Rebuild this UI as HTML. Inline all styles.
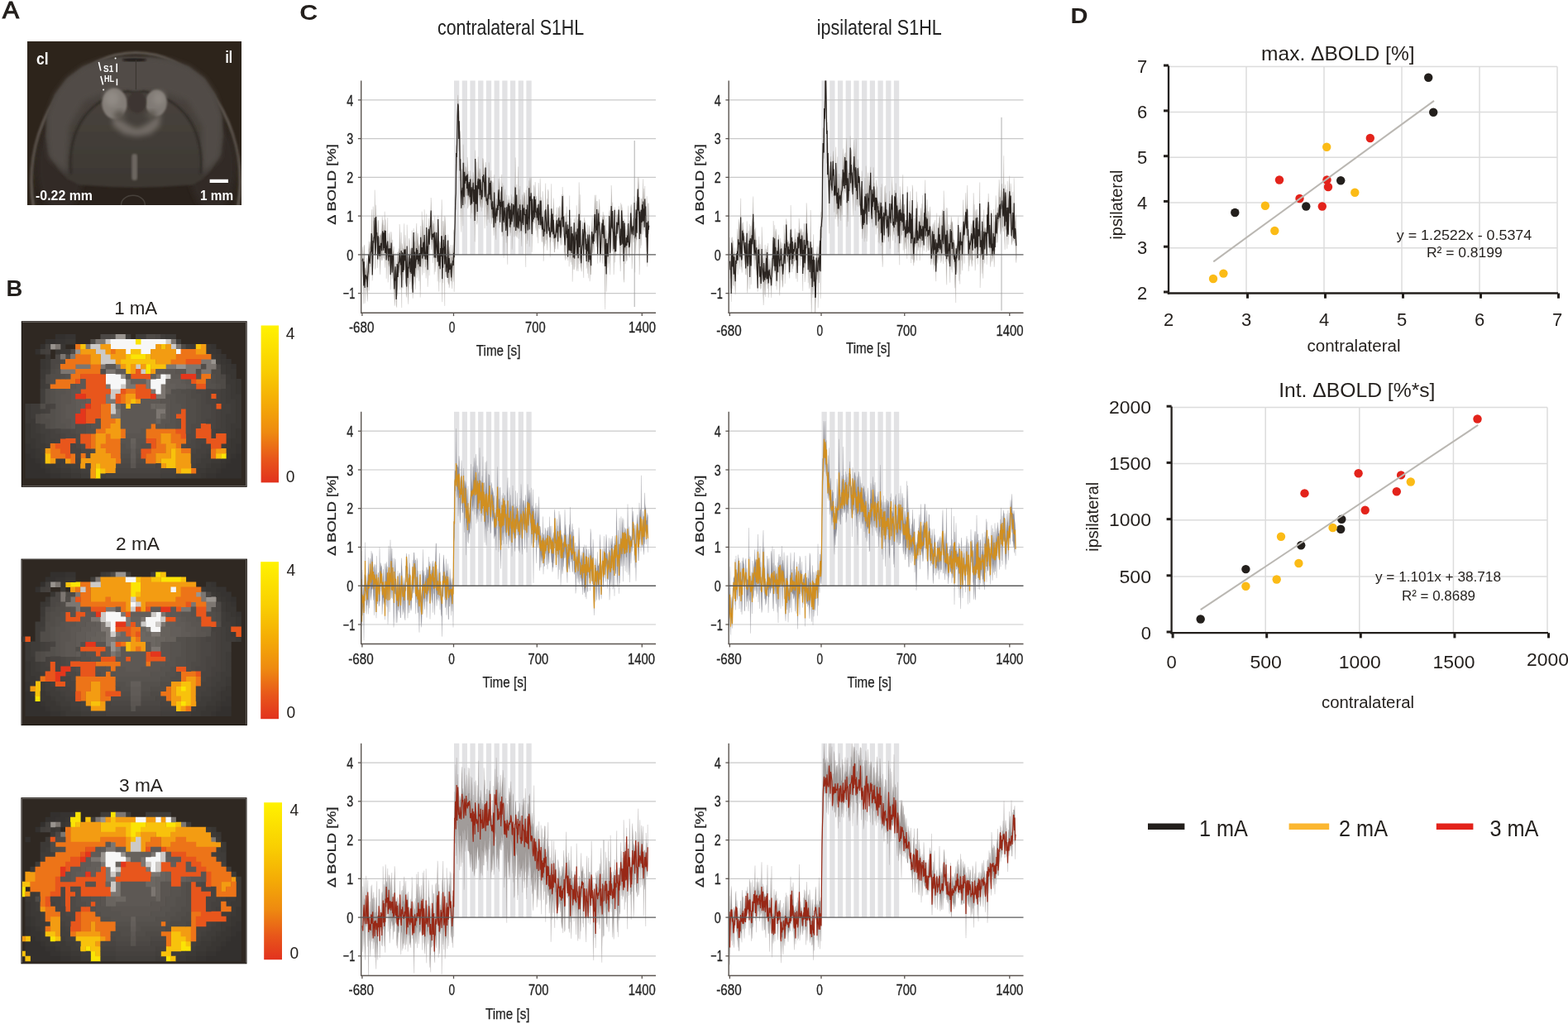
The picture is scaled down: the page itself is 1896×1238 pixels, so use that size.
<!DOCTYPE html><html><head><meta charset="utf-8"><style>html,body{margin:0;padding:0;background:#fff;}svg{display:block;}text{font-family:'Liberation Sans', Arial, sans-serif;}</style></head><body>
<svg width="1896" height="1238" viewBox="0 0 1896 1238">
<rect width="1896" height="1238" fill="#fff"/>
<text x="3.0" y="21.8" font-size="29" text-anchor="start" fill="#231f1c" font-weight="normal" textLength="20.0" lengthAdjust="spacingAndGlyphs" stroke="#231f1c" stroke-width="1.1">A</text>
<text x="7.6" y="358.0" font-size="27.5" text-anchor="start" fill="#231f1c" font-weight="bold" textLength="19.8" lengthAdjust="spacingAndGlyphs" >B</text>
<text x="362.2" y="24.2" font-size="25" text-anchor="start" fill="#231f1c" font-weight="bold" textLength="22.0" lengthAdjust="spacingAndGlyphs" >C</text>
<text x="1294.6" y="27.7" font-size="26" text-anchor="start" fill="#231f1c" font-weight="bold" textLength="21.0" lengthAdjust="spacingAndGlyphs" >D</text>
<clipPath id="clipA"><rect x="33" y="50" width="259" height="198"/></clipPath>
<filter id="blA" x="-10%" y="-10%" width="120%" height="120%"><feGaussianBlur stdDeviation="1.3"/></filter>
<filter id="blA2" x="-30%" y="-30%" width="160%" height="160%"><feGaussianBlur stdDeviation="3"/></filter>
<linearGradient id="brainG" x1="0" y1="0" x2="0" y2="1"><stop offset="0" stop-color="#4a4540"/><stop offset="0.5" stop-color="#45403a"/><stop offset="1" stop-color="#3c3732"/></linearGradient>
<rect x="33" y="50" width="259" height="198" fill="#2d241b"/>
<g clip-path="url(#clipA)">
<ellipse cx="164.1" cy="219.5" rx="126.3" ry="155.9" fill="#332b23" stroke="#5e5750" stroke-width="3" filter="url(#blA)"/>
<ellipse cx="164.1" cy="219.5" rx="121.5" ry="152.4" fill="#2a231c" filter="url(#blA)"/>
<ellipse cx="73.0" cy="201.9" rx="28.8" ry="52.8" fill="#332c25" filter="url(#blA2)"/>
<ellipse cx="256.9" cy="201.9" rx="28.8" ry="52.8" fill="#332c25" filter="url(#blA2)"/>
<polygon points="55.4,165.1 57.0,139.5 66.6,114.0 81.0,94.8 100.2,80.4 122.5,72.4 144.9,69.5 164.1,69.2 183.3,69.5 205.7,72.4 228.1,80.4 247.3,94.8 260.1,114.0 268.0,139.5 269.6,165.1 267.3,185.9 256.9,203.5 245.7,216.3 232.9,223.5 192.9,225.9 164.1,226.7 135.3,225.9 95.4,223.5 81.0,216.3 69.8,203.5 58.6,185.9" fill="url(#brainG)" filter="url(#blA)"/>
<polygon points="59.4,190.7 57.0,165.1 57.0,139.5 66.6,114.0 81.0,94.8 100.2,80.4 122.5,72.4 144.9,69.5 164.1,69.2 183.3,69.5 205.7,72.4 228.1,80.4 247.3,94.8 260.1,114.0 268.0,139.5 268.0,165.1 265.7,190.7 245.7,209.9 244.1,177.9 244.1,152.3 226.5,122.0 202.5,112.4 176.9,110.4 164.1,112.4 151.3,110.4 125.7,112.4 101.8,122.0 84.2,152.3 82.6,177.9 81.0,209.9" fill="#514c46" filter="url(#blA2)"/>
<path d="M85.8,209.9 C81.0,152.3 109.8,118.8 154.5,110.4 Q164.1,113.6 173.7,110.4 C218.5,118.8 247.3,152.3 242.5,209.9" fill="none" stroke="#2f2a25" stroke-width="2.4" filter="url(#blA)"/>
<ellipse cx="162.5" cy="72.4" rx="14.4" ry="1.9" fill="#1d1813" filter="url(#blA)"/>
<line x1="164.4" y1="72.4" x2="164.4" y2="108.4" stroke="#3a342e" stroke-width="1"/>
<polygon points="135.3,133.1 148.1,145.9 157.7,152.3 165.7,155.5 173.7,152.3 183.3,145.9 194.5,133.1 192.9,152.3 181.7,161.9 165.7,165.1 149.7,161.9 136.9,152.3" fill="#726c66" filter="url(#blA2)"/>
<ellipse cx="138.5" cy="125.2" rx="15.2" ry="18.4" fill="#837d77" filter="url(#blA)"/>
<ellipse cx="188.9" cy="124.4" rx="12.8" ry="16.0" fill="#807a74" filter="url(#blA)"/>
<ellipse cx="135.3" cy="118.8" rx="8.8" ry="9.6" fill="#918b85" filter="url(#blA2)"/>
<ellipse cx="192.1" cy="118.8" rx="7.2" ry="8.0" fill="#8e8882" filter="url(#blA2)"/>
<ellipse cx="165.7" cy="123.6" rx="11.2" ry="12.8" fill="#3c3630" filter="url(#blA)"/>
<ellipse cx="144.9" cy="139.5" rx="7.2" ry="5.6" fill="#5a544e" filter="url(#blA2)"/>
<ellipse cx="182.5" cy="138.7" rx="6.4" ry="4.8" fill="#5a544e" filter="url(#blA2)"/>
<rect x="159.3" y="185.9" width="6.7" height="32.0" rx="3" fill="#6c6660" filter="url(#blA)"/>
<ellipse cx="160.9" cy="247.5" rx="14.4" ry="11.2" fill="none" stroke="#47413b" stroke-width="1.5"/>
</g>
<text x="44" y="77.5" font-size="21" font-family="'Liberation Sans', Arial, sans-serif" font-weight="bold" fill="#ffffff" textLength="14.5" lengthAdjust="spacingAndGlyphs">cl</text>
<text x="272.6" y="76.4" font-size="21" font-family="'Liberation Sans', Arial, sans-serif" font-weight="bold" fill="#ffffff" textLength="8.5" lengthAdjust="spacingAndGlyphs">il</text>
<text x="43" y="242" font-size="16" font-family="'Liberation Sans', Arial, sans-serif" font-weight="bold" fill="#ffffff" textLength="69" lengthAdjust="spacingAndGlyphs">-0.22 mm</text>
<text x="242" y="242" font-size="16" font-family="'Liberation Sans', Arial, sans-serif" font-weight="bold" fill="#ffffff" textLength="40" lengthAdjust="spacingAndGlyphs">1 mm</text>
<rect x="253.6" y="216.8" width="22.4" height="4.2" fill="#ffffff"/>
<text x="125.1" y="87.2" font-size="11" font-family="'Liberation Sans', Arial, sans-serif" font-weight="bold" fill="#ffffff" textLength="12.1" lengthAdjust="spacingAndGlyphs">S1</text>
<text x="125.9" y="98.9" font-size="10" font-family="'Liberation Sans', Arial, sans-serif" font-weight="bold" fill="#ffffff" textLength="12.1" lengthAdjust="spacingAndGlyphs">HL</text>
<path d="M119.4,75 L121.9,85.5 M121.9,92 L124.6,102.5 M141.2,76.7 L141.2,87.2 M141.4,95.2 L141.4,103.3" stroke="#fff" stroke-width="1.6" fill="none"/>
<circle cx="139.6" cy="70.6" r="1" fill="#fff"/><circle cx="125.1" cy="108.6" r="1" fill="#fff"/>
<clipPath id="hc0"><rect x="26.9" y="389.3" width="270.7" height="198.5"/></clipPath>
<g clip-path="url(#hc0)">
<rect x="26.9" y="389.3" width="270.7" height="198.5" fill="#2f2822"/>
<g transform="translate(24.34,386.1) scale(6.07,6.0)">
<path fill="#33302e" d="M7 3h2.07v1.07h-2.07zM5 4h2.07v1.07h-2.07zM4 5h1.07v1.07h-1.07zM3 6h1.07v1.07h-1.07zM1 27h1.07v1.07h-1.07zM43 27h1.07v1.07h-1.07zM1 28h2.07v1.07h-2.07zM42 28h2.07v1.07h-2.07zM1 29h3.07v1.07h-3.07zM41 29h3.07v1.07h-3.07zM1 30h4.07v1.07h-4.07zM40 30h4.07v1.07h-4.07zM1 31h5.07v1.07h-5.07zM39 31h5.07v1.07h-5.07z"/>
<path fill="#363331" d="M9 3h2.07v1.07h-2.07zM7 4h2.07v1.07h-2.07zM38 5h1.07v1.07h-1.07zM39 6h1.07v1.07h-1.07zM40 7h1.07v1.07h-1.07zM41 8h1.07v1.07h-1.07zM42 9h1.07v1.07h-1.07zM1 25h1.07v1.07h-1.07zM43 25h1.07v1.07h-1.07zM1 26h2.07v1.07h-2.07zM43 26h1.07v1.07h-1.07zM2 27h1.07v1.07h-1.07zM42 27h1.07v1.07h-1.07zM3 28h1.07v1.07h-1.07zM41 28h1.07v1.07h-1.07zM4 29h1.07v1.07h-1.07zM40 29h1.07v1.07h-1.07zM5 30h1.07v1.07h-1.07zM39 30h1.07v1.07h-1.07zM6 31h2.07v1.07h-2.07zM37 31h2.07v1.07h-2.07z"/>
<path fill="#4b4744" d="M16 3h2.07v1.07h-2.07zM27 3h1.07v1.07h-1.07zM7 7h1.07v1.07h-1.07zM6 8h2.07v1.07h-2.07zM6 9h1.07v1.07h-1.07zM39 9h1.07v1.07h-1.07zM40 11h1.07v1.07h-1.07zM35 14h2.07v1.07h-2.07zM36 15h1.07v1.07h-1.07zM36 16h1.07v1.07h-1.07zM36 17h2.07v1.07h-2.07zM36 18h2.07v1.07h-2.07zM36 19h2.07v1.07h-2.07zM36 20h1.07v1.07h-1.07zM8 22h2.07v1.07h-2.07zM9 23h2.07v1.07h-2.07zM34 24h1.07v1.07h-1.07zM11 25h1.07v1.07h-1.07zM33 25h2.07v1.07h-2.07zM12 26h2.07v1.07h-2.07zM13 27h1.07v1.07h-1.07zM19 29h3.07v1.07h-3.07zM23 29h4.07v1.07h-4.07z"/>
<path fill="#4e4a46" d="M18 3h1.07v1.07h-1.07zM25 3h2.07v1.07h-2.07zM14 4h1.07v1.07h-1.07zM32 5h1.07v1.07h-1.07zM10 6h1.07v1.07h-1.07zM9 7h1.07v1.07h-1.07zM8 8h1.07v1.07h-1.07zM7 9h1.07v1.07h-1.07zM6 10h1.07v1.07h-1.07zM38 10h2.07v1.07h-2.07zM5 11h1.07v1.07h-1.07zM39 11h1.07v1.07h-1.07zM5 12h1.07v1.07h-1.07zM39 12h2.07v1.07h-2.07zM40 13h1.07v1.07h-1.07zM34 14h1.07v1.07h-1.07zM34 15h2.07v1.07h-2.07zM35 16h1.07v1.07h-1.07zM35 17h1.07v1.07h-1.07zM35 18h1.07v1.07h-1.07zM3 19h1.07v1.07h-1.07zM35 19h1.07v1.07h-1.07zM3 20h1.07v1.07h-1.07zM35 20h1.07v1.07h-1.07zM34 21h2.07v1.07h-2.07zM10 22h1.07v1.07h-1.07zM34 22h1.07v1.07h-1.07zM11 23h1.07v1.07h-1.07zM33 23h2.07v1.07h-2.07zM11 24h1.07v1.07h-1.07zM33 24h1.07v1.07h-1.07zM12 25h1.07v1.07h-1.07zM32 25h1.07v1.07h-1.07zM14 26h1.07v1.07h-1.07zM20 28h2.07v1.07h-2.07zM23 28h2.07v1.07h-2.07z"/>
<path fill="#99948f" d="M19 3h2.07v1.07h-2.07zM6 5h1.07v1.07h-1.07zM11 6h1.07v1.07h-1.07zM38 8h1.07v1.07h-1.07zM31 9h2.07v1.07h-2.07zM20 11h1.07v1.07h-1.07z"/>
<path fill="#3f3c39" d="M21 3h1.07v1.07h-1.07zM23 3h2.07v1.07h-2.07zM28 3h1.07v1.07h-1.07zM31 4h1.07v1.07h-1.07zM33 5h1.07v1.07h-1.07zM5 10h1.07v1.07h-1.07zM4 12h1.07v1.07h-1.07zM4 13h1.07v1.07h-1.07zM41 13h1.07v1.07h-1.07zM41 14h1.07v1.07h-1.07zM41 15h1.07v1.07h-1.07zM41 16h2.07v1.07h-2.07zM2 17h2.07v1.07h-2.07zM42 17h1.07v1.07h-1.07zM2 18h2.07v1.07h-2.07zM42 18h1.07v1.07h-1.07zM2 19h1.07v1.07h-1.07zM41 19h2.07v1.07h-2.07zM41 20h2.07v1.07h-2.07zM3 21h1.07v1.07h-1.07zM41 21h1.07v1.07h-1.07zM3 22h1.07v1.07h-1.07zM41 22h1.07v1.07h-1.07zM4 23h1.07v1.07h-1.07zM41 23h1.07v1.07h-1.07zM4 24h1.07v1.07h-1.07zM5 25h1.07v1.07h-1.07zM40 25h1.07v1.07h-1.07zM37 27h1.07v1.07h-1.07zM7 28h2.07v1.07h-2.07zM36 28h2.07v1.07h-2.07zM8 29h2.07v1.07h-2.07zM35 29h2.07v1.07h-2.07zM10 30h2.07v1.07h-2.07zM12 31h2.07v1.07h-2.07zM31 31h3.07v1.07h-3.07z"/>
<path fill="#3c3936" d="M29 3h2.07v1.07h-2.07zM34 5h1.07v1.07h-1.07zM8 6h2.07v1.07h-2.07zM38 7h1.07v1.07h-1.07zM5 8h1.07v1.07h-1.07zM39 8h1.07v1.07h-1.07zM5 9h1.07v1.07h-1.07zM40 9h1.07v1.07h-1.07zM4 10h1.07v1.07h-1.07zM40 10h1.07v1.07h-1.07zM4 11h1.07v1.07h-1.07zM41 11h1.07v1.07h-1.07zM41 12h2.07v1.07h-2.07zM42 13h1.07v1.07h-1.07zM42 14h1.07v1.07h-1.07zM42 15h2.07v1.07h-2.07zM43 16h1.07v1.07h-1.07zM1 17h1.07v1.07h-1.07zM43 17h1.07v1.07h-1.07zM1 18h1.07v1.07h-1.07zM43 18h1.07v1.07h-1.07zM1 19h1.07v1.07h-1.07zM43 19h1.07v1.07h-1.07zM1 20h2.07v1.07h-2.07zM43 20h1.07v1.07h-1.07zM2 21h1.07v1.07h-1.07zM42 21h2.07v1.07h-2.07zM2 22h1.07v1.07h-1.07zM42 22h1.07v1.07h-1.07zM2 23h2.07v1.07h-2.07zM42 23h1.07v1.07h-1.07zM3 24h1.07v1.07h-1.07zM41 24h1.07v1.07h-1.07zM3 25h2.07v1.07h-2.07zM41 25h1.07v1.07h-1.07zM4 26h1.07v1.07h-1.07zM38 28h2.07v1.07h-2.07zM7 29h1.07v1.07h-1.07zM37 29h1.07v1.07h-1.07zM8 30h2.07v1.07h-2.07zM35 30h2.07v1.07h-2.07zM10 31h2.07v1.07h-2.07zM34 31h2.07v1.07h-2.07z"/>
<path fill="#393633" d="M9 4h2.07v1.07h-2.07zM8 5h1.07v1.07h-1.07zM37 5h1.07v1.07h-1.07zM7 6h1.07v1.07h-1.07zM37 6h2.07v1.07h-2.07zM5 7h1.07v1.07h-1.07zM39 7h1.07v1.07h-1.07zM4 8h1.07v1.07h-1.07zM40 8h1.07v1.07h-1.07zM4 9h1.07v1.07h-1.07zM41 9h1.07v1.07h-1.07zM41 10h2.07v1.07h-2.07zM42 11h1.07v1.07h-1.07zM43 12h1.07v1.07h-1.07zM43 13h1.07v1.07h-1.07zM43 14h1.07v1.07h-1.07zM1 21h1.07v1.07h-1.07zM1 22h1.07v1.07h-1.07zM43 22h1.07v1.07h-1.07zM1 23h1.07v1.07h-1.07zM43 23h1.07v1.07h-1.07zM1 24h2.07v1.07h-2.07zM42 24h2.07v1.07h-2.07zM2 25h1.07v1.07h-1.07zM42 25h1.07v1.07h-1.07zM3 26h1.07v1.07h-1.07zM41 26h2.07v1.07h-2.07zM3 27h2.07v1.07h-2.07zM41 27h1.07v1.07h-1.07zM4 28h1.07v1.07h-1.07zM40 28h1.07v1.07h-1.07zM5 29h2.07v1.07h-2.07zM38 29h2.07v1.07h-2.07zM6 30h2.07v1.07h-2.07zM37 30h2.07v1.07h-2.07zM8 31h2.07v1.07h-2.07zM36 31h1.07v1.07h-1.07z"/>
<path fill="#7c7671" d="M15 4h2.07v1.07h-2.07zM30 4h1.07v1.07h-1.07zM7 5h1.07v1.07h-1.07zM13 5h1.07v1.07h-1.07zM31 5h1.07v1.07h-1.07zM8 7h1.07v1.07h-1.07zM10 7h1.07v1.07h-1.07zM36 8h2.07v1.07h-2.07zM11 9h3.07v1.07h-3.07zM16 9h1.07v1.07h-1.07zM19 9h1.07v1.07h-1.07zM29 9h2.07v1.07h-2.07zM33 9h3.07v1.07h-3.07zM37 9h2.07v1.07h-2.07zM8 10h3.07v1.07h-3.07zM17 10h2.07v1.07h-2.07zM33 10h2.07v1.07h-2.07zM36 10h2.07v1.07h-2.07zM27 11h1.07v1.07h-1.07zM21 12h1.07v1.07h-1.07zM25 12h1.07v1.07h-1.07zM17 13h1.07v1.07h-1.07zM21 13h2.07v1.07h-2.07zM25 13h1.07v1.07h-1.07zM28 13h1.07v1.07h-1.07zM26 14h1.07v1.07h-1.07zM28 14h1.07v1.07h-1.07zM17 15h1.07v1.07h-1.07zM27 15h2.07v1.07h-2.07zM17 16h2.07v1.07h-2.07zM19 18h1.07v1.07h-1.07zM27 18h2.07v1.07h-2.07zM18 19h2.07v1.07h-2.07zM27 19h1.07v1.07h-1.07z"/>
<path fill="#cdcac7" d="M17 4h1.07v1.07h-1.07zM29 4h1.07v1.07h-1.07zM14 5h2.07v1.07h-2.07zM30 5h1.07v1.07h-1.07zM15 6h2.07v1.07h-2.07zM16 7h2.07v1.07h-2.07zM16 8h3.07v1.07h-3.07zM23 9h1.07v1.07h-1.07zM24 10h1.07v1.07h-1.07zM29 11h1.07v1.07h-1.07zM20 13h1.07v1.07h-1.07zM18 14h2.07v1.07h-2.07zM18 15h1.07v1.07h-1.07zM18 17h1.07v1.07h-1.07zM18 18h1.07v1.07h-1.07z"/>
<path fill="#f7f7f7" d="M18 4h5.07v1.07h-5.07zM24 4h5.07v1.07h-5.07zM18 5h9.07v1.07h-9.07zM21 6h1.07v1.07h-1.07zM24 6h2.07v1.07h-2.07zM31 6h1.07v1.07h-1.07zM17 11h3.07v1.07h-3.07zM28 11h1.07v1.07h-1.07zM17 12h4.07v1.07h-4.07zM26 12h3.07v1.07h-3.07zM18 13h2.07v1.07h-2.07zM26 13h2.07v1.07h-2.07zM27 14h1.07v1.07h-1.07z"/>
<path fill="#fbe405" d="M23 4h1.07v1.07h-1.07zM22 7h3.07v1.07h-3.07zM25 9h1.07v1.07h-1.07zM25 10h1.07v1.07h-1.07zM40 27h1.07v1.07h-1.07zM15 30h1.07v1.07h-1.07zM15 31h1.07v1.07h-1.07z"/>
<path fill="#423f3c" d="M5 5h1.07v1.07h-1.07zM4 6h1.07v1.07h-1.07zM5 13h1.07v1.07h-1.07zM4 14h1.07v1.07h-1.07zM40 14h1.07v1.07h-1.07zM4 15h1.07v1.07h-1.07zM40 15h1.07v1.07h-1.07zM4 16h1.07v1.07h-1.07zM40 16h1.07v1.07h-1.07zM40 17h2.07v1.07h-2.07zM4 18h1.07v1.07h-1.07zM40 18h2.07v1.07h-2.07zM40 19h1.07v1.07h-1.07zM40 20h1.07v1.07h-1.07zM4 21h1.07v1.07h-1.07zM40 21h1.07v1.07h-1.07zM4 22h2.07v1.07h-2.07zM39 22h2.07v1.07h-2.07zM5 23h1.07v1.07h-1.07zM5 24h2.07v1.07h-2.07zM37 26h1.07v1.07h-1.07zM36 27h1.07v1.07h-1.07zM35 28h1.07v1.07h-1.07zM10 29h2.07v1.07h-2.07zM34 29h1.07v1.07h-1.07zM12 30h2.07v1.07h-2.07zM16 31h1.07v1.07h-1.07zM28 31h3.07v1.07h-3.07z"/>
<path fill="#ed7418" d="M11 5h1.07v1.07h-1.07zM18 6h1.07v1.07h-1.07zM32 6h3.07v1.07h-3.07zM11 7h3.07v1.07h-3.07zM31 7h7.07v1.07h-7.07zM9 8h5.07v1.07h-5.07zM30 8h3.07v1.07h-3.07zM8 9h3.07v1.07h-3.07zM14 9h2.07v1.07h-2.07zM11 10h5.07v1.07h-5.07zM10 11h2.07v1.07h-2.07zM36 11h2.07v1.07h-2.07zM7 12h4.07v1.07h-4.07zM35 12h2.07v1.07h-2.07zM6 13h4.07v1.07h-4.07zM21 14h2.07v1.07h-2.07zM20 15h1.07v1.07h-1.07zM20 16h1.07v1.07h-1.07zM16 17h2.07v1.07h-2.07zM16 18h2.07v1.07h-2.07zM16 19h2.07v1.07h-2.07zM16 20h3.07v1.07h-3.07zM16 21h2.07v1.07h-2.07zM26 21h1.07v1.07h-1.07zM15 22h2.07v1.07h-2.07zM20 22h1.07v1.07h-1.07zM25 22h6.07v1.07h-6.07zM14 23h1.07v1.07h-1.07zM17 23h1.07v1.07h-1.07zM20 23h1.07v1.07h-1.07zM25 23h3.07v1.07h-3.07zM30 23h2.07v1.07h-2.07zM14 24h1.07v1.07h-1.07zM17 24h3.07v1.07h-3.07zM27 24h1.07v1.07h-1.07zM30 24h3.07v1.07h-3.07zM6 25h1.07v1.07h-1.07zM14 25h1.07v1.07h-1.07zM16 25h4.07v1.07h-4.07zM27 25h2.07v1.07h-2.07zM31 25h1.07v1.07h-1.07zM6 26h2.07v1.07h-2.07zM17 26h3.07v1.07h-3.07zM26 26h3.07v1.07h-3.07zM32 26h2.07v1.07h-2.07zM38 26h1.07v1.07h-1.07zM6 27h3.07v1.07h-3.07zM10 27h1.07v1.07h-1.07zM12 27h1.07v1.07h-1.07zM18 27h2.07v1.07h-2.07zM25 27h2.07v1.07h-2.07zM38 27h1.07v1.07h-1.07zM10 28h1.07v1.07h-1.07zM19 28h1.07v1.07h-1.07zM25 28h2.07v1.07h-2.07zM34 30h1.07v1.07h-1.07z"/>
<path fill="#f8c20c" d="M12 5h1.07v1.07h-1.07zM28 5h1.07v1.07h-1.07zM35 5h1.07v1.07h-1.07zM22 6h2.07v1.07h-2.07zM21 7h1.07v1.07h-1.07zM25 7h1.07v1.07h-1.07zM20 8h7.07v1.07h-7.07zM21 9h1.07v1.07h-1.07zM26 9h3.07v1.07h-3.07zM21 10h1.07v1.07h-1.07zM22 16h1.07v1.07h-1.07zM21 17h1.07v1.07h-1.07zM30 26h1.07v1.07h-1.07zM5 27h1.07v1.07h-1.07zM30 27h1.07v1.07h-1.07zM39 27h1.07v1.07h-1.07zM5 28h1.07v1.07h-1.07zM28 28h3.07v1.07h-3.07zM15 29h1.07v1.07h-1.07zM29 29h2.07v1.07h-2.07zM16 30h1.07v1.07h-1.07zM32 30h2.07v1.07h-2.07z"/>
<path fill="#f39c12" d="M16 5h2.07v1.07h-2.07zM27 5h1.07v1.07h-1.07zM29 5h1.07v1.07h-1.07zM36 5h1.07v1.07h-1.07zM12 6h3.07v1.07h-3.07zM17 6h1.07v1.07h-1.07zM19 6h2.07v1.07h-2.07zM26 6h5.07v1.07h-5.07zM35 6h2.07v1.07h-2.07zM14 7h2.07v1.07h-2.07zM18 7h3.07v1.07h-3.07zM26 7h5.07v1.07h-5.07zM14 8h2.07v1.07h-2.07zM19 8h1.07v1.07h-1.07zM27 8h3.07v1.07h-3.07zM20 9h1.07v1.07h-1.07zM22 9h1.07v1.07h-1.07zM24 9h1.07v1.07h-1.07zM22 10h1.07v1.07h-1.07zM26 10h1.07v1.07h-1.07zM21 15h2.07v1.07h-2.07zM21 16h1.07v1.07h-1.07zM23 16h1.07v1.07h-1.07zM19 20h1.07v1.07h-1.07zM18 21h2.07v1.07h-2.07zM17 22h3.07v1.07h-3.07zM15 23h2.07v1.07h-2.07zM18 23h2.07v1.07h-2.07zM28 23h2.07v1.07h-2.07zM15 24h2.07v1.07h-2.07zM28 24h2.07v1.07h-2.07zM15 25h1.07v1.07h-1.07zM29 25h2.07v1.07h-2.07zM5 26h1.07v1.07h-1.07zM15 26h2.07v1.07h-2.07zM29 26h1.07v1.07h-1.07zM31 26h1.07v1.07h-1.07zM39 26h2.07v1.07h-2.07zM14 27h4.07v1.07h-4.07zM27 27h3.07v1.07h-3.07zM31 27h3.07v1.07h-3.07zM6 28h1.07v1.07h-1.07zM9 28h1.07v1.07h-1.07zM12 28h7.07v1.07h-7.07zM27 28h1.07v1.07h-1.07zM31 28h3.07v1.07h-3.07zM12 29h1.07v1.07h-1.07zM14 29h1.07v1.07h-1.07zM16 29h3.07v1.07h-3.07zM28 29h1.07v1.07h-1.07zM31 29h3.07v1.07h-3.07zM14 30h1.07v1.07h-1.07zM17 30h2.07v1.07h-2.07zM31 30h1.07v1.07h-1.07zM14 31h1.07v1.07h-1.07z"/>
<path fill="#45413e" d="M5 6h1.07v1.07h-1.07zM38 14h2.07v1.07h-2.07zM39 15h1.07v1.07h-1.07zM39 16h1.07v1.07h-1.07zM5 17h1.07v1.07h-1.07zM5 18h1.07v1.07h-1.07zM39 18h1.07v1.07h-1.07zM39 19h1.07v1.07h-1.07zM39 20h1.07v1.07h-1.07zM39 21h1.07v1.07h-1.07zM6 22h1.07v1.07h-1.07zM38 22h1.07v1.07h-1.07zM6 23h2.07v1.07h-2.07zM38 23h1.07v1.07h-1.07zM7 24h1.07v1.07h-1.07zM36 25h2.07v1.07h-2.07zM35 26h2.07v1.07h-2.07zM34 27h2.07v1.07h-2.07zM11 28h1.07v1.07h-1.07zM34 28h1.07v1.07h-1.07zM13 29h1.07v1.07h-1.07zM28 30h3.07v1.07h-3.07zM17 31h11.07v1.07h-11.07z"/>
<path fill="#e8561c" d="M33 8h3.07v1.07h-3.07zM23 10h1.07v1.07h-1.07zM12 11h5.07v1.07h-5.07zM22 11h4.07v1.07h-4.07zM11 12h1.07v1.07h-1.07zM13 12h4.07v1.07h-4.07zM34 12h1.07v1.07h-1.07zM13 13h4.07v1.07h-4.07zM23 13h2.07v1.07h-2.07zM35 13h2.07v1.07h-2.07zM12 14h6.07v1.07h-6.07zM20 14h1.07v1.07h-1.07zM23 14h3.07v1.07h-3.07zM13 15h4.07v1.07h-4.07zM19 15h1.07v1.07h-1.07zM23 15h3.07v1.07h-3.07zM38 15h1.07v1.07h-1.07zM14 16h3.07v1.07h-3.07zM19 16h1.07v1.07h-1.07zM14 17h2.07v1.07h-2.07zM39 17h1.07v1.07h-1.07zM13 18h3.07v1.07h-3.07zM32 18h1.07v1.07h-1.07zM13 19h3.07v1.07h-3.07zM31 19h2.07v1.07h-2.07zM13 20h2.07v1.07h-2.07zM32 20h1.07v1.07h-1.07zM32 21h1.07v1.07h-1.07zM36 21h2.07v1.07h-2.07zM31 22h2.07v1.07h-2.07zM35 22h3.07v1.07h-3.07zM12 23h2.07v1.07h-2.07zM32 23h1.07v1.07h-1.07zM35 23h3.07v1.07h-3.07zM39 23h2.07v1.07h-2.07zM8 24h3.07v1.07h-3.07zM12 24h2.07v1.07h-2.07zM25 24h2.07v1.07h-2.07zM37 24h4.07v1.07h-4.07zM7 25h3.07v1.07h-3.07zM13 25h1.07v1.07h-1.07zM26 25h1.07v1.07h-1.07zM38 25h2.07v1.07h-2.07zM8 26h2.07v1.07h-2.07zM24 26h2.07v1.07h-2.07zM9 27h1.07v1.07h-1.07zM24 27h1.07v1.07h-1.07z"/>
<path fill="#5d5854" d="M17 9h2.07v1.07h-2.07zM29 10h2.07v1.07h-2.07zM30 11h2.07v1.07h-2.07zM12 12h1.07v1.07h-1.07zM32 12h1.07v1.07h-1.07zM11 13h2.07v1.07h-2.07zM33 13h1.07v1.07h-1.07zM10 14h2.07v1.07h-2.07zM10 15h1.07v1.07h-1.07zM10 16h1.07v1.07h-1.07zM24 16h4.07v1.07h-4.07zM9 17h2.07v1.07h-2.07zM20 17h1.07v1.07h-1.07zM22 17h4.07v1.07h-4.07zM9 18h2.07v1.07h-2.07zM20 18h7.07v1.07h-7.07zM9 19h2.07v1.07h-2.07zM20 19h7.07v1.07h-7.07zM10 20h1.07v1.07h-1.07zM20 20h7.07v1.07h-7.07zM10 21h1.07v1.07h-1.07zM20 21h6.07v1.07h-6.07zM21 22h3.07v1.07h-3.07zM22 28h1.07v1.07h-1.07z"/>
<path fill="#514d49" d="M36 9h1.07v1.07h-1.07zM7 10h1.07v1.07h-1.07zM16 10h1.07v1.07h-1.07zM6 11h2.07v1.07h-2.07zM38 11h1.07v1.07h-1.07zM6 12h1.07v1.07h-1.07zM38 12h1.07v1.07h-1.07zM39 13h1.07v1.07h-1.07zM5 14h1.07v1.07h-1.07zM32 14h2.07v1.07h-2.07zM5 15h1.07v1.07h-1.07zM33 15h1.07v1.07h-1.07zM5 16h1.07v1.07h-1.07zM33 16h2.07v1.07h-2.07zM4 17h1.07v1.07h-1.07zM33 17h2.07v1.07h-2.07zM33 18h2.07v1.07h-2.07zM4 19h1.07v1.07h-1.07zM33 19h2.07v1.07h-2.07zM4 20h2.07v1.07h-2.07zM33 20h2.07v1.07h-2.07zM5 21h1.07v1.07h-1.07zM11 21h2.07v1.07h-2.07zM33 21h1.07v1.07h-1.07zM11 22h2.07v1.07h-2.07zM33 22h1.07v1.07h-1.07zM20 27h2.07v1.07h-2.07zM23 27h1.07v1.07h-1.07z"/>
<path fill="#605b57" d="M19 10h2.07v1.07h-2.07zM27 10h2.07v1.07h-2.07zM30 12h2.07v1.07h-2.07zM31 13h2.07v1.07h-2.07zM11 16h2.07v1.07h-2.07zM11 17h1.07v1.07h-1.07zM11 18h1.07v1.07h-1.07zM22 26h1.07v1.07h-1.07zM22 27h1.07v1.07h-1.07z"/>
<path fill="#5a5551" d="M31 10h2.07v1.07h-2.07zM33 12h1.07v1.07h-1.07zM10 13h1.07v1.07h-1.07zM34 13h1.07v1.07h-1.07zM9 14h1.07v1.07h-1.07zM8 15h2.07v1.07h-2.07zM8 16h2.07v1.07h-2.07zM28 16h2.07v1.07h-2.07zM8 17h1.07v1.07h-1.07zM29 17h1.07v1.07h-1.07zM8 18h1.07v1.07h-1.07zM29 18h1.07v1.07h-1.07zM8 19h1.07v1.07h-1.07zM29 19h1.07v1.07h-1.07zM8 20h2.07v1.07h-2.07zM28 20h2.07v1.07h-2.07zM9 21h1.07v1.07h-1.07zM27 21h2.07v1.07h-2.07zM24 22h1.07v1.07h-1.07zM21 23h4.07v1.07h-4.07zM22 29h1.07v1.07h-1.07z"/>
<path fill="#54504c" d="M35 10h1.07v1.07h-1.07zM8 11h1.07v1.07h-1.07zM37 12h1.07v1.07h-1.07zM37 13h2.07v1.07h-2.07zM6 14h1.07v1.07h-1.07zM30 14h2.07v1.07h-2.07zM6 15h1.07v1.07h-1.07zM31 15h2.07v1.07h-2.07zM6 16h1.07v1.07h-1.07zM31 16h2.07v1.07h-2.07zM32 17h1.07v1.07h-1.07zM6 18h1.07v1.07h-1.07zM5 19h2.07v1.07h-2.07zM6 20h1.07v1.07h-1.07zM31 20h1.07v1.07h-1.07zM6 21h1.07v1.07h-1.07zM13 21h1.07v1.07h-1.07zM31 21h1.07v1.07h-1.07zM13 22h2.07v1.07h-2.07zM20 25h1.07v1.07h-1.07zM24 25h2.07v1.07h-2.07zM20 26h2.07v1.07h-2.07zM23 26h1.07v1.07h-1.07z"/>
<path fill="#57534f" d="M9 11h1.07v1.07h-1.07zM21 11h1.07v1.07h-1.07zM35 11h1.07v1.07h-1.07zM7 14h2.07v1.07h-2.07zM7 15h1.07v1.07h-1.07zM29 15h2.07v1.07h-2.07zM7 16h1.07v1.07h-1.07zM30 16h1.07v1.07h-1.07zM7 17h1.07v1.07h-1.07zM30 17h2.07v1.07h-2.07zM7 18h1.07v1.07h-1.07zM30 18h2.07v1.07h-2.07zM7 19h1.07v1.07h-1.07zM30 19h1.07v1.07h-1.07zM7 20h1.07v1.07h-1.07zM15 20h1.07v1.07h-1.07zM30 20h1.07v1.07h-1.07zM7 21h2.07v1.07h-2.07zM14 21h2.07v1.07h-2.07zM29 21h2.07v1.07h-2.07zM20 24h2.07v1.07h-2.07zM23 24h2.07v1.07h-2.07zM21 25h1.07v1.07h-1.07zM23 25h1.07v1.07h-1.07z"/>
<path fill="#635e5a" d="M26 11h1.07v1.07h-1.07zM29 12h1.07v1.07h-1.07zM29 13h2.07v1.07h-2.07zM13 16h1.07v1.07h-1.07zM12 17h1.07v1.07h-1.07zM22 25h1.07v1.07h-1.07z"/>
<path fill="#e4361c" d="M32 11h3.07v1.07h-3.07zM11 15h2.07v1.07h-2.07zM26 15h1.07v1.07h-1.07zM13 17h1.07v1.07h-1.07zM12 18h1.07v1.07h-1.07zM11 19h2.07v1.07h-2.07zM11 20h2.07v1.07h-2.07z"/>
<path fill="#66615c" d="M22 12h3.07v1.07h-3.07zM29 14h1.07v1.07h-1.07zM22 24h1.07v1.07h-1.07z"/>
<path fill="#484441" d="M37 14h1.07v1.07h-1.07zM37 15h1.07v1.07h-1.07zM37 16h2.07v1.07h-2.07zM6 17h1.07v1.07h-1.07zM38 17h1.07v1.07h-1.07zM38 18h1.07v1.07h-1.07zM38 19h1.07v1.07h-1.07zM37 20h2.07v1.07h-2.07zM38 21h1.07v1.07h-1.07zM7 22h1.07v1.07h-1.07zM8 23h1.07v1.07h-1.07zM35 24h2.07v1.07h-2.07zM10 25h1.07v1.07h-1.07zM35 25h1.07v1.07h-1.07zM10 26h2.07v1.07h-2.07zM34 26h1.07v1.07h-1.07zM11 27h1.07v1.07h-1.07zM27 29h1.07v1.07h-1.07zM19 30h9.07v1.07h-9.07z"/>
<path fill="#6c6762" d="M19 17h1.07v1.07h-1.07zM26 17h1.07v1.07h-1.07z"/>
<path fill="#69645f" d="M27 17h2.07v1.07h-2.07zM28 19h1.07v1.07h-1.07zM27 20h1.07v1.07h-1.07z"/>
</g>
</g>
<rect x="26.4" y="388.8" width="271.7" height="199.5" fill="none" stroke="#1b1510" stroke-width="1.2"/>
<clipPath id="hc1"><rect x="26.6" y="676.7" width="271.2" height="199.3"/></clipPath>
<g clip-path="url(#hc1)">
<rect x="26.6" y="676.7" width="271.2" height="199.3" fill="#2f2822"/>
<g transform="translate(24.34,673.6) scale(6.07,6.0)">
<path fill="#33302e" d="M6 3h3.07v1.07h-3.07zM5 4h2.07v1.07h-2.07zM4 5h1.07v1.07h-1.07zM3 6h1.07v1.07h-1.07zM42 8h1.07v1.07h-1.07zM1 27h1.07v1.07h-1.07zM1 28h2.07v1.07h-2.07zM1 29h3.07v1.07h-3.07zM1 30h4.07v1.07h-4.07zM40 30h2.07v1.07h-2.07zM1 31h5.07v1.07h-5.07zM39 31h3.07v1.07h-3.07z"/>
<path fill="#363331" d="M9 3h2.07v1.07h-2.07zM7 4h2.07v1.07h-2.07zM38 5h1.07v1.07h-1.07zM39 6h2.07v1.07h-2.07zM40 7h2.07v1.07h-2.07zM41 8h1.07v1.07h-1.07zM42 9h1.07v1.07h-1.07zM43 11h1.07v1.07h-1.07zM1 25h1.07v1.07h-1.07zM1 26h1.07v1.07h-1.07zM2 27h1.07v1.07h-1.07zM41 28h1.07v1.07h-1.07zM4 29h1.07v1.07h-1.07zM40 29h2.07v1.07h-2.07zM5 30h1.07v1.07h-1.07zM39 30h1.07v1.07h-1.07zM6 31h2.07v1.07h-2.07zM38 31h1.07v1.07h-1.07z"/>
<path fill="#3c3936" d="M16 3h1.07v1.07h-1.07zM8 6h1.07v1.07h-1.07zM36 6h1.07v1.07h-1.07zM38 7h1.07v1.07h-1.07zM39 8h1.07v1.07h-1.07zM5 9h1.07v1.07h-1.07zM40 9h1.07v1.07h-1.07zM4 10h1.07v1.07h-1.07zM40 10h1.07v1.07h-1.07zM4 11h1.07v1.07h-1.07zM41 11h1.07v1.07h-1.07zM41 12h2.07v1.07h-2.07zM42 13h1.07v1.07h-1.07zM42 15h1.07v1.07h-1.07zM43 16h1.07v1.07h-1.07zM1 17h1.07v1.07h-1.07zM1 18h1.07v1.07h-1.07zM1 19h1.07v1.07h-1.07zM1 20h2.07v1.07h-2.07zM2 21h1.07v1.07h-1.07zM2 22h1.07v1.07h-1.07zM2 23h2.07v1.07h-2.07zM3 24h1.07v1.07h-1.07zM41 24h1.07v1.07h-1.07zM4 25h1.07v1.07h-1.07zM41 25h1.07v1.07h-1.07zM4 26h1.07v1.07h-1.07zM40 26h1.07v1.07h-1.07zM5 27h1.07v1.07h-1.07zM39 27h1.07v1.07h-1.07zM6 28h1.07v1.07h-1.07zM38 28h2.07v1.07h-2.07zM7 29h1.07v1.07h-1.07zM37 29h2.07v1.07h-2.07zM8 30h2.07v1.07h-2.07zM35 30h2.07v1.07h-2.07zM9 31h3.07v1.07h-3.07zM34 31h2.07v1.07h-2.07z"/>
<path fill="#3f3c39" d="M17 3h1.07v1.07h-1.07zM21 3h1.07v1.07h-1.07zM26 3h1.07v1.07h-1.07zM14 4h1.07v1.07h-1.07zM40 11h1.07v1.07h-1.07zM4 12h1.07v1.07h-1.07zM40 12h1.07v1.07h-1.07zM3 13h2.07v1.07h-2.07zM40 13h2.07v1.07h-2.07zM3 14h1.07v1.07h-1.07zM41 14h1.07v1.07h-1.07zM3 15h1.07v1.07h-1.07zM41 15h1.07v1.07h-1.07zM3 16h1.07v1.07h-1.07zM41 16h2.07v1.07h-2.07zM2 17h2.07v1.07h-2.07zM2 18h2.07v1.07h-2.07zM2 19h1.07v1.07h-1.07zM41 19h1.07v1.07h-1.07zM41 20h1.07v1.07h-1.07zM3 21h1.07v1.07h-1.07zM41 21h1.07v1.07h-1.07zM3 22h1.07v1.07h-1.07zM41 22h1.07v1.07h-1.07zM4 23h1.07v1.07h-1.07zM40 23h2.07v1.07h-2.07zM40 24h1.07v1.07h-1.07zM5 25h1.07v1.07h-1.07zM39 25h2.07v1.07h-2.07zM5 26h2.07v1.07h-2.07zM38 26h2.07v1.07h-2.07zM6 27h2.07v1.07h-2.07zM38 27h1.07v1.07h-1.07zM7 28h2.07v1.07h-2.07zM36 28h2.07v1.07h-2.07zM8 29h2.07v1.07h-2.07zM35 29h2.07v1.07h-2.07zM10 30h2.07v1.07h-2.07zM34 30h1.07v1.07h-1.07zM12 31h2.07v1.07h-2.07zM31 31h3.07v1.07h-3.07z"/>
<path fill="#4e4a46" d="M18 3h1.07v1.07h-1.07zM9 7h2.07v1.07h-2.07zM7 9h1.07v1.07h-1.07zM6 10h1.07v1.07h-1.07zM38 10h1.07v1.07h-1.07zM5 11h1.07v1.07h-1.07zM39 11h1.07v1.07h-1.07zM5 12h1.07v1.07h-1.07zM39 12h1.07v1.07h-1.07zM35 16h1.07v1.07h-1.07zM35 17h1.07v1.07h-1.07zM35 18h1.07v1.07h-1.07zM3 19h1.07v1.07h-1.07zM35 19h1.07v1.07h-1.07zM3 20h1.07v1.07h-1.07zM9 20h2.07v1.07h-2.07zM35 20h1.07v1.07h-1.07zM9 21h1.07v1.07h-1.07zM34 21h2.07v1.07h-2.07zM10 22h1.07v1.07h-1.07zM34 22h1.07v1.07h-1.07zM11 23h1.07v1.07h-1.07zM26 27h2.07v1.07h-2.07zM18 28h4.07v1.07h-4.07zM24 28h3.07v1.07h-3.07z"/>
<path fill="#99948f" d="M19 3h2.07v1.07h-2.07zM6 5h1.07v1.07h-1.07zM35 7h1.07v1.07h-1.07zM37 8h2.07v1.07h-2.07zM18 17h1.07v1.07h-1.07zM18 18h1.07v1.07h-1.07z"/>
<path fill="#fbe405" d="M27 3h1.07v1.07h-1.07zM28 4h4.07v1.07h-4.07zM10 5h2.07v1.07h-2.07zM22 5h2.07v1.07h-2.07zM22 6h2.07v1.07h-2.07zM22 7h1.07v1.07h-1.07zM32 26h1.07v1.07h-1.07zM3 28h1.07v1.07h-1.07zM32 29h1.07v1.07h-1.07z"/>
<path fill="#f8c20c" d="M28 3h1.07v1.07h-1.07zM23 4h1.07v1.07h-1.07zM26 4h2.07v1.07h-2.07zM32 4h1.07v1.07h-1.07zM9 5h1.07v1.07h-1.07zM23 7h1.07v1.07h-1.07zM21 17h1.07v1.07h-1.07zM21 18h1.07v1.07h-1.07zM3 25h1.07v1.07h-1.07zM32 25h2.07v1.07h-2.07zM3 26h1.07v1.07h-1.07zM31 26h1.07v1.07h-1.07zM33 26h1.07v1.07h-1.07zM3 27h1.07v1.07h-1.07zM31 27h3.07v1.07h-3.07zM32 28h2.07v1.07h-2.07zM14 29h2.07v1.07h-2.07zM31 29h1.07v1.07h-1.07zM33 29h1.07v1.07h-1.07zM31 30h1.07v1.07h-1.07z"/>
<path fill="#393633" d="M9 4h2.07v1.07h-2.07zM8 5h1.07v1.07h-1.07zM37 5h1.07v1.07h-1.07zM37 6h2.07v1.07h-2.07zM6 7h1.07v1.07h-1.07zM39 7h1.07v1.07h-1.07zM5 8h1.07v1.07h-1.07zM40 8h1.07v1.07h-1.07zM4 9h1.07v1.07h-1.07zM41 9h1.07v1.07h-1.07zM41 10h2.07v1.07h-2.07zM42 11h1.07v1.07h-1.07zM43 12h1.07v1.07h-1.07zM43 13h1.07v1.07h-1.07zM0 16h1.07v1.07h-1.07zM1 21h1.07v1.07h-1.07zM1 22h1.07v1.07h-1.07zM1 23h1.07v1.07h-1.07zM1 24h2.07v1.07h-2.07zM2 25h1.07v1.07h-1.07zM41 26h1.07v1.07h-1.07zM4 27h1.07v1.07h-1.07zM40 27h2.07v1.07h-2.07zM4 28h2.07v1.07h-2.07zM40 28h1.07v1.07h-1.07zM5 29h2.07v1.07h-2.07zM39 29h1.07v1.07h-1.07zM6 30h2.07v1.07h-2.07zM37 30h2.07v1.07h-2.07zM8 31h1.07v1.07h-1.07zM36 31h2.07v1.07h-2.07z"/>
<path fill="#7c7671" d="M15 4h1.07v1.07h-1.07zM7 5h1.07v1.07h-1.07zM8 7h1.07v1.07h-1.07zM11 7h1.07v1.07h-1.07zM36 7h1.07v1.07h-1.07zM8 8h1.07v1.07h-1.07zM10 8h1.07v1.07h-1.07zM36 8h1.07v1.07h-1.07zM9 9h3.07v1.07h-3.07zM34 9h1.07v1.07h-1.07zM37 9h2.07v1.07h-2.07zM11 10h1.07v1.07h-1.07zM17 10h2.07v1.07h-2.07zM32 10h2.07v1.07h-2.07zM37 10h1.07v1.07h-1.07zM20 11h1.07v1.07h-1.07zM28 11h1.07v1.07h-1.07zM14 12h2.07v1.07h-2.07zM21 12h1.07v1.07h-1.07zM24 12h1.07v1.07h-1.07zM16 13h1.07v1.07h-1.07zM21 13h1.07v1.07h-1.07zM28 13h1.07v1.07h-1.07zM16 14h2.07v1.07h-2.07zM25 14h1.07v1.07h-1.07zM17 15h1.07v1.07h-1.07zM19 15h1.07v1.07h-1.07zM26 15h2.07v1.07h-2.07zM17 16h2.07v1.07h-2.07zM17 17h1.07v1.07h-1.07zM19 18h1.07v1.07h-1.07zM26 18h2.07v1.07h-2.07zM18 19h1.07v1.07h-1.07z"/>
<path fill="#f39c12" d="M16 4h5.07v1.07h-5.07zM24 4h2.07v1.07h-2.07zM16 5h6.07v1.07h-6.07zM24 5h11.07v1.07h-11.07zM10 6h1.07v1.07h-1.07zM14 6h8.07v1.07h-8.07zM24 6h6.07v1.07h-6.07zM31 6h1.07v1.07h-1.07zM14 7h8.07v1.07h-8.07zM24 7h8.07v1.07h-8.07zM14 8h3.07v1.07h-3.07zM18 8h4.07v1.07h-4.07zM23 8h8.07v1.07h-8.07zM21 9h1.07v1.07h-1.07zM24 9h1.07v1.07h-1.07zM21 10h1.07v1.07h-1.07zM24 10h1.07v1.07h-1.07zM22 16h1.07v1.07h-1.07zM22 17h3.07v1.07h-3.07zM22 18h1.07v1.07h-1.07zM24 18h1.07v1.07h-1.07zM33 24h2.07v1.07h-2.07zM14 25h2.07v1.07h-2.07zM30 25h2.07v1.07h-2.07zM34 25h1.07v1.07h-1.07zM2 26h1.07v1.07h-1.07zM14 26h2.07v1.07h-2.07zM30 26h1.07v1.07h-1.07zM34 26h1.07v1.07h-1.07zM13 27h3.07v1.07h-3.07zM30 27h1.07v1.07h-1.07zM34 27h1.07v1.07h-1.07zM13 28h3.07v1.07h-3.07zM30 28h2.07v1.07h-2.07zM34 28h1.07v1.07h-1.07zM13 29h1.07v1.07h-1.07zM16 29h1.07v1.07h-1.07zM30 29h1.07v1.07h-1.07zM34 29h1.07v1.07h-1.07zM14 30h3.07v1.07h-3.07zM32 30h1.07v1.07h-1.07z"/>
<path fill="#f7f7f7" d="M21 4h2.07v1.07h-2.07zM30 6h1.07v1.07h-1.07zM22 9h1.07v1.07h-1.07zM17 11h3.07v1.07h-3.07zM27 11h1.07v1.07h-1.07zM17 12h4.07v1.07h-4.07zM25 12h3.07v1.07h-3.07zM18 13h1.07v1.07h-1.07zM25 13h2.07v1.07h-2.07zM18 14h1.07v1.07h-1.07zM26 14h2.07v1.07h-2.07z"/>
<path fill="#423f3c" d="M5 5h1.07v1.07h-1.07zM4 6h1.07v1.07h-1.07zM4 14h1.07v1.07h-1.07zM40 14h1.07v1.07h-1.07zM40 15h1.07v1.07h-1.07zM40 16h1.07v1.07h-1.07zM4 17h1.07v1.07h-1.07zM40 17h2.07v1.07h-2.07zM4 18h1.07v1.07h-1.07zM40 18h2.07v1.07h-2.07zM40 19h1.07v1.07h-1.07zM40 20h1.07v1.07h-1.07zM4 21h1.07v1.07h-1.07zM40 21h1.07v1.07h-1.07zM4 22h2.07v1.07h-2.07zM40 22h1.07v1.07h-1.07zM39 23h1.07v1.07h-1.07zM38 24h2.07v1.07h-2.07zM6 25h1.07v1.07h-1.07zM38 25h1.07v1.07h-1.07zM7 26h1.07v1.07h-1.07zM37 26h1.07v1.07h-1.07zM8 27h1.07v1.07h-1.07zM36 27h2.07v1.07h-2.07zM9 28h2.07v1.07h-2.07zM35 28h1.07v1.07h-1.07zM10 29h2.07v1.07h-2.07zM12 30h2.07v1.07h-2.07zM14 31h3.07v1.07h-3.07zM28 31h3.07v1.07h-3.07z"/>
<path fill="#ed7418" d="M12 5h2.07v1.07h-2.07zM11 6h1.07v1.07h-1.07zM13 6h1.07v1.07h-1.07zM32 6h4.07v1.07h-4.07zM12 7h2.07v1.07h-2.07zM32 7h3.07v1.07h-3.07zM12 8h2.07v1.07h-2.07zM17 8h1.07v1.07h-1.07zM31 8h5.07v1.07h-5.07zM12 9h9.07v1.07h-9.07zM25 9h8.07v1.07h-8.07zM35 9h2.07v1.07h-2.07zM20 10h1.07v1.07h-1.07zM22 14h2.07v1.07h-2.07zM22 15h1.07v1.07h-1.07zM23 16h1.07v1.07h-1.07zM20 17h1.07v1.07h-1.07zM23 18h1.07v1.07h-1.07zM15 21h5.07v1.07h-5.07zM25 21h1.07v1.07h-1.07zM18 22h1.07v1.07h-1.07zM17 23h1.07v1.07h-1.07zM32 23h3.07v1.07h-3.07zM4 24h1.07v1.07h-1.07zM11 24h8.07v1.07h-8.07zM32 24h1.07v1.07h-1.07zM35 24h1.07v1.07h-1.07zM11 25h3.07v1.07h-3.07zM16 25h3.07v1.07h-3.07zM35 25h1.07v1.07h-1.07zM11 26h3.07v1.07h-3.07zM16 26h3.07v1.07h-3.07zM29 26h1.07v1.07h-1.07zM12 27h1.07v1.07h-1.07zM16 27h1.07v1.07h-1.07zM28 27h2.07v1.07h-2.07zM12 28h1.07v1.07h-1.07zM16 28h2.07v1.07h-2.07zM29 28h1.07v1.07h-1.07zM33 30h1.07v1.07h-1.07z"/>
<path fill="#cdcac7" d="M14 5h2.07v1.07h-2.07zM12 6h1.07v1.07h-1.07zM22 8h1.07v1.07h-1.07zM23 9h1.07v1.07h-1.07zM22 10h1.07v1.07h-1.07zM16 11h1.07v1.07h-1.07zM26 11h1.07v1.07h-1.07zM16 12h1.07v1.07h-1.07zM28 12h1.07v1.07h-1.07zM17 13h1.07v1.07h-1.07zM24 13h1.07v1.07h-1.07zM27 13h1.07v1.07h-1.07zM18 15h1.07v1.07h-1.07z"/>
<path fill="#45413e" d="M5 6h1.07v1.07h-1.07zM38 14h2.07v1.07h-2.07zM39 15h1.07v1.07h-1.07zM39 16h1.07v1.07h-1.07zM5 17h1.07v1.07h-1.07zM39 17h1.07v1.07h-1.07zM5 18h1.07v1.07h-1.07zM39 18h1.07v1.07h-1.07zM39 19h1.07v1.07h-1.07zM5 20h1.07v1.07h-1.07zM39 20h1.07v1.07h-1.07zM5 21h1.07v1.07h-1.07zM39 21h1.07v1.07h-1.07zM38 22h2.07v1.07h-2.07zM38 23h1.07v1.07h-1.07zM37 24h1.07v1.07h-1.07zM36 25h2.07v1.07h-2.07zM8 26h2.07v1.07h-2.07zM35 26h2.07v1.07h-2.07zM9 27h2.07v1.07h-2.07zM35 27h1.07v1.07h-1.07zM12 29h1.07v1.07h-1.07zM28 30h3.07v1.07h-3.07zM17 31h11.07v1.07h-11.07z"/>
<path fill="#4b4744" d="M7 7h1.07v1.07h-1.07zM37 7h1.07v1.07h-1.07zM6 8h2.07v1.07h-2.07zM6 9h1.07v1.07h-1.07zM39 9h1.07v1.07h-1.07zM5 10h1.07v1.07h-1.07zM39 10h1.07v1.07h-1.07zM36 16h1.07v1.07h-1.07zM36 17h2.07v1.07h-2.07zM36 18h2.07v1.07h-2.07zM36 19h2.07v1.07h-2.07zM8 20h1.07v1.07h-1.07zM36 20h1.07v1.07h-1.07zM8 21h1.07v1.07h-1.07zM36 21h1.07v1.07h-1.07zM35 22h2.07v1.07h-2.07zM9 23h2.07v1.07h-2.07zM10 24h1.07v1.07h-1.07zM27 28h2.07v1.07h-2.07zM18 29h4.07v1.07h-4.07zM24 29h4.07v1.07h-4.07z"/>
<path fill="#514d49" d="M9 8h1.07v1.07h-1.07zM8 9h1.07v1.07h-1.07zM7 10h2.07v1.07h-2.07zM6 11h2.07v1.07h-2.07zM37 11h2.07v1.07h-2.07zM6 12h1.07v1.07h-1.07zM38 12h1.07v1.07h-1.07zM5 13h2.07v1.07h-2.07zM39 13h1.07v1.07h-1.07zM5 14h1.07v1.07h-1.07zM4 15h2.07v1.07h-2.07zM4 16h2.07v1.07h-2.07zM33 16h2.07v1.07h-2.07zM33 17h2.07v1.07h-2.07zM11 18h1.07v1.07h-1.07zM33 18h2.07v1.07h-2.07zM4 19h1.07v1.07h-1.07zM33 19h2.07v1.07h-2.07zM4 20h1.07v1.07h-1.07zM11 20h1.07v1.07h-1.07zM33 20h2.07v1.07h-2.07zM33 21h1.07v1.07h-1.07zM11 22h1.07v1.07h-1.07zM33 22h1.07v1.07h-1.07zM31 23h1.07v1.07h-1.07zM30 24h2.07v1.07h-2.07zM28 25h2.07v1.07h-2.07zM19 26h1.07v1.07h-1.07zM26 26h3.07v1.07h-3.07zM20 27h2.07v1.07h-2.07zM24 27h2.07v1.07h-2.07z"/>
<path fill="#e8561c" d="M11 8h1.07v1.07h-1.07zM33 9h1.07v1.07h-1.07zM14 10h3.07v1.07h-3.07zM23 10h1.07v1.07h-1.07zM25 10h1.07v1.07h-1.07zM31 10h1.07v1.07h-1.07zM35 10h2.07v1.07h-2.07zM9 11h1.07v1.07h-1.07zM11 11h2.07v1.07h-2.07zM21 11h1.07v1.07h-1.07zM35 11h2.07v1.07h-2.07zM9 12h3.07v1.07h-3.07zM29 12h2.07v1.07h-2.07zM36 12h2.07v1.07h-2.07zM22 13h1.07v1.07h-1.07zM36 13h3.07v1.07h-3.07zM19 14h3.07v1.07h-3.07zM42 14h2.07v1.07h-2.07zM21 15h1.07v1.07h-1.07zM23 15h1.07v1.07h-1.07zM43 15h1.07v1.07h-1.07zM1 16h1.07v1.07h-1.07zM19 17h1.07v1.07h-1.07zM12 18h5.07v1.07h-5.07zM15 19h1.07v1.07h-1.07zM25 19h1.07v1.07h-1.07zM16 20h3.07v1.07h-3.07zM21 20h1.07v1.07h-1.07zM25 20h4.07v1.07h-4.07zM6 21h1.07v1.07h-1.07zM10 21h5.07v1.07h-5.07zM6 22h1.07v1.07h-1.07zM12 22h3.07v1.07h-3.07zM31 22h2.07v1.07h-2.07zM5 23h2.07v1.07h-2.07zM12 23h3.07v1.07h-3.07zM35 23h1.07v1.07h-1.07zM5 24h2.07v1.07h-2.07zM7 25h2.07v1.07h-2.07zM11 27h1.07v1.07h-1.07zM17 27h3.07v1.07h-3.07zM11 28h1.07v1.07h-1.07z"/>
<path fill="#54504c" d="M9 10h1.07v1.07h-1.07zM8 11h1.07v1.07h-1.07zM7 12h2.07v1.07h-2.07zM7 13h1.07v1.07h-1.07zM6 14h1.07v1.07h-1.07zM6 15h1.07v1.07h-1.07zM6 16h1.07v1.07h-1.07zM31 16h2.07v1.07h-2.07zM12 17h1.07v1.07h-1.07zM32 17h1.07v1.07h-1.07zM6 18h1.07v1.07h-1.07zM32 18h1.07v1.07h-1.07zM5 19h2.07v1.07h-2.07zM12 19h1.07v1.07h-1.07zM32 19h1.07v1.07h-1.07zM12 20h2.07v1.07h-2.07zM31 20h2.07v1.07h-2.07zM31 21h2.07v1.07h-2.07zM30 22h1.07v1.07h-1.07zM15 23h1.07v1.07h-1.07zM29 23h2.07v1.07h-2.07zM28 24h2.07v1.07h-2.07zM19 25h2.07v1.07h-2.07zM24 25h4.07v1.07h-4.07zM20 26h2.07v1.07h-2.07zM24 26h2.07v1.07h-2.07z"/>
<path fill="#57534f" d="M10 10h1.07v1.07h-1.07zM34 10h1.07v1.07h-1.07zM10 11h1.07v1.07h-1.07zM34 11h1.07v1.07h-1.07zM35 12h1.07v1.07h-1.07zM8 13h1.07v1.07h-1.07zM7 14h2.07v1.07h-2.07zM36 14h2.07v1.07h-2.07zM7 15h1.07v1.07h-1.07zM37 15h1.07v1.07h-1.07zM7 16h1.07v1.07h-1.07zM7 17h1.07v1.07h-1.07zM30 17h2.07v1.07h-2.07zM7 18h1.07v1.07h-1.07zM30 18h2.07v1.07h-2.07zM7 19h1.07v1.07h-1.07zM13 19h2.07v1.07h-2.07zM30 19h2.07v1.07h-2.07zM14 20h2.07v1.07h-2.07zM30 20h1.07v1.07h-1.07zM29 21h2.07v1.07h-2.07zM15 22h2.07v1.07h-2.07zM28 22h2.07v1.07h-2.07zM16 23h1.07v1.07h-1.07zM18 23h1.07v1.07h-1.07zM26 23h3.07v1.07h-3.07zM19 24h9.07v1.07h-9.07zM21 25h1.07v1.07h-1.07zM22 30h1.07v1.07h-1.07z"/>
<path fill="#5a5551" d="M12 10h2.07v1.07h-2.07zM32 11h2.07v1.07h-2.07zM33 12h2.07v1.07h-2.07zM9 13h2.07v1.07h-2.07zM34 13h2.07v1.07h-2.07zM9 14h1.07v1.07h-1.07zM35 14h1.07v1.07h-1.07zM8 15h2.07v1.07h-2.07zM35 15h2.07v1.07h-2.07zM8 16h2.07v1.07h-2.07zM8 17h1.07v1.07h-1.07zM15 17h2.07v1.07h-2.07zM28 17h2.07v1.07h-2.07zM8 18h1.07v1.07h-1.07zM28 18h2.07v1.07h-2.07zM8 19h1.07v1.07h-1.07zM16 19h1.07v1.07h-1.07zM28 19h2.07v1.07h-2.07zM29 20h1.07v1.07h-1.07zM26 21h3.07v1.07h-3.07zM17 22h1.07v1.07h-1.07zM19 22h2.07v1.07h-2.07zM24 22h4.07v1.07h-4.07zM19 23h7.07v1.07h-7.07zM22 29h2.07v1.07h-2.07z"/>
<path fill="#605b57" d="M19 10h1.07v1.07h-1.07zM26 10h2.07v1.07h-2.07zM29 11h1.07v1.07h-1.07zM31 12h1.07v1.07h-1.07zM13 13h2.07v1.07h-2.07zM31 13h2.07v1.07h-2.07zM12 14h2.07v1.07h-2.07zM32 14h1.07v1.07h-1.07zM11 15h2.07v1.07h-2.07zM32 15h2.07v1.07h-2.07zM11 16h2.07v1.07h-2.07zM11 17h1.07v1.07h-1.07zM11 19h1.07v1.07h-1.07zM22 26h2.07v1.07h-2.07zM22 27h2.07v1.07h-2.07z"/>
<path fill="#e4361c" d="M28 10h2.07v1.07h-2.07zM15 11h1.07v1.07h-1.07zM19 13h2.07v1.07h-2.07zM13 17h2.07v1.07h-2.07zM26 19h2.07v1.07h-2.07zM8 22h2.07v1.07h-2.07zM7 23h2.07v1.07h-2.07zM7 24h1.07v1.07h-1.07z"/>
<path fill="#5d5854" d="M30 10h1.07v1.07h-1.07zM13 11h2.07v1.07h-2.07zM30 11h2.07v1.07h-2.07zM12 12h2.07v1.07h-2.07zM32 12h1.07v1.07h-1.07zM11 13h2.07v1.07h-2.07zM33 13h1.07v1.07h-1.07zM10 14h2.07v1.07h-2.07zM33 14h2.07v1.07h-2.07zM10 15h1.07v1.07h-1.07zM34 15h1.07v1.07h-1.07zM10 16h1.07v1.07h-1.07zM9 17h2.07v1.07h-2.07zM25 17h1.07v1.07h-1.07zM9 18h2.07v1.07h-2.07zM17 18h1.07v1.07h-1.07zM20 18h1.07v1.07h-1.07zM25 18h1.07v1.07h-1.07zM9 19h2.07v1.07h-2.07zM17 19h1.07v1.07h-1.07zM20 19h5.07v1.07h-5.07zM19 20h2.07v1.07h-2.07zM22 20h3.07v1.07h-3.07zM20 21h5.07v1.07h-5.07zM21 22h3.07v1.07h-3.07zM22 28h2.07v1.07h-2.07z"/>
<path fill="#635e5a" d="M22 11h4.07v1.07h-4.07zM15 13h1.07v1.07h-1.07zM29 13h2.07v1.07h-2.07zM14 14h2.07v1.07h-2.07zM30 14h2.07v1.07h-2.07zM13 15h2.07v1.07h-2.07zM30 15h2.07v1.07h-2.07zM13 16h1.07v1.07h-1.07zM22 25h2.07v1.07h-2.07z"/>
<path fill="#66615c" d="M22 12h2.07v1.07h-2.07zM28 14h2.07v1.07h-2.07zM15 15h2.07v1.07h-2.07zM28 15h2.07v1.07h-2.07zM14 16h2.07v1.07h-2.07zM29 16h2.07v1.07h-2.07z"/>
<path fill="#69645f" d="M23 13h1.07v1.07h-1.07zM24 14h1.07v1.07h-1.07zM25 15h1.07v1.07h-1.07zM16 16h1.07v1.07h-1.07zM27 16h2.07v1.07h-2.07zM27 17h1.07v1.07h-1.07z"/>
<path fill="#6c6762" d="M20 15h1.07v1.07h-1.07zM24 15h1.07v1.07h-1.07zM19 16h3.07v1.07h-3.07zM24 16h3.07v1.07h-3.07zM26 17h1.07v1.07h-1.07zM19 19h1.07v1.07h-1.07z"/>
<path fill="#484441" d="M38 15h1.07v1.07h-1.07zM37 16h2.07v1.07h-2.07zM6 17h1.07v1.07h-1.07zM38 17h1.07v1.07h-1.07zM38 18h1.07v1.07h-1.07zM38 19h1.07v1.07h-1.07zM6 20h2.07v1.07h-2.07zM37 20h2.07v1.07h-2.07zM7 21h1.07v1.07h-1.07zM37 21h2.07v1.07h-2.07zM7 22h1.07v1.07h-1.07zM37 22h1.07v1.07h-1.07zM36 23h2.07v1.07h-2.07zM8 24h2.07v1.07h-2.07zM36 24h1.07v1.07h-1.07zM9 25h2.07v1.07h-2.07zM10 26h1.07v1.07h-1.07zM17 29h1.07v1.07h-1.07zM28 29h2.07v1.07h-2.07zM17 30h5.07v1.07h-5.07zM23 30h5.07v1.07h-5.07z"/>
</g>
</g>
<rect x="26.1" y="676.2" width="272.2" height="200.3" fill="none" stroke="#1b1510" stroke-width="1.2"/>
<clipPath id="hc2"><rect x="26.5" y="965.3" width="270.9" height="198.9"/></clipPath>
<g clip-path="url(#hc2)">
<rect x="26.5" y="965.3" width="270.9" height="198.9" fill="#2f2822"/>
<g transform="translate(24.34,963.8) scale(6.07,6.0)">
<path fill="#33302e" d="M6 3h2.07v1.07h-2.07zM5 4h2.07v1.07h-2.07zM4 5h1.07v1.07h-1.07zM3 6h1.07v1.07h-1.07zM1 8h1.07v1.07h-1.07zM1 26h1.07v1.07h-1.07zM1 27h1.07v1.07h-1.07zM43 27h1.07v1.07h-1.07zM2 28h1.07v1.07h-1.07zM42 28h2.07v1.07h-2.07zM1 29h3.07v1.07h-3.07zM41 29h3.07v1.07h-3.07zM1 30h4.07v1.07h-4.07zM40 30h4.07v1.07h-4.07zM1 31h5.07v1.07h-5.07zM39 31h5.07v1.07h-5.07zM2 32h6.07v1.07h-6.07zM37 32h7.07v1.07h-7.07z"/>
<path fill="#363331" d="M8 3h2.07v1.07h-2.07zM7 4h2.07v1.07h-2.07zM1 24h1.07v1.07h-1.07zM1 25h1.07v1.07h-1.07zM43 25h1.07v1.07h-1.07zM2 26h1.07v1.07h-1.07zM42 26h2.07v1.07h-2.07zM2 27h2.07v1.07h-2.07zM42 27h1.07v1.07h-1.07zM3 28h1.07v1.07h-1.07zM41 28h1.07v1.07h-1.07zM4 29h1.07v1.07h-1.07zM40 29h1.07v1.07h-1.07zM5 30h2.07v1.07h-2.07zM39 30h1.07v1.07h-1.07zM6 31h2.07v1.07h-2.07zM37 31h2.07v1.07h-2.07zM8 32h2.07v1.07h-2.07zM35 32h2.07v1.07h-2.07z"/>
<path fill="#393633" d="M10 3h1.07v1.07h-1.07zM9 4h1.07v1.07h-1.07zM8 5h1.07v1.07h-1.07zM6 6h1.07v1.07h-1.07zM38 6h1.07v1.07h-1.07zM39 7h1.07v1.07h-1.07zM1 21h1.07v1.07h-1.07zM1 22h1.07v1.07h-1.07zM43 22h1.07v1.07h-1.07zM1 23h1.07v1.07h-1.07zM43 23h1.07v1.07h-1.07zM2 24h1.07v1.07h-1.07zM42 24h2.07v1.07h-2.07zM2 25h1.07v1.07h-1.07zM42 25h1.07v1.07h-1.07zM3 26h1.07v1.07h-1.07zM41 26h1.07v1.07h-1.07zM4 27h1.07v1.07h-1.07zM40 27h2.07v1.07h-2.07zM4 28h2.07v1.07h-2.07zM39 28h2.07v1.07h-2.07zM5 29h2.07v1.07h-2.07zM38 29h2.07v1.07h-2.07zM7 30h1.07v1.07h-1.07zM37 30h2.07v1.07h-2.07zM8 31h2.07v1.07h-2.07zM35 31h2.07v1.07h-2.07zM10 32h2.07v1.07h-2.07zM33 32h2.07v1.07h-2.07z"/>
<path fill="#fbe405" d="M11 3h1.07v1.07h-1.07zM18 3h1.07v1.07h-1.07zM10 4h2.07v1.07h-2.07zM10 5h1.07v1.07h-1.07zM22 5h3.07v1.07h-3.07zM29 5h2.07v1.07h-2.07zM22 6h2.07v1.07h-2.07zM22 7h1.07v1.07h-1.07zM0 18h1.07v1.07h-1.07zM0 19h1.07v1.07h-1.07zM6 28h1.07v1.07h-1.07zM32 29h1.07v1.07h-1.07zM13 30h1.07v1.07h-1.07zM32 30h2.07v1.07h-2.07zM14 31h1.07v1.07h-1.07zM14 32h2.07v1.07h-2.07zM29 32h1.07v1.07h-1.07z"/>
<path fill="#3f3c39" d="M16 3h2.07v1.07h-2.07zM21 3h1.07v1.07h-1.07zM25 3h5.07v1.07h-5.07zM14 4h1.07v1.07h-1.07zM33 5h1.07v1.07h-1.07zM5 10h1.07v1.07h-1.07zM39 10h1.07v1.07h-1.07zM4 11h2.07v1.07h-2.07zM39 11h2.07v1.07h-2.07zM4 12h1.07v1.07h-1.07zM40 12h1.07v1.07h-1.07zM3 13h1.07v1.07h-1.07zM41 14h1.07v1.07h-1.07zM3 19h1.07v1.07h-1.07zM41 20h2.07v1.07h-2.07zM3 21h1.07v1.07h-1.07zM41 21h1.07v1.07h-1.07zM3 22h1.07v1.07h-1.07zM4 23h1.07v1.07h-1.07zM40 23h2.07v1.07h-2.07zM4 24h1.07v1.07h-1.07zM5 25h1.07v1.07h-1.07zM39 25h1.07v1.07h-1.07zM38 26h2.07v1.07h-2.07zM37 27h2.07v1.07h-2.07zM8 28h1.07v1.07h-1.07zM36 28h2.07v1.07h-2.07zM9 29h2.07v1.07h-2.07zM35 29h1.07v1.07h-1.07zM10 30h2.07v1.07h-2.07zM34 30h1.07v1.07h-1.07zM12 31h2.07v1.07h-2.07zM30 31h3.07v1.07h-3.07zM16 32h3.07v1.07h-3.07zM27 32h2.07v1.07h-2.07z"/>
<path fill="#7c7671" d="M19 3h2.07v1.07h-2.07zM15 4h1.07v1.07h-1.07zM30 4h1.07v1.07h-1.07zM7 5h1.07v1.07h-1.07zM32 5h1.07v1.07h-1.07zM8 7h1.07v1.07h-1.07zM38 8h1.07v1.07h-1.07zM18 9h1.07v1.07h-1.07zM17 10h2.07v1.07h-2.07zM26 11h1.07v1.07h-1.07zM14 12h2.07v1.07h-2.07zM24 12h1.07v1.07h-1.07zM16 13h1.07v1.07h-1.07zM24 13h1.07v1.07h-1.07zM17 14h1.07v1.07h-1.07zM25 14h1.07v1.07h-1.07zM17 15h1.07v1.07h-1.07zM19 15h1.07v1.07h-1.07zM26 15h2.07v1.07h-2.07zM17 16h2.07v1.07h-2.07zM19 17h1.07v1.07h-1.07zM19 18h1.07v1.07h-1.07zM26 18h1.07v1.07h-1.07zM18 19h2.07v1.07h-2.07zM26 19h1.07v1.07h-1.07z"/>
<path fill="#f8c20c" d="M13 4h1.07v1.07h-1.07zM18 4h1.07v1.07h-1.07zM11 5h1.07v1.07h-1.07zM16 5h6.07v1.07h-6.07zM25 5h4.07v1.07h-4.07zM31 5h1.07v1.07h-1.07zM16 6h3.07v1.07h-3.07zM21 6h1.07v1.07h-1.07zM24 6h7.07v1.07h-7.07zM21 7h1.07v1.07h-1.07zM23 7h1.07v1.07h-1.07zM27 7h3.07v1.07h-3.07zM22 8h1.07v1.07h-1.07zM0 17h2.07v1.07h-2.07zM5 27h2.07v1.07h-2.07zM30 27h2.07v1.07h-2.07zM1 28h1.07v1.07h-1.07zM7 28h1.07v1.07h-1.07zM11 28h5.07v1.07h-5.07zM30 28h3.07v1.07h-3.07zM12 29h3.07v1.07h-3.07zM30 29h2.07v1.07h-2.07zM33 29h1.07v1.07h-1.07zM12 30h1.07v1.07h-1.07zM14 30h2.07v1.07h-2.07zM29 30h3.07v1.07h-3.07zM0 31h1.07v1.07h-1.07zM15 31h1.07v1.07h-1.07zM28 31h2.07v1.07h-2.07zM1 32h1.07v1.07h-1.07zM30 32h1.07v1.07h-1.07z"/>
<path fill="#99948f" d="M16 4h1.07v1.07h-1.07zM6 5h1.07v1.07h-1.07zM16 11h1.07v1.07h-1.07zM20 11h1.07v1.07h-1.07zM16 12h1.07v1.07h-1.07zM21 12h1.07v1.07h-1.07z"/>
<path fill="#f39c12" d="M17 4h1.07v1.07h-1.07zM19 4h4.07v1.07h-4.07zM25 4h2.07v1.07h-2.07zM28 4h1.07v1.07h-1.07zM12 5h4.07v1.07h-4.07zM10 6h6.07v1.07h-6.07zM19 6h2.07v1.07h-2.07zM31 6h6.07v1.07h-6.07zM10 7h11.07v1.07h-11.07zM24 7h3.07v1.07h-3.07zM30 7h8.07v1.07h-8.07zM10 8h6.07v1.07h-6.07zM21 8h1.07v1.07h-1.07zM24 8h2.07v1.07h-2.07zM28 8h3.07v1.07h-3.07zM33 8h5.07v1.07h-5.07zM21 9h1.07v1.07h-1.07zM24 9h1.07v1.07h-1.07zM28 9h2.07v1.07h-2.07zM35 9h5.07v1.07h-5.07zM21 10h1.07v1.07h-1.07zM24 10h1.07v1.07h-1.07zM1 15h2.07v1.07h-2.07zM1 16h2.07v1.07h-2.07zM42 16h1.07v1.07h-1.07zM40 17h2.07v1.07h-2.07zM40 18h1.07v1.07h-1.07zM1 19h1.07v1.07h-1.07zM4 22h1.07v1.07h-1.07zM6 24h2.07v1.07h-2.07zM6 25h2.07v1.07h-2.07zM14 25h1.07v1.07h-1.07zM6 26h2.07v1.07h-2.07zM14 26h1.07v1.07h-1.07zM30 26h4.07v1.07h-4.07zM7 27h1.07v1.07h-1.07zM11 27h5.07v1.07h-5.07zM32 27h2.07v1.07h-2.07zM0 28h1.07v1.07h-1.07zM16 28h1.07v1.07h-1.07zM33 28h1.07v1.07h-1.07zM15 29h1.07v1.07h-1.07z"/>
<path fill="#f7f7f7" d="M23 4h2.07v1.07h-2.07zM27 4h1.07v1.07h-1.07zM29 4h1.07v1.07h-1.07zM17 11h3.07v1.07h-3.07zM27 11h1.07v1.07h-1.07zM17 12h4.07v1.07h-4.07zM25 12h3.07v1.07h-3.07zM17 13h2.07v1.07h-2.07zM26 13h1.07v1.07h-1.07zM18 14h1.07v1.07h-1.07zM26 14h1.07v1.07h-1.07z"/>
<path fill="#423f3c" d="M5 5h1.07v1.07h-1.07zM4 6h1.07v1.07h-1.07zM6 11h1.07v1.07h-1.07zM38 11h1.07v1.07h-1.07zM39 12h1.07v1.07h-1.07zM40 13h1.07v1.07h-1.07zM40 20h1.07v1.07h-1.07zM39 22h1.07v1.07h-1.07zM38 25h1.07v1.07h-1.07zM8 26h1.07v1.07h-1.07zM37 26h1.07v1.07h-1.07zM8 27h2.07v1.07h-2.07zM36 27h1.07v1.07h-1.07zM9 28h2.07v1.07h-2.07zM35 28h1.07v1.07h-1.07zM11 29h1.07v1.07h-1.07zM34 29h1.07v1.07h-1.07zM16 31h3.07v1.07h-3.07zM27 31h1.07v1.07h-1.07zM19 32h8.07v1.07h-8.07z"/>
<path fill="#3c3936" d="M9 5h1.07v1.07h-1.07zM7 6h1.07v1.07h-1.07zM37 6h1.07v1.07h-1.07zM6 7h1.07v1.07h-1.07zM38 7h1.07v1.07h-1.07zM5 8h1.07v1.07h-1.07zM39 8h1.07v1.07h-1.07zM4 9h2.07v1.07h-2.07zM40 9h1.07v1.07h-1.07zM4 10h1.07v1.07h-1.07zM40 10h1.07v1.07h-1.07zM2 14h1.07v1.07h-1.07zM42 15h1.07v1.07h-1.07zM43 16h1.07v1.07h-1.07zM43 17h1.07v1.07h-1.07zM43 18h1.07v1.07h-1.07zM2 19h1.07v1.07h-1.07zM43 19h1.07v1.07h-1.07zM1 20h2.07v1.07h-2.07zM43 20h1.07v1.07h-1.07zM2 21h1.07v1.07h-1.07zM42 21h2.07v1.07h-2.07zM2 22h1.07v1.07h-1.07zM42 22h1.07v1.07h-1.07zM2 23h2.07v1.07h-2.07zM42 23h1.07v1.07h-1.07zM3 24h1.07v1.07h-1.07zM41 24h1.07v1.07h-1.07zM3 25h2.07v1.07h-2.07zM40 25h2.07v1.07h-2.07zM4 26h1.07v1.07h-1.07zM40 26h1.07v1.07h-1.07zM39 27h1.07v1.07h-1.07zM38 28h1.07v1.07h-1.07zM7 29h2.07v1.07h-2.07zM36 29h2.07v1.07h-2.07zM8 30h2.07v1.07h-2.07zM35 30h2.07v1.07h-2.07zM10 31h2.07v1.07h-2.07zM33 31h2.07v1.07h-2.07zM12 32h2.07v1.07h-2.07zM31 32h2.07v1.07h-2.07z"/>
<path fill="#45413e" d="M5 6h1.07v1.07h-1.07zM39 20h1.07v1.07h-1.07zM6 21h1.07v1.07h-1.07zM38 21h2.07v1.07h-2.07zM38 22h1.07v1.07h-1.07zM8 25h1.07v1.07h-1.07zM37 25h1.07v1.07h-1.07zM9 26h1.07v1.07h-1.07zM35 26h2.07v1.07h-2.07zM35 27h1.07v1.07h-1.07zM16 30h3.07v1.07h-3.07zM27 30h2.07v1.07h-2.07zM19 31h8.07v1.07h-8.07z"/>
<path fill="#ed7418" d="M9 6h1.07v1.07h-1.07zM9 7h1.07v1.07h-1.07zM9 8h1.07v1.07h-1.07zM16 8h5.07v1.07h-5.07zM26 8h2.07v1.07h-2.07zM31 8h2.07v1.07h-2.07zM7 9h10.07v1.07h-10.07zM19 9h2.07v1.07h-2.07zM25 9h3.07v1.07h-3.07zM30 9h5.07v1.07h-5.07zM9 10h4.07v1.07h-4.07zM29 10h10.07v1.07h-10.07zM7 11h5.07v1.07h-5.07zM33 11h5.07v1.07h-5.07zM5 12h5.07v1.07h-5.07zM35 12h4.07v1.07h-4.07zM4 13h5.07v1.07h-5.07zM36 13h4.07v1.07h-4.07zM3 14h5.07v1.07h-5.07zM37 14h4.07v1.07h-4.07zM3 15h5.07v1.07h-5.07zM38 15h4.07v1.07h-4.07zM3 16h4.07v1.07h-4.07zM38 16h4.07v1.07h-4.07zM2 17h5.07v1.07h-5.07zM38 17h2.07v1.07h-2.07zM42 17h1.07v1.07h-1.07zM2 18h5.07v1.07h-5.07zM39 18h1.07v1.07h-1.07zM41 18h2.07v1.07h-2.07zM4 19h2.07v1.07h-2.07zM39 19h4.07v1.07h-4.07zM4 20h1.07v1.07h-1.07zM4 21h1.07v1.07h-1.07zM40 21h1.07v1.07h-1.07zM5 22h2.07v1.07h-2.07zM40 22h2.07v1.07h-2.07zM5 23h3.07v1.07h-3.07zM12 23h3.07v1.07h-3.07zM34 23h2.07v1.07h-2.07zM5 24h1.07v1.07h-1.07zM12 24h4.07v1.07h-4.07zM34 24h1.07v1.07h-1.07zM12 25h2.07v1.07h-2.07zM15 25h4.07v1.07h-4.07zM28 25h1.07v1.07h-1.07zM34 25h1.07v1.07h-1.07zM5 26h1.07v1.07h-1.07zM12 26h2.07v1.07h-2.07zM15 26h4.07v1.07h-4.07zM34 26h1.07v1.07h-1.07zM10 27h1.07v1.07h-1.07zM16 27h2.07v1.07h-2.07zM28 27h2.07v1.07h-2.07zM34 27h1.07v1.07h-1.07zM17 28h1.07v1.07h-1.07zM29 28h1.07v1.07h-1.07zM34 28h1.07v1.07h-1.07zM29 29h1.07v1.07h-1.07z"/>
<path fill="#4b4744" d="M7 7h1.07v1.07h-1.07zM36 17h1.07v1.07h-1.07zM8 18h1.07v1.07h-1.07zM36 18h2.07v1.07h-2.07zM8 19h1.07v1.07h-1.07zM8 20h1.07v1.07h-1.07zM8 21h1.07v1.07h-1.07zM9 23h2.07v1.07h-2.07zM10 24h1.07v1.07h-1.07zM33 25h1.07v1.07h-1.07zM18 28h1.07v1.07h-1.07zM26 28h3.07v1.07h-3.07zM19 29h3.07v1.07h-3.07zM23 29h3.07v1.07h-3.07z"/>
<path fill="#e8561c" d="M6 8h1.07v1.07h-1.07zM13 10h2.07v1.07h-2.07zM25 10h1.07v1.07h-1.07zM28 10h1.07v1.07h-1.07zM12 11h1.07v1.07h-1.07zM30 11h3.07v1.07h-3.07zM10 12h2.07v1.07h-2.07zM32 12h3.07v1.07h-3.07zM9 13h3.07v1.07h-3.07zM21 13h3.07v1.07h-3.07zM28 13h2.07v1.07h-2.07zM31 13h2.07v1.07h-2.07zM34 13h2.07v1.07h-2.07zM9 14h1.07v1.07h-1.07zM16 14h1.07v1.07h-1.07zM20 14h5.07v1.07h-5.07zM28 14h5.07v1.07h-5.07zM35 14h2.07v1.07h-2.07zM15 15h2.07v1.07h-2.07zM20 15h6.07v1.07h-6.07zM30 15h6.07v1.07h-6.07zM37 15h1.07v1.07h-1.07zM7 16h1.07v1.07h-1.07zM11 16h6.07v1.07h-6.07zM19 16h7.07v1.07h-7.07zM30 16h2.07v1.07h-2.07zM37 16h1.07v1.07h-1.07zM7 17h6.07v1.07h-6.07zM15 17h2.07v1.07h-2.07zM30 17h2.07v1.07h-2.07zM34 17h1.07v1.07h-1.07zM37 17h1.07v1.07h-1.07zM7 18h1.07v1.07h-1.07zM9 18h1.07v1.07h-1.07zM12 18h6.07v1.07h-6.07zM34 18h2.07v1.07h-2.07zM6 19h2.07v1.07h-2.07zM9 19h2.07v1.07h-2.07zM12 19h6.07v1.07h-6.07zM34 19h4.07v1.07h-4.07zM5 20h1.07v1.07h-1.07zM9 20h1.07v1.07h-1.07zM34 20h3.07v1.07h-3.07zM5 21h1.07v1.07h-1.07zM9 21h1.07v1.07h-1.07zM14 21h1.07v1.07h-1.07zM34 21h3.07v1.07h-3.07zM9 22h1.07v1.07h-1.07zM12 22h2.07v1.07h-2.07zM34 22h3.07v1.07h-3.07zM11 23h1.07v1.07h-1.07zM36 23h4.07v1.07h-4.07zM11 24h1.07v1.07h-1.07zM35 24h6.07v1.07h-6.07zM10 25h2.07v1.07h-2.07zM35 25h2.07v1.07h-2.07zM10 26h2.07v1.07h-2.07z"/>
<path fill="#4e4a46" d="M7 8h2.07v1.07h-2.07zM6 9h1.07v1.07h-1.07zM6 10h1.07v1.07h-1.07zM35 17h1.07v1.07h-1.07zM3 20h1.07v1.07h-1.07zM10 20h1.07v1.07h-1.07zM10 21h1.07v1.07h-1.07zM10 22h2.07v1.07h-2.07zM33 23h1.07v1.07h-1.07zM32 24h2.07v1.07h-2.07zM30 25h3.07v1.07h-3.07zM29 26h1.07v1.07h-1.07zM18 27h2.07v1.07h-2.07zM25 27h3.07v1.07h-3.07zM19 28h3.07v1.07h-3.07zM23 28h3.07v1.07h-3.07z"/>
<path fill="#cdcac7" d="M23 8h1.07v1.07h-1.07zM22 9h2.07v1.07h-2.07zM22 10h2.07v1.07h-2.07zM28 11h1.07v1.07h-1.07zM28 12h1.07v1.07h-1.07zM25 13h1.07v1.07h-1.07zM27 13h1.07v1.07h-1.07zM19 14h1.07v1.07h-1.07zM27 14h1.07v1.07h-1.07zM18 15h1.07v1.07h-1.07zM18 17h1.07v1.07h-1.07zM18 18h1.07v1.07h-1.07z"/>
<path fill="#5d5854" d="M17 9h1.07v1.07h-1.07zM15 10h1.07v1.07h-1.07zM33 13h1.07v1.07h-1.07zM10 14h2.07v1.07h-2.07zM33 14h2.07v1.07h-2.07zM10 15h1.07v1.07h-1.07zM10 16h1.07v1.07h-1.07zM34 16h2.07v1.07h-2.07zM20 17h5.07v1.07h-5.07zM20 18h6.07v1.07h-6.07zM20 19h6.07v1.07h-6.07zM21 20h6.07v1.07h-6.07zM19 21h7.07v1.07h-7.07zM22 27h1.07v1.07h-1.07z"/>
<path fill="#514d49" d="M7 10h1.07v1.07h-1.07zM33 17h1.07v1.07h-1.07zM10 18h2.07v1.07h-2.07zM33 18h1.07v1.07h-1.07zM11 19h1.07v1.07h-1.07zM33 19h1.07v1.07h-1.07zM11 20h1.07v1.07h-1.07zM33 20h1.07v1.07h-1.07zM11 21h2.07v1.07h-2.07zM33 21h1.07v1.07h-1.07zM32 22h2.07v1.07h-2.07zM31 23h2.07v1.07h-2.07zM30 24h2.07v1.07h-2.07zM29 25h1.07v1.07h-1.07zM19 26h3.07v1.07h-3.07zM24 26h5.07v1.07h-5.07zM20 27h2.07v1.07h-2.07zM23 27h2.07v1.07h-2.07z"/>
<path fill="#54504c" d="M8 10h1.07v1.07h-1.07zM32 17h1.07v1.07h-1.07zM32 18h1.07v1.07h-1.07zM32 19h1.07v1.07h-1.07zM12 20h2.07v1.07h-2.07zM31 20h2.07v1.07h-2.07zM13 21h1.07v1.07h-1.07zM31 21h2.07v1.07h-2.07zM14 22h1.07v1.07h-1.07zM30 22h2.07v1.07h-2.07zM15 23h1.07v1.07h-1.07zM29 23h2.07v1.07h-2.07zM16 24h2.07v1.07h-2.07zM27 24h3.07v1.07h-3.07zM19 25h3.07v1.07h-3.07zM23 25h5.07v1.07h-5.07zM23 26h1.07v1.07h-1.07z"/>
<path fill="#605b57" d="M16 10h1.07v1.07h-1.07zM19 10h1.07v1.07h-1.07zM26 10h2.07v1.07h-2.07zM14 11h2.07v1.07h-2.07zM29 11h1.07v1.07h-1.07zM13 12h1.07v1.07h-1.07zM30 12h2.07v1.07h-2.07zM12 13h2.07v1.07h-2.07zM12 14h1.07v1.07h-1.07zM11 15h2.07v1.07h-2.07zM33 16h1.07v1.07h-1.07zM22 26h1.07v1.07h-1.07z"/>
<path fill="#635e5a" d="M20 10h1.07v1.07h-1.07zM24 11h2.07v1.07h-2.07zM29 12h1.07v1.07h-1.07zM14 13h2.07v1.07h-2.07zM30 13h1.07v1.07h-1.07zM13 14h2.07v1.07h-2.07zM14 15h1.07v1.07h-1.07zM32 16h1.07v1.07h-1.07zM22 25h1.07v1.07h-1.07z"/>
<path fill="#e4361c" d="M13 11h1.07v1.07h-1.07zM12 12h1.07v1.07h-1.07zM20 13h1.07v1.07h-1.07zM8 14h1.07v1.07h-1.07zM8 15h1.07v1.07h-1.07zM13 15h1.07v1.07h-1.07z"/>
<path fill="#66615c" d="M21 11h3.07v1.07h-3.07zM22 12h2.07v1.07h-2.07zM15 14h1.07v1.07h-1.07zM29 15h1.07v1.07h-1.07zM29 16h1.07v1.07h-1.07zM22 24h1.07v1.07h-1.07z"/>
<path fill="#69645f" d="M19 13h1.07v1.07h-1.07zM28 15h1.07v1.07h-1.07zM27 16h2.07v1.07h-2.07zM17 17h1.07v1.07h-1.07zM27 17h1.07v1.07h-1.07zM27 18h1.07v1.07h-1.07zM27 19h1.07v1.07h-1.07zM17 20h2.07v1.07h-2.07zM27 20h1.07v1.07h-1.07zM17 21h2.07v1.07h-2.07z"/>
<path fill="#5a5551" d="M9 15h1.07v1.07h-1.07zM36 15h1.07v1.07h-1.07zM8 16h2.07v1.07h-2.07zM36 16h1.07v1.07h-1.07zM28 17h2.07v1.07h-2.07zM28 18h2.07v1.07h-2.07zM28 19h2.07v1.07h-2.07zM16 20h1.07v1.07h-1.07zM28 20h1.07v1.07h-1.07zM16 21h1.07v1.07h-1.07zM26 21h3.07v1.07h-3.07zM18 22h10.07v1.07h-10.07zM20 23h6.07v1.07h-6.07zM22 28h1.07v1.07h-1.07z"/>
<path fill="#6c6762" d="M26 16h1.07v1.07h-1.07zM25 17h2.07v1.07h-2.07zM19 20h2.07v1.07h-2.07z"/>
<path fill="#57534f" d="M13 17h2.07v1.07h-2.07zM30 18h2.07v1.07h-2.07zM30 19h2.07v1.07h-2.07zM14 20h2.07v1.07h-2.07zM29 20h2.07v1.07h-2.07zM15 21h1.07v1.07h-1.07zM29 21h2.07v1.07h-2.07zM15 22h3.07v1.07h-3.07zM28 22h2.07v1.07h-2.07zM16 23h4.07v1.07h-4.07zM26 23h3.07v1.07h-3.07zM18 24h4.07v1.07h-4.07zM23 24h4.07v1.07h-4.07zM22 29h1.07v1.07h-1.07z"/>
<path fill="#484441" d="M38 18h1.07v1.07h-1.07zM38 19h1.07v1.07h-1.07zM6 20h2.07v1.07h-2.07zM37 20h2.07v1.07h-2.07zM7 21h1.07v1.07h-1.07zM37 21h1.07v1.07h-1.07zM7 22h2.07v1.07h-2.07zM37 22h1.07v1.07h-1.07zM8 23h1.07v1.07h-1.07zM8 24h2.07v1.07h-2.07zM9 25h1.07v1.07h-1.07zM16 29h3.07v1.07h-3.07zM26 29h3.07v1.07h-3.07zM19 30h8.07v1.07h-8.07z"/>
</g>
</g>
<rect x="26.0" y="964.8" width="271.9" height="199.9" fill="none" stroke="#1b1510" stroke-width="1.2"/>
<linearGradient id="cb0" x1="0" y1="1" x2="0" y2="0"><stop offset="0" stop-color="#e2321e"/><stop offset="0.15" stop-color="#e8561a"/><stop offset="0.32" stop-color="#ee8a10"/><stop offset="0.5" stop-color="#f4aa06"/><stop offset="0.72" stop-color="#f9cf02"/><stop offset="1" stop-color="#fff200"/></linearGradient><rect x="315.6" y="393.5" width="21.4" height="189.9" fill="url(#cb0)"/>
<linearGradient id="cb1" x1="0" y1="1" x2="0" y2="0"><stop offset="0" stop-color="#e2321e"/><stop offset="0.15" stop-color="#e8561a"/><stop offset="0.32" stop-color="#ee8a10"/><stop offset="0.5" stop-color="#f4aa06"/><stop offset="0.72" stop-color="#f9cf02"/><stop offset="1" stop-color="#fff200"/></linearGradient><rect x="315.2" y="679.2" width="21.8" height="190.0" fill="url(#cb1)"/>
<linearGradient id="cb2" x1="0" y1="1" x2="0" y2="0"><stop offset="0" stop-color="#e2321e"/><stop offset="0.15" stop-color="#e8561a"/><stop offset="0.32" stop-color="#ee8a10"/><stop offset="0.5" stop-color="#f4aa06"/><stop offset="0.72" stop-color="#f9cf02"/><stop offset="1" stop-color="#fff200"/></linearGradient><rect x="319.2" y="970.2" width="21.8" height="190.0" fill="url(#cb2)"/>
<text x="345.8" y="409.8" font-size="20" fill="#231f1c" text-anchor="start" textLength="10.7" lengthAdjust="spacingAndGlyphs">4</text>
<text x="345.8" y="582.5" font-size="20" fill="#231f1c" text-anchor="start" textLength="10.7" lengthAdjust="spacingAndGlyphs">0</text>
<text x="346.5" y="695.5" font-size="20" fill="#231f1c" text-anchor="start" textLength="10.7" lengthAdjust="spacingAndGlyphs">4</text>
<text x="346.5" y="868.2" font-size="20" fill="#231f1c" text-anchor="start" textLength="10.7" lengthAdjust="spacingAndGlyphs">0</text>
<text x="350.5" y="986.0" font-size="20" fill="#231f1c" text-anchor="start" textLength="10.7" lengthAdjust="spacingAndGlyphs">4</text>
<text x="350.5" y="1158.8" font-size="20" fill="#231f1c" text-anchor="start" textLength="10.7" lengthAdjust="spacingAndGlyphs">0</text>
<text x="164.2" y="380.2" font-size="22" fill="#231f1c" text-anchor="middle" textLength="52" lengthAdjust="spacingAndGlyphs">1 mA</text>
<text x="166.5" y="665.0" font-size="22" fill="#231f1c" text-anchor="middle" textLength="53" lengthAdjust="spacingAndGlyphs">2 mA</text>
<text x="170.5" y="956.6" font-size="22" fill="#231f1c" text-anchor="middle" textLength="53" lengthAdjust="spacingAndGlyphs">3 mA</text>
<text x="617.6" y="41.9" font-size="25.3" text-anchor="middle" fill="#222" font-weight="normal" textLength="177.2" lengthAdjust="spacingAndGlyphs" >contralateral S1HL</text>
<text x="1063.3" y="41.7" font-size="25.3" text-anchor="middle" fill="#222" font-weight="normal" textLength="151.0" lengthAdjust="spacingAndGlyphs" >ipsilateral S1HL</text>
<rect x="549.00" y="97.5" width="6.3" height="210.4" fill="#e2e2e4"/>
<rect x="558.71" y="97.5" width="6.3" height="210.4" fill="#e2e2e4"/>
<rect x="568.42" y="97.5" width="6.3" height="210.4" fill="#e2e2e4"/>
<rect x="578.13" y="97.5" width="6.3" height="210.4" fill="#e2e2e4"/>
<rect x="587.84" y="97.5" width="6.3" height="210.4" fill="#e2e2e4"/>
<rect x="597.55" y="97.5" width="6.3" height="210.4" fill="#e2e2e4"/>
<rect x="607.26" y="97.5" width="6.3" height="210.4" fill="#e2e2e4"/>
<rect x="616.97" y="97.5" width="6.3" height="210.4" fill="#e2e2e4"/>
<rect x="626.68" y="97.5" width="6.3" height="210.4" fill="#e2e2e4"/>
<rect x="636.39" y="97.5" width="6.3" height="210.4" fill="#e2e2e4"/>
<line x1="436.7" x2="793.0" y1="120.9" y2="120.9" stroke="#c9c9c9" stroke-width="1.2"/>
<line x1="436.7" x2="793.0" y1="167.6" y2="167.6" stroke="#c9c9c9" stroke-width="1.2"/>
<line x1="436.7" x2="793.0" y1="214.4" y2="214.4" stroke="#c9c9c9" stroke-width="1.2"/>
<line x1="436.7" x2="793.0" y1="261.1" y2="261.1" stroke="#c9c9c9" stroke-width="1.2"/>
<line x1="436.7" x2="793.0" y1="354.6" y2="354.6" stroke="#c9c9c9" stroke-width="1.2"/>
<clipPath id="pc00"><rect x="436.7" y="97.5" width="356.3" height="280.8"/></clipPath><g clip-path="url(#pc00)">
<path transform="scale(0.1)" d="M4382 3126l5 -142 5 85 5 311 5 -399 5 -21 5 407 5 -127 5 36 5 -72 5 88 5 -172 5 79 5 89 5 -48 5 -223 5 -101 5 98 5 -31 5 -63 5 72 5 -17 5 -294 5 -149 5 728 5 -265 5 -500 5 180 5 -13 5 102 5 -468 5 504 5 -16 5 -307 5 186 5 100 5 148 5 -90 5 -146 5 -14 5 341 5 -25 5 -138 5 5 5 -24 5 33 5 -24 5 -76 5 -138 5 117 5 -73 5 291 5 -228 5 139 5 -303 5 460 5 -364 5 185 5 183 5 -86 5 -22 5 -283 5 418 5 18 5 -248 5 140 5 17 5 -173 5 376 5 -268 5 -109 5 194 5 81 5 -179 5 153 5 -21 5 -51 5 364 5 -82 5 44 5 -248 5 210 5 295 5 -69 5 -376 5 -64 5 -9 5 132 5 -172 5 40 5 -335 5 222 5 188 5 -157 5 -154 5 584 5 -450 5 38 5 261 5 -242 5 80 5 -375 5 398 5 -132 5 -129 5 282 5 94 5 134 5 -633 5 486 5 101 5 -183 5 -50 5 -192 5 30 5 230 5 -138 5 26 5 37 5 -121 5 -159 5 528 5 -92 5 -257 5 -203 5 481 5 -328 5 34 5 -145 5 222 5 -49 5 -276 5 130 5 95 5 -105 5 104 5 45 5 10 5 -33 5 200 5 -5 5 -411 5 172 5 -15 5 -330 5 404 5 -304 5 84 5 106 5 212 5 -526 5 430 5 89 5 27 5 -85 5 -409 5 308 5 -46 5 221 5 -267 5 -160 5 210 5 15 5 -164 5 -132 5 -2 5 -178 5 217 5 251 5 -85 5 -113 5 22 5 72 5 -54 5 365 5 -458 5 392 5 28 5 -180 5 -165 5 258 5 19 5 130 5 -482 5 176 5 133 5 -3 5 29 5 222 5 -239 5 108 5 -375 5 -244 5 892 5 -634 5 536 5 -536 5 183 5 -244 5 363 5 -356 5 121 5 332 5 -116 5 75 5 -116 5 323 5 -402 5 243 5 -55 5 -44 5 53 5 31 5 144 5 -247 5 229 5 -85 5 4 5 -72 5 -79 5 206 5 -387 5 54 5 -70 5 -110 5 -265 5 -160 5 -456 5 -29 5 -91 5 -291 5 -210 5 85 5 363 5 -259 5 220 5 446 5 -418 5 593 5 234 5 -351 5 -19 5 148 5 241 5 -683 5 373 5 11 5 -166 5 192 5 -145 5 123 5 -119 5 32 5 183 5 -332 5 123 5 249 5 -202 5 82 5 75 5 106 5 -270 5 316 5 -255 5 104 5 163 5 -215 5 -14 5 -80 5 80 5 212 5 -171 5 395 5 -781 5 452 5 -60 5 -252 5 319 5 251 5 -390 5 -243 5 171 5 45 5 -76 5 166 5 -159 5 57 5 85 5 21 5 -6 5 58 5 -343 5 8 5 78 5 164 5 -132 5 270 5 -253 5 -88 5 189 5 76 5 -99 5 231 5 57 5 -162 5 -29 5 -260 5 219 5 97 5 -144 5 229 5 -303 5 272 5 88 5 -31 5 -197 5 21 5 245 5 238 5 -584 5 407 5 -1 5 -52 5 54 5 -121 5 23 5 100 5 -231 5 205 5 -336 5 54 5 83 5 -146 5 433 5 -256 5 -23 5 41 5 -237 5 635 5 -531 5 397 5 -369 5 321 5 -97 5 -115 5 -64 5 270 5 39 5 45 5 -285 5 121 5 97 5 -158 5 55 5 -108 5 238 5 -188 5 113 5 -84 5 211 5 -303 5 58 5 147 5 -92 5 60 5 -147 5 44 5 178 5 -350 5 34 5 -377 5 819 5 -198 5 -296 5 450 5 -73 5 -193 5 -399 5 576 5 -304 5 327 5 -364 5 228 5 -66 5 316 5 -173 5 -72 5 -130 5 39 5 110 5 -92 5 -87 5 55 5 -49 5 119 5 292 5 -444 5 221 5 53 5 -321 5 453 5 -87 5 -74 5 -359 5 320 5 -354 5 173 5 -137 5 -40 5 455 5 94 5 -343 5 189 5 -134 5 166 5 -336 5 37 5 233 5 -305 5 243 5 -59 5 -16 5 191 5 -81 5 8 5 -25 5 -250 5 280 5 63 5 -72 5 -326 5 388 5 -162 5 107 5 190 5 9 5 -376 5 182 5 303 5 -99 5 -144 5 209 5 -293 5 -253 5 350 5 -71 5 272 5 -367 5 139 5 -251 5 25 5 382 5 -173 5 236 5 -133 5 78 5 -21 5 -460 5 498 5 -158 5 -42 5 232 5 -357 5 139 5 264 5 15 5 -118 5 112 5 -219 5 115 5 -198 5 168 5 -15 5 160 5 -313 5 19 5 176 5 -212 5 16 5 188 5 29 5 -217 5 -155 5 225 5 -316 5 351 5 -254 5 227 5 142 5 9 5 173 5 -263 5 -67 5 216 5 -297 5 168 5 19 5 389 5 -336 5 -20 5 170 5 -521 5 450 5 60 5 -33 5 -202 5 375 5 -287 5 28 5 78 5 173 5 -108 5 -255 5 251 5 96 5 -367 5 148 5 44 5 -333 5 373 5 -133 5 -72 5 393 5 -533 5 -307 5 586 5 -35 5 -402 5 634 5 24 5 -48 5 -138 5 -150 5 41 5 115 5 107 5 -179 5 -133 5 44 5 25 5 68 5 49 5 197 5 -91 5 58 5 -259 5 130 5 87 5 -161 5 -45 5 308 5 -15 5 -39 5 42 5 -225 5 -102 5 -81 5 267 5 -2 5 -100 5 -66 5 -164 5 -194 5 100 5 288 5 -388 5 344 5 -271 5 6 5 556 5 -464 5 21 5 21 5 -162 5 99 5 526 5 -137 5 -98 5 -108 5 19 5 -92 5 40 5 -96 5 157 5 -119 5 20 5 219 5 238 5 -115 5 -320 5 576 5 -433 5 99 5 115 5 42 5 -218 5 3 5 -250 5 -41 5 212 5 -40 5 -133 5 -333 5 179 5 211 5 -184 5 237 5 98 5 113 5 -248 5 -141 5 473 5 -171 5 165 5 -288 5 -137 5 118 5 -75 5 17 5 32 5 -148 5 102 5 166 5 70 5 61 5 -437 5 320 5 -302 5 45 5 98 5 101 5 -74 5 352 5 -189 5 -157 5 210 5 -124 5 199 5 -164 5 115 5 -16 5 -152 5 11 5 -239 5 309 5 74 5 -205 5 112 5 -136 5 -140 5 -30 5 55 5 218 5 -23 5 -93 5 21 5 107 5 -267 5 -115 5 390 5 -196 5 45 5 -186 5 45 5 302 5 -323 5 -311 5 244 5 -242 5 185 5 448 5 -390 5 113 5 173 5 -272 5 7 5 227 5 -201 5 -58 5 -210 5 404 5 -287 5 333 5 -366 5 301 5 -150 5 352 5 24 5 -402 5 557 5 -115 5 -356 5 -3 5 189 0 158 -5 28 -5 -20 -5 184 -5 230 -5 -263 -5 -65 -5 146 -5 -304 -5 -70 -5 -205 -5 338 -5 -230 -5 210 -5 -244 -5 297 -5 -132 -5 73 -5 190 -5 -309 -5 345 -5 -202 -5 -150 -5 671 -5 -339 -5 -512 -5 120 -5 -121 -5 41 -5 385 -5 -6 -5 35 -5 142 -5 -384 -5 611 -5 -557 -5 31 -5 163 -5 -91 -5 17 -5 62 -5 334 -5 -222 -5 -283 -5 -2 -5 135 -5 78 -5 156 -5 -30 -5 -5 -5 -235 -5 149 -5 -118 -5 271 -5 12 -5 -87 -5 -65 -5 185 -5 -141 -5 -230 -5 594 -5 -44 -5 -412 -5 94 -5 18 -5 -370 -5 -41 -5 397 -5 -209 -5 434 -5 -140 -5 -214 -5 -212 -5 -29 -5 138 -5 -98 -5 65 -5 118 -5 -50 -5 103 -5 134 -5 -108 -5 186 -5 -532 -5 307 -5 372 -5 -309 -5 28 -5 -360 -5 354 -5 -179 -5 -235 -5 227 -5 244 -5 232 -5 -341 -5 -285 -5 489 -5 -206 -5 258 -5 -77 -5 -150 -5 300 -5 218 -5 -527 -5 108 -5 632 -5 -617 -5 -199 -5 293 -5 -373 -5 161 -5 179 -5 -174 -5 -116 -5 182 -5 -97 -5 160 -5 35 -5 -211 -5 -161 -5 42 -5 -237 -5 180 -5 398 -5 -264 -5 -267 -5 331 -5 -143 -5 102 -5 -87 -5 -111 -5 73 -5 262 -5 -144 -5 62 -5 65 -5 -14 -5 -85 -5 -19 -5 374 -5 -4 -5 -149 -5 233 -5 -305 -5 8 -5 258 -5 -335 -5 280 -5 -208 -5 69 -5 78 -5 -256 -5 123 -5 -174 -5 9 -5 -209 -5 266 -5 353 -5 -252 -5 -272 -5 152 -5 96 -5 201 -5 -37 -5 -29 -5 -159 -5 -24 -5 157 -5 -327 -5 -75 -5 489 -5 -415 -5 370 -5 43 -5 -179 -5 -64 -5 -171 -5 145 -5 209 -5 45 -5 -477 -5 259 -5 216 -5 -265 -5 411 -5 -527 -5 322 -5 -413 -5 385 -5 -49 -5 -23 -5 -353 -5 475 -5 -349 -5 -55 -5 332 -5 -348 -5 233 -5 94 -5 -223 -5 -85 -5 325 -5 -34 -5 -50 -5 -23 -5 -390 -5 45 -5 103 -5 -390 -5 550 -5 -113 -5 -65 -5 188 -5 -31 -5 -105 -5 43 -5 -58 -5 -44 -5 -15 -5 259 -5 -50 -5 -72 -5 -168 -5 131 -5 31 -5 123 -5 -113 -5 151 -5 1 -5 -124 -5 -189 -5 188 -5 -259 -5 5 -5 208 -5 -284 -5 311 -5 30 -5 172 -5 -232 -5 -12 -5 -22 -5 -162 -5 -106 -5 302 -5 152 -5 -145 -5 21 -5 -134 -5 179 -5 -340 -5 247 -5 120 -5 -65 -5 245 -5 -310 -5 -180 -5 261 -5 -14 -5 -163 -5 -184 -5 192 -5 -216 -5 81 -5 146 -5 -21 -5 -247 -5 440 -5 -250 -5 -39 -5 215 -5 -222 -5 142 -5 -43 -5 -234 -5 191 -5 -213 -5 56 -5 142 -5 30 -5 132 -5 -243 -5 443 -5 -320 -5 -357 -5 234 -5 -21 -5 -136 -5 534 -5 -376 -5 45 -5 50 -5 206 -5 -185 -5 227 -5 -169 -5 -200 -5 648 -5 -489 -5 35 -5 61 -5 -212 -5 89 -5 95 -5 -231 -5 97 -5 57 -5 247 -5 -137 -5 -132 -5 91 -5 -101 -5 112 -5 -154 -5 230 -5 -224 -5 60 -5 76 -5 76 -5 -349 -5 336 -5 -19 -5 -448 -5 315 -5 90 -5 64 -5 -289 -5 -67 -5 141 -5 22 -5 344 -5 -473 -5 19 -5 256 -5 -64 -5 98 -5 -124 -5 19 -5 -229 -5 83 -5 58 -5 540 -5 -421 -5 -204 -5 364 -5 -91 -5 -135 -5 -113 -5 126 -5 -79 -5 471 -5 -525 -5 258 -5 -283 -5 295 -5 -462 -5 201 -5 -13 -5 6 -5 127 -5 -150 -5 186 -5 -409 -5 121 -5 191 -5 11 -5 -72 -5 77 -5 -22 -5 245 -5 -113 -5 -53 -5 1 -5 -304 -5 419 -5 -115 -5 22 -5 -171 -5 6 -5 61 -5 57 -5 -444 -5 377 -5 -393 -5 152 -5 293 -5 -404 -5 365 -5 -166 -5 170 -5 -136 -5 208 -5 -181 -5 -67 -5 -341 -5 84 -5 537 -5 -339 -5 -163 -5 -71 -5 216 -5 107 -5 -69 -5 -96 -5 208 -5 -116 -5 70 -5 -21 -5 -34 -5 -38 -5 -30 -5 -47 -5 -95 -5 97 -5 348 -5 27 -5 -373 -5 224 -5 40 -5 -565 -5 881 -5 -371 -5 124 -5 -104 -5 -239 -5 26 -5 67 -5 154 -5 -210 -5 119 -5 153 -5 -426 -5 271 -5 -108 -5 35 -5 -50 -5 128 -5 31 -5 -313 -5 162 -5 -16 -5 8 -5 -90 -5 178 -5 20 -5 -64 -5 104 -5 -132 -5 -224 -5 576 -5 -376 -5 -7 -5 45 -5 411 -5 -334 -5 -303 -5 19 -5 -491 -5 -184 -5 317 -5 -470 -5 -61 -5 248 -5 317 -5 202 -5 -163 -5 633 -5 -18 -5 279 -5 192 -5 542 -5 -363 -5 239 -5 -203 -5 121 -5 168 -5 -124 -5 29 -5 2 -5 -108 -5 37 -5 44 -5 110 -5 -68 -5 25 -5 -346 -5 323 -5 -178 -5 111 -5 -50 -5 51 -5 -430 -5 215 -5 564 -5 -682 -5 115 -5 -189 -5 479 -5 -327 -5 557 -5 -378 -5 -306 -5 208 -5 -140 -5 380 -5 -275 -5 64 -5 321 -5 -433 -5 -304 -5 615 -5 -255 -5 -81 -5 -180 -5 148 -5 162 -5 89 -5 -335 -5 366 -5 -397 -5 21 -5 -44 -5 282 -5 -270 -5 51 -5 59 -5 -369 -5 234 -5 -46 -5 -18 -5 512 -5 -410 -5 98 -5 -12 -5 459 -5 -325 -5 67 -5 -189 -5 344 -5 -134 -5 -2 -5 -131 -5 -148 -5 351 -5 -334 -5 140 -5 93 -5 127 -5 -230 -5 133 -5 -99 -5 -23 -5 488 -5 -279 -5 -210 -5 291 -5 -189 -5 59 -5 -74 -5 -66 -5 234 -5 -90 -5 -53 -5 103 -5 175 -5 -292 -5 197 -5 44 -5 -585 -5 266 -5 481 -5 -115 -5 -366 -5 147 -5 221 -5 -300 -5 212 -5 -168 -5 197 -5 -223 -5 259 -5 206 -5 -182 -5 -89 -5 -139 -5 328 -5 -34 -5 -217 -5 -286 -5 138 -5 69 -5 -137 -5 256 -5 -281 -5 380 -5 -295 -5 35 -5 497 -5 -561 -5 161 -5 6 -5 176 -5 -294 -5 90 -5 -104 -5 111 -5 156 -5 51 -5 -255 -5 459 -5 -28 -5 -270 -5 -128 -5 305 -5 101 -5 -135 -5 -99 -5 -217 -5 30 -5 -36 -5 132 -5 -129 -5 -100 -5 83 -5 277 -5 -356 -5 15 -5 63 -5 -45 -5 32 -5 202 -5 -393 -5 68 -5 -60 -5 340 -5 -344 -5 32 -5 180 -5 -347 -5 240 -5 -189 -5 178 -5 -173 -5 200 -5 -162 -5 168 -5 -29 -5 -133 -5 157 -5 173 -5 -176 -5 -48 -5 49 -5 -222 -5 162 -5 155 -5 -243 -5 -147 -5 88 -5 -253 -5 551 -5 22 -5 -536 -5 204 -5 75 -5 80 -5 1 -5 173 -5 139 -5 -515 -5 -22 -5 213 -5 158 -5 -114 -5 207 -5 -126 -5 319 -5 -235 -5 67 -5 153 -5 146 -5 -96 -5 -49 -5 -92 -5 -11 -5 48 -5 222 -5 -253 -5 -136 -5 397 -5 -292 -5 -68 -5 -56z" fill="#aaa5a0" stroke="#aaa5a0" stroke-width="4" stroke-opacity="0.5"/>
<path transform="scale(0.1)" d="M4382 3157l5 -31 5 84 5 245 5 -292 5 127 5 189 5 -154 5 7 5 -4 5 49 5 -35 5 131 5 -146 5 -41 5 -211 5 57 5 25 5 29 5 -115 5 -28 5 -1 5 -222 5 30 5 474 5 -140 5 -274 5 26 5 -70 5 8 5 -242 5 451 5 -91 5 -371 5 213 5 -23 5 157 5 167 5 -282 5 19 5 221 5 -66 5 -57 5 128 5 -120 5 -40 5 33 5 62 5 -186 5 -54 5 51 5 184 5 -216 5 189 5 -216 5 275 5 -269 5 167 5 187 5 -153 5 -27 5 -49 5 185 5 54 5 -152 5 101 5 -69 5 -33 5 320 5 -247 5 -140 5 243 5 118 5 -211 5 60 5 -70 5 236 5 185 5 -130 5 28 5 -172 5 95 5 303 5 -77 5 -352 5 25 5 134 5 -92 5 -93 5 12 5 -120 5 76 5 40 5 32 5 -174 5 443 5 -344 5 -79 5 238 5 -224 5 202 5 -253 5 140 5 -95 5 -47 5 198 5 200 5 56 5 -492 5 287 5 100 5 -134 5 18 5 -166 5 88 5 28 5 97 5 -170 5 189 5 -218 5 -95 5 410 5 129 5 -445 5 -282 5 502 5 32 5 -299 5 198 5 -60 5 -46 5 -136 5 136 5 -117 5 75 5 99 5 -106 5 69 5 -97 5 154 5 8 5 -355 5 182 5 24 5 -84 5 137 5 -74 5 -103 5 -24 5 172 5 -257 5 173 5 122 5 -20 5 -74 5 -291 5 390 5 -164 5 287 5 -304 5 -191 5 120 5 70 5 -175 5 -47 5 1 5 -192 5 232 5 121 5 -29 5 -44 5 37 5 2 5 -49 5 301 5 -310 5 234 5 78 5 -219 5 -89 5 167 5 73 5 116 5 -517 5 275 5 293 5 -43 5 -110 5 188 5 -253 5 102 5 -243 5 -3 5 517 5 -374 5 239 5 -339 5 121 5 -38 5 215 5 -324 5 -30 5 445 5 -184 5 130 5 -37 5 165 5 -456 5 393 5 -78 5 -101 5 144 5 -61 5 56 5 -75 5 172 5 -112 5 -31 5 -24 5 -37 5 59 5 -153 5 56 5 -259 5 -164 5 -264 5 -84 5 -492 5 50 5 -212 5 -292 5 -142 5 26 5 399 5 -217 5 173 5 431 5 -144 5 406 5 190 5 -211 5 1 5 -40 5 212 5 -513 5 330 5 86 5 -306 5 143 5 -86 5 53 5 -32 5 -34 5 160 5 -176 5 177 5 83 5 -124 5 -40 5 118 5 64 5 -219 5 313 5 -79 5 -136 5 203 5 -172 5 -5 5 -81 5 234 5 -11 5 -141 5 382 5 -751 5 508 5 40 5 -228 5 109 5 210 5 -356 5 -46 5 120 5 8 5 -119 5 194 5 -191 5 44 5 112 5 88 5 -116 5 88 5 -255 5 68 5 -87 5 90 5 11 5 171 5 -197 5 -161 5 322 5 84 5 -33 5 55 5 25 5 -133 5 59 5 -259 5 209 5 -23 5 -122 5 207 5 -231 5 299 5 48 5 -53 5 -47 5 202 5 -129 5 244 5 -425 5 232 5 66 5 76 5 -136 5 -46 5 100 5 -47 5 -90 5 60 5 -193 5 -54 5 198 5 -74 5 271 5 -247 5 61 5 -79 5 -164 5 548 5 -370 5 231 5 -239 5 262 5 -74 5 -60 5 -47 5 139 5 142 5 -67 5 -221 5 138 5 214 5 -382 5 80 5 -98 5 190 5 -157 5 261 5 -213 5 179 5 -189 5 -66 5 224 5 -78 5 -21 5 -113 5 33 5 242 5 -246 5 -40 5 -194 5 523 5 -129 5 -304 5 386 5 10 5 -176 5 -58 5 247 5 -161 5 66 5 -198 5 213 5 -145 5 253 5 -95 5 -4 5 -220 5 72 5 175 5 -189 5 -19 5 80 5 6 5 -7 5 230 5 -291 5 47 5 135 5 -238 5 310 5 -140 5 -23 5 -350 5 503 5 -355 5 -48 5 58 5 -97 5 304 5 192 5 -423 5 277 5 -138 5 107 5 -271 5 -6 5 257 5 -222 5 107 5 49 5 -1 5 69 5 -121 5 62 5 90 5 -198 5 253 5 -135 5 2 5 -161 5 297 5 -299 5 249 5 56 5 47 5 -156 5 68 5 171 5 -21 5 -71 5 33 5 -248 5 -18 5 96 5 81 5 117 5 -45 5 -109 5 -201 5 180 5 139 5 -44 5 82 5 39 5 -48 5 -33 5 -266 5 283 5 -163 5 -57 5 248 5 -175 5 109 5 114 5 -34 5 -10 5 38 5 -57 5 -55 5 -100 5 151 5 -106 5 215 5 -268 5 -23 5 109 5 -38 5 -37 5 210 5 -62 5 -127 5 -60 5 20 5 -276 5 374 5 -80 5 -50 5 219 5 59 5 72 5 -128 5 -154 5 147 5 -37 5 84 5 -161 5 390 5 -339 5 41 5 220 5 -491 5 489 5 -37 5 45 5 -295 5 321 5 -215 5 -23 5 42 5 251 5 -105 5 -318 5 434 5 -77 5 -121 5 -124 5 98 5 -68 5 252 5 -322 5 65 5 293 5 -420 5 -115 5 404 5 -143 5 -182 5 451 5 64 5 -94 5 -110 5 -22 5 -184 5 98 5 220 5 -237 5 -159 5 93 5 30 5 201 5 -131 5 274 5 -210 5 87 5 -201 5 110 5 221 5 -201 5 -130 5 307 5 -75 5 57 5 87 5 -343 5 -68 5 46 5 74 5 25 5 -119 5 93 5 -258 5 -69 5 4 5 221 5 -85 5 51 5 -254 5 222 5 317 5 -308 5 -183 5 147 5 -41 5 100 5 291 5 -11 5 -126 5 -112 5 -74 5 -55 5 134 5 -177 5 144 5 78 5 -150 5 210 5 284 5 -169 5 -164 5 428 5 -364 5 -12 5 128 5 36 5 -199 5 -43 5 -250 5 173 5 274 5 -136 5 -236 5 -197 5 244 5 31 5 -213 5 223 5 52 5 187 5 -133 5 -342 5 506 5 -195 5 192 5 -233 5 -123 5 141 5 -82 5 -55 5 30 5 -185 5 150 5 185 5 68 5 32 5 -203 5 195 5 -417 5 115 5 280 5 14 5 -282 5 489 5 -198 5 -267 5 296 5 -29 5 9 5 -101 5 100 5 -51 5 -74 5 88 5 -233 5 215 5 76 5 -16 5 -53 5 -158 5 -189 5 88 5 131 5 39 5 -74 5 -22 5 2 5 103 5 -155 5 -238 5 434 5 -241 5 220 5 -328 5 117 5 167 5 -337 5 -197 5 261 5 -162 5 194 5 314 5 -334 5 162 5 108 5 -290 5 37 5 115 5 -216 5 201 5 -238 5 240 5 -153 5 224 5 -342 5 203 5 -112 5 367 5 6 5 -178 5 484 5 -258 5 -243 5 106 5 -52" fill="none" stroke="#2a2420" stroke-width="12" stroke-linejoin="bevel"/>
<line x1="767.2" x2="767.2" y1="170.0" y2="371.0" stroke="#999" stroke-width="0.8"/>
</g>
<line x1="436.7" x2="793.0" y1="307.9" y2="307.9" stroke="#5a5a5a" stroke-width="1.4"/>
<line x1="436.7" x2="436.7" y1="97.5" y2="378.3" stroke="#5b5550" stroke-width="1.4"/>
<line x1="436.0" x2="793.0" y1="378.3" y2="378.3" stroke="#5b5550" stroke-width="1.5"/>
<line x1="432.9" x2="436.7" y1="120.9" y2="120.9" stroke="#5b5550" stroke-width="1.3"/>
<text x="427.3" y="127.5" font-size="18.3" text-anchor="end" fill="#222" font-weight="normal" textLength="8.0" lengthAdjust="spacingAndGlyphs" stroke="#222" stroke-width="0.3">4</text>
<line x1="432.9" x2="436.7" y1="167.6" y2="167.6" stroke="#5b5550" stroke-width="1.3"/>
<text x="427.3" y="174.2" font-size="18.3" text-anchor="end" fill="#222" font-weight="normal" textLength="8.0" lengthAdjust="spacingAndGlyphs" stroke="#222" stroke-width="0.3">3</text>
<line x1="432.9" x2="436.7" y1="214.4" y2="214.4" stroke="#5b5550" stroke-width="1.3"/>
<text x="427.3" y="221.0" font-size="18.3" text-anchor="end" fill="#222" font-weight="normal" textLength="8.0" lengthAdjust="spacingAndGlyphs" stroke="#222" stroke-width="0.3">2</text>
<line x1="432.9" x2="436.7" y1="261.1" y2="261.1" stroke="#5b5550" stroke-width="1.3"/>
<text x="427.3" y="267.8" font-size="18.3" text-anchor="end" fill="#222" font-weight="normal" textLength="8.0" lengthAdjust="spacingAndGlyphs" stroke="#222" stroke-width="0.3">1</text>
<line x1="432.9" x2="436.7" y1="307.9" y2="307.9" stroke="#5b5550" stroke-width="1.3"/>
<text x="427.3" y="314.5" font-size="18.3" text-anchor="end" fill="#222" font-weight="normal" textLength="8.0" lengthAdjust="spacingAndGlyphs" stroke="#222" stroke-width="0.3">0</text>
<line x1="432.9" x2="436.7" y1="354.6" y2="354.6" stroke="#5b5550" stroke-width="1.3"/>
<text x="429.3" y="361.2" font-size="18.3" text-anchor="end" fill="#222" font-weight="normal" textLength="14.5" lengthAdjust="spacingAndGlyphs" stroke="#222" stroke-width="0.3">&#8722;1</text>
<line x1="437.9" x2="437.9" y1="378.3" y2="382.1" stroke="#5b5550" stroke-width="1.3"/>
<text x="437.2" y="401.8" font-size="18.3" text-anchor="middle" fill="#222" font-weight="normal" textLength="30.4" lengthAdjust="spacingAndGlyphs" stroke="#222" stroke-width="0.3">-680</text>
<line x1="548.5" x2="548.5" y1="378.3" y2="382.1" stroke="#5b5550" stroke-width="1.3"/>
<text x="546.5" y="401.8" font-size="18.3" text-anchor="middle" fill="#222" font-weight="normal" textLength="7.6" lengthAdjust="spacingAndGlyphs" stroke="#222" stroke-width="0.3">0</text>
<line x1="649.3" x2="649.3" y1="378.3" y2="382.1" stroke="#5b5550" stroke-width="1.3"/>
<text x="647.3" y="401.8" font-size="18.3" text-anchor="middle" fill="#222" font-weight="normal" textLength="24.6" lengthAdjust="spacingAndGlyphs" stroke="#222" stroke-width="0.3">700</text>
<line x1="776.3" x2="776.3" y1="378.3" y2="382.1" stroke="#5b5550" stroke-width="1.3"/>
<text x="776.5" y="401.8" font-size="18.3" text-anchor="middle" fill="#222" font-weight="normal" textLength="33.0" lengthAdjust="spacingAndGlyphs" stroke="#222" stroke-width="0.3">1400</text>
<text x="602.6" y="430.4" font-size="18.3" text-anchor="middle" fill="#222" font-weight="normal" textLength="53.6" lengthAdjust="spacingAndGlyphs" stroke="#222" stroke-width="0.25">Time [s]</text>
<text x="0" y="0" font-size="15.5" text-anchor="middle" fill="#222" stroke="#222" stroke-width="0.25" textLength="97.5" lengthAdjust="spacingAndGlyphs" transform="translate(405.9,223.0) rotate(-90)">&#916; BOLD [%]</text>
<rect x="993.50" y="97.5" width="6.3" height="210.4" fill="#e2e2e4"/>
<rect x="1003.21" y="97.5" width="6.3" height="210.4" fill="#e2e2e4"/>
<rect x="1012.92" y="97.5" width="6.3" height="210.4" fill="#e2e2e4"/>
<rect x="1022.63" y="97.5" width="6.3" height="210.4" fill="#e2e2e4"/>
<rect x="1032.34" y="97.5" width="6.3" height="210.4" fill="#e2e2e4"/>
<rect x="1042.05" y="97.5" width="6.3" height="210.4" fill="#e2e2e4"/>
<rect x="1051.76" y="97.5" width="6.3" height="210.4" fill="#e2e2e4"/>
<rect x="1061.47" y="97.5" width="6.3" height="210.4" fill="#e2e2e4"/>
<rect x="1071.18" y="97.5" width="6.3" height="210.4" fill="#e2e2e4"/>
<rect x="1080.89" y="97.5" width="6.3" height="210.4" fill="#e2e2e4"/>
<line x1="881.2" x2="1237.5" y1="120.9" y2="120.9" stroke="#c9c9c9" stroke-width="1.2"/>
<line x1="881.2" x2="1237.5" y1="167.6" y2="167.6" stroke="#c9c9c9" stroke-width="1.2"/>
<line x1="881.2" x2="1237.5" y1="214.4" y2="214.4" stroke="#c9c9c9" stroke-width="1.2"/>
<line x1="881.2" x2="1237.5" y1="261.1" y2="261.1" stroke="#c9c9c9" stroke-width="1.2"/>
<line x1="881.2" x2="1237.5" y1="354.6" y2="354.6" stroke="#c9c9c9" stroke-width="1.2"/>
<clipPath id="pc01"><rect x="881.2" y="97.5" width="356.3" height="280.8"/></clipPath><g clip-path="url(#pc01)">
<path transform="scale(0.1)" d="M8827 2870l5 323 5 -160 5 450 5 -600 5 -18 5 64 5 91 5 -112 5 217 5 -78 5 66 5 -119 5 220 5 -126 5 49 5 -114 5 -42 5 -214 5 172 5 -84 5 -127 5 -77 5 67 5 77 5 -53 5 -344 5 458 5 90 5 -68 5 -170 5 -23 5 85 5 11 5 88 5 -19 5 161 5 -147 5 191 5 -41 5 -160 5 -180 5 293 5 149 5 -65 5 -260 5 109 5 -192 5 568 5 -460 5 -86 5 435 5 -361 5 -167 5 125 5 -92 5 -295 5 315 5 -9 5 141 5 -51 5 110 5 -130 5 155 5 -6 5 110 5 259 5 104 5 -415 5 173 5 -272 5 110 5 295 5 -315 5 240 5 85 5 -128 5 -402 5 245 5 117 5 67 5 163 5 -318 5 268 5 19 5 -346 5 294 5 -244 5 42 5 41 5 -120 5 245 5 -277 5 368 5 -75 5 -103 5 165 5 -72 5 -78 5 165 5 93 5 -307 5 -2 5 -189 5 133 5 -367 5 375 5 59 5 -383 5 506 5 -426 5 -35 5 62 5 226 5 -51 5 -13 5 249 5 -381 5 -23 5 231 5 64 5 -97 5 -154 5 101 5 -55 5 231 5 -98 5 -120 5 336 5 -109 5 -90 5 -352 5 141 5 246 5 -194 5 -35 5 -239 5 36 5 180 5 98 5 -58 5 17 5 9 5 55 5 170 5 -335 5 250 5 -584 5 474 5 -192 5 280 5 -189 5 50 5 35 5 41 5 -78 5 30 5 -168 5 123 5 2 5 43 5 47 5 -176 5 455 5 -443 5 45 5 -12 5 -209 5 143 5 -8 5 43 5 -60 5 73 5 134 5 -193 5 52 5 329 5 -348 5 243 5 -344 5 4 5 407 5 -157 5 -140 5 -42 5 -321 5 188 5 258 5 -82 5 346 5 -226 5 -25 5 182 5 57 5 -207 5 -405 5 574 5 45 5 -205 5 283 5 -139 5 -108 5 -157 5 509 5 -284 5 95 5 306 5 81 5 -230 5 -235 5 -27 5 -72 5 202 5 -112 5 58 5 -134 5 94 5 -303 5 -18 5 268 5 -471 5 61 5 -89 5 -160 5 -498 5 -327 5 1 5 198 5 -529 5 174 5 -248 5 -700 5 423 5 317 5 310 5 -13 5 240 5 6 5 296 5 241 5 -9 5 -254 5 84 5 -130 5 -63 5 291 5 -97 5 -42 5 9 5 -154 5 -73 5 128 5 279 5 -121 5 121 5 6 5 -461 5 285 5 129 5 70 5 -366 5 482 5 -277 5 363 5 -196 5 -167 5 174 5 27 5 7 5 -158 5 20 5 39 5 -37 5 -171 5 -204 5 234 5 -139 5 164 5 -191 5 -21 5 361 5 -399 5 -136 5 494 5 -30 5 -91 5 113 5 53 5 61 5 -278 5 -33 5 -315 5 497 5 -303 5 -36 5 189 5 123 5 122 5 -151 5 -178 5 -217 5 147 5 61 5 200 5 -263 5 -160 5 562 5 -105 5 168 5 -374 5 171 5 21 5 -100 5 105 5 52 5 245 5 -160 5 210 5 -251 5 -154 5 585 5 -223 5 -142 5 303 5 -94 5 109 5 -455 5 325 5 -71 5 -397 5 264 5 293 5 -151 5 -235 5 -90 5 144 5 248 5 -242 5 -49 5 -91 5 -77 5 347 5 155 5 -64 5 -199 5 134 5 -88 5 -280 5 186 5 4 5 207 5 34 5 -167 5 272 5 -385 5 75 5 19 5 219 5 -28 5 -1 5 2 5 -16 5 -8 5 106 5 -61 5 -219 5 502 5 -541 5 527 5 34 5 -298 5 75 5 -66 5 240 5 -482 5 225 5 -237 5 283 5 -192 5 227 5 62 5 45 5 -127 5 119 5 71 5 -208 5 -213 5 175 5 64 5 28 5 -199 5 77 5 -311 5 159 5 298 5 49 5 -9 5 33 5 -373 5 4 5 370 5 -458 5 224 5 43 5 -66 5 -33 5 230 5 204 5 -317 5 -52 5 243 5 -438 5 149 5 14 5 67 5 79 5 19 5 -215 5 -254 5 416 5 7 5 -64 5 -2 5 159 5 77 5 31 5 -72 5 -267 5 169 5 -314 5 283 5 111 5 31 5 22 5 -269 5 238 5 -356 5 244 5 318 5 -331 5 236 5 -543 5 56 5 590 5 -85 5 125 5 -283 5 -8 5 222 5 -153 5 -17 5 -368 5 245 5 -121 5 67 5 302 5 -135 5 124 5 -184 5 19 5 147 5 -267 5 53 5 186 5 -289 5 274 5 -377 5 340 5 -43 5 205 5 -338 5 66 5 -414 5 367 5 -62 5 100 5 29 5 -198 5 280 5 -142 5 19 5 229 5 -158 5 -75 5 -66 5 347 5 8 5 -88 5 74 5 -27 5 -63 5 -45 5 178 5 -197 5 205 5 -72 5 -159 5 193 5 265 5 -50 5 -492 5 253 5 59 5 -9 5 -184 5 64 5 -124 5 -28 5 30 5 143 5 142 5 -44 5 -244 5 -53 5 -47 5 21 5 348 5 -597 5 292 5 165 5 74 5 181 5 -473 5 -35 5 437 5 -263 5 -169 5 300 5 122 5 -225 5 91 5 46 5 308 5 -433 5 -8 5 -101 5 71 5 9 5 -20 5 75 5 121 5 37 5 -10 5 35 5 28 5 60 5 266 5 -321 5 46 5 -31 5 -10 5 -153 5 -199 5 275 5 165 5 -308 5 202 5 -175 5 72 5 81 5 -195 5 67 5 138 5 -115 5 -410 5 164 5 143 5 -68 5 -48 5 -8 5 -267 5 240 5 -34 5 -76 5 -222 5 525 5 -95 5 255 5 -68 5 86 5 -53 5 -53 5 13 5 -146 5 66 5 -67 5 101 5 114 5 -311 5 -274 5 378 5 -240 5 491 5 -173 5 -226 5 -33 5 110 5 109 5 -220 5 388 5 -225 5 -21 5 43 5 1 5 -510 5 661 5 -62 5 -14 5 77 5 153 5 -384 5 145 5 331 5 -374 5 -204 5 213 5 9 5 39 5 -45 5 33 5 -36 5 216 5 -450 5 -8 5 -30 5 -136 5 395 5 109 5 -367 5 278 5 29 5 179 5 -422 5 235 5 245 5 -213 5 73 5 -161 5 -190 5 474 5 -325 5 282 5 -363 5 -233 5 314 5 -58 5 23 5 -123 5 -18 5 46 5 -214 5 -163 5 212 5 -3 5 26 5 -108 5 166 5 -231 5 -14 5 250 5 -153 5 204 5 -637 5 477 5 336 5 -132 5 -332 5 119 5 34 5 -94 5 535 5 -637 5 287 5 269 5 -331 5 -172 5 -116 5 341 5 -130 5 -119 5 282 5 210 5 -105 5 -41 5 -245 5 384 5 136 5 -686 5 625 5 -161 5 77 5 -107 5 187 5 94 0 240 -5 69 -5 -159 -5 -163 -5 84 -5 8 -5 -462 -5 431 -5 -22 -5 -167 -5 188 -5 27 -5 21 -5 -223 -5 -288 -5 238 -5 153 -5 -491 -5 127 -5 269 -5 210 -5 -395 -5 152 -5 293 -5 -216 -5 -29 -5 22 -5 -222 -5 456 -5 -134 -5 -418 -5 -126 -5 461 -5 -50 -5 -8 -5 -272 -5 198 -5 112 -5 21 -5 32 -5 -81 -5 -142 -5 55 -5 27 -5 60 -5 39 -5 139 -5 -183 -5 189 -5 -4 -5 -174 -5 103 -5 181 -5 -89 -5 274 -5 -128 -5 -88 -5 83 -5 28 -5 39 -5 -202 -5 -120 -5 319 -5 67 -5 -236 -5 -21 -5 85 -5 -126 -5 -402 -5 196 -5 139 -5 -154 -5 491 -5 -199 -5 -107 -5 109 -5 -92 -5 274 -5 -142 -5 -201 -5 323 -5 202 -5 -253 -5 -291 -5 486 -5 -242 -5 51 -5 -21 -5 384 -5 -562 -5 -80 -5 191 -5 -198 -5 -3 -5 367 -5 -527 -5 464 -5 -5 -5 -447 -5 251 -5 341 -5 -166 -5 -183 -5 24 -5 -191 -5 52 -5 341 -5 -17 -5 92 -5 -50 -5 -117 -5 24 -5 63 -5 -179 -5 252 -5 -205 -5 268 -5 -206 -5 -18 -5 -268 -5 -76 -5 213 -5 -87 -5 -124 -5 31 -5 20 -5 421 -5 -253 -5 -60 -5 123 -5 166 -5 110 -5 -275 -5 155 -5 -113 -5 278 -5 -348 -5 466 -5 -492 -5 454 -5 -319 -5 -144 -5 228 -5 -62 -5 204 -5 -47 -5 -140 -5 544 -5 -318 -5 141 -5 -366 -5 117 -5 -76 -5 -131 -5 38 -5 74 -5 155 -5 -380 -5 348 -5 -116 -5 -335 -5 605 -5 -275 -5 46 -5 3 -5 -39 -5 -3 -5 -232 -5 -6 -5 532 -5 -161 -5 -369 -5 254 -5 -106 -5 -138 -5 122 -5 -310 -5 455 -5 -95 -5 -165 -5 -102 -5 333 -5 -100 -5 118 -5 -161 -5 80 -5 -196 -5 169 -5 73 -5 -256 -5 215 -5 83 -5 -76 -5 -4 -5 54 -5 242 -5 -317 -5 126 -5 -11 -5 58 -5 -247 -5 156 -5 35 -5 -210 -5 133 -5 1 -5 42 -5 36 -5 -171 -5 -233 -5 99 -5 127 -5 0 -5 -147 -5 151 -5 -41 -5 -300 -5 113 -5 247 -5 -154 -5 -11 -5 -462 -5 444 -5 -167 -5 336 -5 -52 -5 -109 -5 -82 -5 298 -5 -285 -5 140 -5 49 -5 -100 -5 28 -5 229 -5 -416 -5 257 -5 -25 -5 63 -5 -165 -5 131 -5 154 -5 -322 -5 18 -5 112 -5 35 -5 -42 -5 225 -5 -48 -5 85 -5 -129 -5 56 -5 -659 -5 648 -5 -428 -5 479 -5 -497 -5 19 -5 381 -5 -395 -5 142 -5 247 -5 -238 -5 53 -5 -457 -5 693 -5 -244 -5 -58 -5 185 -5 -95 -5 31 -5 120 -5 -365 -5 -27 -5 351 -5 -457 -5 107 -5 170 -5 -20 -5 118 -5 -232 -5 24 -5 1 -5 466 -5 -541 -5 125 -5 265 -5 -178 -5 -91 -5 85 -5 -67 -5 -19 -5 -347 -5 500 -5 -456 -5 15 -5 347 -5 -48 -5 9 -5 109 -5 -342 -5 -157 -5 293 -5 -134 -5 275 -5 23 -5 140 -5 -510 -5 305 -5 121 -5 -14 -5 -244 -5 156 -5 -25 -5 78 -5 -292 -5 232 -5 -164 -5 -3 -5 239 -5 49 -5 -261 -5 8 -5 170 -5 374 -5 -128 -5 -511 -5 381 -5 -455 -5 319 -5 -81 -5 52 -5 139 -5 -221 -5 208 -5 -357 -5 181 -5 4 -5 -220 -5 -16 -5 312 -5 -257 -5 165 -5 -173 -5 62 -5 -244 -5 203 -5 -216 -5 371 -5 -410 -5 360 -5 -52 -5 -170 -5 -215 -5 97 -5 -51 -5 303 -5 91 -5 -216 -5 77 -5 -191 -5 303 -5 248 -5 -365 -5 -137 -5 71 -5 392 -5 -435 -5 477 -5 -307 -5 139 -5 8 -5 53 -5 71 -5 -604 -5 233 -5 226 -5 -62 -5 -119 -5 -80 -5 -180 -5 -63 -5 263 -5 -52 -5 -261 -5 310 -5 -159 -5 141 -5 -249 -5 -11 -5 327 -5 -329 -5 28 -5 -142 -5 40 -5 463 -5 -159 -5 -110 -5 -164 -5 157 -5 -176 -5 117 -5 -319 -5 219 -5 -8 -5 180 -5 50 -5 285 -5 -412 -5 250 -5 225 -5 -753 -5 189 -5 104 -5 55 -5 -270 -5 250 -5 -204 -5 307 -5 -161 -5 -83 -5 122 -5 302 -5 -222 -5 169 -5 122 -5 -100 -5 -35 -5 -68 -5 28 -5 151 -5 -332 -5 428 -5 -130 -5 -39 -5 26 -5 -149 -5 -435 -5 634 -5 -190 -5 -149 -5 257 -5 -492 -5 112 -5 -197 -5 194 -5 200 -5 -62 -5 17 -5 -324 -5 274 -5 -61 -5 32 -5 564 -5 -471 -5 -197 -5 -271 -5 261 -5 -451 -5 284 -5 -509 -5 -294 -5 -356 -5 635 -5 19 -5 48 -5 398 -5 -60 -5 154 -5 75 -5 658 -5 -21 -5 155 -5 -31 -5 760 -5 -612 -5 122 -5 303 -5 -4 -5 -183 -5 488 -5 -388 -5 -44 -5 91 -5 -9 -5 172 -5 119 -5 286 -5 -475 -5 -20 -5 2 -5 -64 -5 209 -5 -279 -5 236 -5 -182 -5 445 -5 -293 -5 -360 -5 64 -5 200 -5 59 -5 -286 -5 -22 -5 238 -5 -443 -5 176 -5 -259 -5 -89 -5 389 -5 -31 -5 144 -5 101 -5 -459 -5 168 -5 156 -5 -27 -5 270 -5 -551 -5 -14 -5 183 -5 -115 -5 -6 -5 199 -5 -146 -5 9 -5 -230 -5 370 -5 -135 -5 -117 -5 442 -5 -245 -5 107 -5 103 -5 -279 -5 -2 -5 39 -5 30 -5 -11 -5 72 -5 -40 -5 69 -5 -205 -5 245 -5 -355 -5 188 -5 -177 -5 270 -5 9 -5 140 -5 -276 -5 224 -5 -132 -5 -17 -5 -35 -5 58 -5 -125 -5 -258 -5 461 -5 -177 -5 342 -5 -386 -5 154 -5 -21 -5 148 -5 129 -5 20 -5 -197 -5 116 -5 -249 -5 -91 -5 202 -5 209 -5 109 -5 -275 -5 -241 -5 -12 -5 362 -5 -163 -5 -162 -5 424 -5 -331 -5 286 -5 -405 -5 256 -5 -145 -5 132 -5 -113 -5 -242 -5 341 -5 69 -5 -55 -5 101 -5 200 -5 -209 -5 67 -5 -56 -5 -44 -5 -57 -5 111 -5 187 -5 -252 -5 143 -5 -293 -5 243 -5 -45 -5 -95 -5 291 -5 -218 -5 193 -5 -179 -5 -103 -5 406 -5 -129 -5 -249 -5 16 -5 -218 -5 301 -5 79 -5 5 -5 -130 -5 93 -5 -207 -5 109 -5 -119 -5 -99 -5 386 -5 -189 -5 -31 -5 -191 -5 211 -5 -211 -5 30 -5 -218 -5 326 -5 -138 -5 -66 -5 -430 -5 352 -5 101 -5 -201 -5 210 -5 359 -5 -520 -5 -6 -5 578 -5 -537 -5 246 -5 -199 -5 308 -5 163 -5 66 -5 -595 -5 281 -5 99 -5 -8 -5 -210 -5 93 -5 -48 -5 -48 -5 -62 -5 -118 -5 38 -5 27 -5 307 -5 -66 -5 -11 -5 -460 -5 235 -5 261 -5 -61 -5 -76 -5 -115 -5 -44 -5 362 -5 -213 -5 70 -5 15 -5 93 -5 82 -5 190 -5 -101 -5 -134 -5 -108 -5 241 -5 -17 -5 -279 -5 331 -5 -438 -5 -45 -5 640 -5 -323 -5 43 -5 -147z" fill="#aaa5a0" stroke="#aaa5a0" stroke-width="4" stroke-opacity="0.5"/>
<path transform="scale(0.1)" d="M8827 3156l5 107 5 -14 5 300 5 -614 5 67 5 224 5 -155 5 83 5 164 5 -216 5 185 5 30 5 86 5 -252 5 38 5 -126 5 85 5 -112 5 111 5 -255 5 61 5 -6 5 -14 5 171 5 -263 5 -215 5 477 5 41 5 -28 5 -328 5 119 5 -91 5 58 5 101 5 52 5 35 5 -131 5 315 5 -122 5 -109 5 -197 5 354 5 48 5 -34 5 -240 5 158 5 -196 5 441 5 -462 5 -2 5 329 5 -245 5 -126 5 109 5 -163 5 -201 5 330 5 81 5 86 5 -188 5 134 5 24 5 33 5 -96 5 224 5 92 5 178 5 -469 5 168 5 -173 5 197 5 139 5 -128 5 87 5 123 5 -60 5 -360 5 217 5 40 5 68 5 73 5 -228 5 140 5 67 5 -102 5 72 5 -139 5 -99 5 255 5 -324 5 319 5 -97 5 153 5 -108 5 -58 5 65 5 8 5 42 5 -14 5 92 5 -170 5 -71 5 -87 5 1 5 -257 5 233 5 116 5 -335 5 393 5 -288 5 235 5 -146 5 322 5 -365 5 148 5 111 5 -396 5 125 5 128 5 72 5 -85 5 12 5 -126 5 -18 5 212 5 -22 5 7 5 116 5 -80 5 -93 5 -96 5 -103 5 242 5 -188 5 87 5 -370 5 269 5 -57 5 172 5 -22 5 -97 5 99 5 -64 5 277 5 -348 5 197 5 -366 5 282 5 -187 5 322 5 -273 5 209 5 -43 5 -76 5 34 5 -42 5 -59 5 -9 5 92 5 120 5 -58 5 -85 5 296 5 -433 5 130 5 5 5 -185 5 49 5 76 5 155 5 -207 5 25 5 187 5 -255 5 91 5 374 5 -290 5 213 5 -325 5 -9 5 282 5 -69 5 -152 5 41 5 -299 5 123 5 140 5 -55 5 352 5 -256 5 -9 5 166 5 126 5 -178 5 -190 5 246 5 196 5 -371 5 478 5 -332 5 152 5 -190 5 303 5 -261 5 161 5 294 5 -7 5 -236 5 -240 5 168 5 -20 5 23 5 -141 5 12 5 -44 5 160 5 -290 5 -75 5 375 5 -542 5 -2 5 -73 5 -51 5 -640 5 -245 5 70 5 46 5 -536 5 127 5 -134 5 -525 5 238 5 269 5 335 5 -42 5 534 5 -263 5 213 5 235 5 162 5 -279 5 -3 5 -80 5 -143 5 277 5 29 5 45 5 -195 5 -162 5 176 5 -79 5 321 5 -118 5 63 5 53 5 -393 5 218 5 219 5 55 5 -135 5 198 5 -251 5 251 5 -154 5 34 5 -49 5 69 5 62 5 -122 5 -48 5 -15 5 -55 5 -199 5 37 5 165 5 -167 5 195 5 -379 5 106 5 234 5 -297 5 8 5 501 5 -287 5 -11 5 276 5 -138 5 19 5 -220 5 18 5 -323 5 430 5 -227 5 128 5 -31 5 147 5 118 5 -128 5 -212 5 -122 5 155 5 22 5 204 5 -247 5 45 5 239 5 -78 5 180 5 -377 5 142 5 37 5 -80 5 24 5 166 5 153 5 19 5 108 5 -258 5 -152 5 576 5 -216 5 -26 5 195 5 -181 5 158 5 -324 5 211 5 -129 5 -113 5 160 5 212 5 -189 5 -190 5 88 5 -27 5 165 5 -201 5 -118 5 56 5 -210 5 320 5 170 5 70 5 -355 5 209 5 -158 5 99 5 -189 5 70 5 217 5 -52 5 -102 5 339 5 -336 5 20 5 31 5 129 5 -78 5 186 5 -134 5 110 5 -75 5 65 5 -118 5 -77 5 368 5 -322 5 397 5 39 5 -312 5 -3 5 -46 5 275 5 -224 5 -43 5 -136 5 171 5 -81 5 231 5 -104 5 86 5 -138 5 258 5 -33 5 -206 5 -166 5 175 5 5 5 58 5 -236 5 73 5 -178 5 164 5 205 5 -46 5 41 5 31 5 -379 5 45 5 299 5 -384 5 206 5 146 5 -199 5 77 5 111 5 179 5 -277 5 -36 5 403 5 -414 5 11 5 129 5 -97 5 57 5 59 5 -73 5 -267 5 443 5 -209 5 16 5 178 5 -38 5 134 5 -25 5 -99 5 -88 5 168 5 -503 5 492 5 -73 5 60 5 -7 5 -228 5 254 5 -240 5 15 5 344 5 -295 5 240 5 -467 5 431 5 95 5 136 5 -109 5 -99 5 21 5 50 5 -108 5 -87 5 -233 5 423 5 -154 5 21 5 100 5 -27 5 -2 5 -200 5 144 5 65 5 -161 5 49 5 81 5 -89 5 144 5 -176 5 5 5 124 5 100 5 -392 5 189 5 -423 5 516 5 -230 5 171 5 -61 5 -90 5 219 5 -67 5 -15 5 67 5 -52 5 -55 5 -2 5 143 5 128 5 117 5 -72 5 -73 5 -187 5 153 5 126 5 -245 5 194 5 -10 5 -74 5 -47 5 393 5 -163 5 -187 5 17 5 100 5 -23 5 -275 5 246 5 -134 5 -33 5 183 5 -118 5 94 5 0 5 72 5 -340 5 164 5 6 5 57 5 -400 5 147 5 138 5 107 5 151 5 -256 5 8 5 287 5 -347 5 80 5 236 5 -82 5 14 5 -92 5 82 5 199 5 -453 5 162 5 -141 5 26 5 193 5 -50 5 -29 5 9 5 152 5 45 5 -64 5 92 5 -58 5 213 5 -318 5 123 5 -42 5 -64 5 -87 5 -211 5 237 5 187 5 -231 5 110 5 -217 5 153 5 0 5 -42 5 17 5 143 5 -188 5 -123 5 -90 5 167 5 -13 5 -115 5 -25 5 -128 5 130 5 70 5 -235 5 16 5 305 5 -76 5 299 5 -163 5 106 5 -79 5 28 5 -43 5 -25 5 -75 5 35 5 101 5 70 5 -346 5 -17 5 224 5 -134 5 240 5 8 5 -152 5 -215 5 352 5 -25 5 -334 5 492 5 -340 5 -5 5 81 5 -85 5 -311 5 530 5 -76 5 -10 5 98 5 78 5 -403 5 205 5 259 5 -137 5 -205 5 15 5 202 5 -148 5 -62 5 19 5 -15 5 279 5 -493 5 229 5 -178 5 -204 5 400 5 152 5 -275 5 212 5 18 5 47 5 -420 5 345 5 162 5 -138 5 89 5 -214 5 119 5 140 5 -219 5 129 5 -261 5 -131 5 208 5 18 5 -132 5 -118 5 75 5 -37 5 8 5 -81 5 -66 5 161 5 -75 5 -96 5 64 5 -90 5 -11 5 72 5 103 5 15 5 -337 5 113 5 344 5 -21 5 -391 5 131 5 228 5 -173 5 350 5 -233 5 -120 5 331 5 -174 5 -236 5 -115 5 268 5 -72 5 -143 5 283 5 205 5 -102 5 23 5 -206 5 163 5 146 5 -422 5 435 5 -128 5 2 5 60 5 141 5 3" fill="none" stroke="#2a2420" stroke-width="12" stroke-linejoin="bevel"/>
<line x1="1211.0" x2="1211.0" y1="141.9" y2="375.7" stroke="#999" stroke-width="0.8"/>
</g>
<line x1="881.2" x2="1237.5" y1="307.9" y2="307.9" stroke="#5a5a5a" stroke-width="1.4"/>
<line x1="881.2" x2="881.2" y1="97.5" y2="378.3" stroke="#5b5550" stroke-width="1.4"/>
<line x1="880.5" x2="1237.5" y1="378.3" y2="378.3" stroke="#5b5550" stroke-width="1.5"/>
<line x1="877.4" x2="881.2" y1="120.9" y2="120.9" stroke="#5b5550" stroke-width="1.3"/>
<text x="871.8" y="127.5" font-size="18.3" text-anchor="end" fill="#222" font-weight="normal" textLength="8.0" lengthAdjust="spacingAndGlyphs" stroke="#222" stroke-width="0.3">4</text>
<line x1="877.4" x2="881.2" y1="167.6" y2="167.6" stroke="#5b5550" stroke-width="1.3"/>
<text x="871.8" y="174.2" font-size="18.3" text-anchor="end" fill="#222" font-weight="normal" textLength="8.0" lengthAdjust="spacingAndGlyphs" stroke="#222" stroke-width="0.3">3</text>
<line x1="877.4" x2="881.2" y1="214.4" y2="214.4" stroke="#5b5550" stroke-width="1.3"/>
<text x="871.8" y="221.0" font-size="18.3" text-anchor="end" fill="#222" font-weight="normal" textLength="8.0" lengthAdjust="spacingAndGlyphs" stroke="#222" stroke-width="0.3">2</text>
<line x1="877.4" x2="881.2" y1="261.1" y2="261.1" stroke="#5b5550" stroke-width="1.3"/>
<text x="871.8" y="267.8" font-size="18.3" text-anchor="end" fill="#222" font-weight="normal" textLength="8.0" lengthAdjust="spacingAndGlyphs" stroke="#222" stroke-width="0.3">1</text>
<line x1="877.4" x2="881.2" y1="307.9" y2="307.9" stroke="#5b5550" stroke-width="1.3"/>
<text x="871.8" y="314.5" font-size="18.3" text-anchor="end" fill="#222" font-weight="normal" textLength="8.0" lengthAdjust="spacingAndGlyphs" stroke="#222" stroke-width="0.3">0</text>
<line x1="877.4" x2="881.2" y1="354.6" y2="354.6" stroke="#5b5550" stroke-width="1.3"/>
<text x="873.8" y="361.2" font-size="18.3" text-anchor="end" fill="#222" font-weight="normal" textLength="14.5" lengthAdjust="spacingAndGlyphs" stroke="#222" stroke-width="0.3">&#8722;1</text>
<line x1="882.4" x2="882.4" y1="378.3" y2="382.1" stroke="#5b5550" stroke-width="1.3"/>
<text x="881.4" y="406.0" font-size="18.3" text-anchor="middle" fill="#222" font-weight="normal" textLength="30.4" lengthAdjust="spacingAndGlyphs" stroke="#222" stroke-width="0.3">-680</text>
<line x1="993.0" x2="993.0" y1="378.3" y2="382.1" stroke="#5b5550" stroke-width="1.3"/>
<text x="991.3" y="406.0" font-size="18.3" text-anchor="middle" fill="#222" font-weight="normal" textLength="7.6" lengthAdjust="spacingAndGlyphs" stroke="#222" stroke-width="0.3">0</text>
<line x1="1093.8" x2="1093.8" y1="378.3" y2="382.1" stroke="#5b5550" stroke-width="1.3"/>
<text x="1096.2" y="406.0" font-size="18.3" text-anchor="middle" fill="#222" font-weight="normal" textLength="24.6" lengthAdjust="spacingAndGlyphs" stroke="#222" stroke-width="0.3">700</text>
<line x1="1220.8" x2="1220.8" y1="378.3" y2="382.1" stroke="#5b5550" stroke-width="1.3"/>
<text x="1221.0" y="406.0" font-size="18.3" text-anchor="middle" fill="#222" font-weight="normal" textLength="33.0" lengthAdjust="spacingAndGlyphs" stroke="#222" stroke-width="0.3">1400</text>
<text x="1049.7" y="427.3" font-size="18.3" text-anchor="middle" fill="#222" font-weight="normal" textLength="53.6" lengthAdjust="spacingAndGlyphs" stroke="#222" stroke-width="0.25">Time [s]</text>
<text x="0" y="0" font-size="15.5" text-anchor="middle" fill="#222" stroke="#222" stroke-width="0.25" textLength="97.5" lengthAdjust="spacingAndGlyphs" transform="translate(850.9,223.0) rotate(-90)">&#916; BOLD [%]</text>
<rect x="549.00" y="497.8" width="6.3" height="210.4" fill="#e2e2e4"/>
<rect x="558.71" y="497.8" width="6.3" height="210.4" fill="#e2e2e4"/>
<rect x="568.42" y="497.8" width="6.3" height="210.4" fill="#e2e2e4"/>
<rect x="578.13" y="497.8" width="6.3" height="210.4" fill="#e2e2e4"/>
<rect x="587.84" y="497.8" width="6.3" height="210.4" fill="#e2e2e4"/>
<rect x="597.55" y="497.8" width="6.3" height="210.4" fill="#e2e2e4"/>
<rect x="607.26" y="497.8" width="6.3" height="210.4" fill="#e2e2e4"/>
<rect x="616.97" y="497.8" width="6.3" height="210.4" fill="#e2e2e4"/>
<rect x="626.68" y="497.8" width="6.3" height="210.4" fill="#e2e2e4"/>
<rect x="636.39" y="497.8" width="6.3" height="210.4" fill="#e2e2e4"/>
<line x1="436.7" x2="793.0" y1="521.2" y2="521.2" stroke="#c9c9c9" stroke-width="1.2"/>
<line x1="436.7" x2="793.0" y1="568.0" y2="568.0" stroke="#c9c9c9" stroke-width="1.2"/>
<line x1="436.7" x2="793.0" y1="614.7" y2="614.7" stroke="#c9c9c9" stroke-width="1.2"/>
<line x1="436.7" x2="793.0" y1="661.5" y2="661.5" stroke="#c9c9c9" stroke-width="1.2"/>
<line x1="436.7" x2="793.0" y1="755.0" y2="755.0" stroke="#c9c9c9" stroke-width="1.2"/>
<clipPath id="pc10"><rect x="436.7" y="497.8" width="356.3" height="280.8"/></clipPath><g clip-path="url(#pc10)">
<path transform="scale(0.1)" d="M4370 6660l5 797 5 -566 5 370 5 -113 5 -66 5 230 5 -364 5 145 5 -536 5 423 5 -27 5 81 5 64 5 -54 5 -81 5 -45 5 -178 5 143 5 95 5 -62 5 -164 5 46 5 210 5 -347 5 164 5 -141 5 26 5 129 5 32 5 190 5 -211 5 -30 5 66 5 140 5 -199 5 422 5 -527 5 383 5 -19 5 -153 5 -13 5 99 5 110 5 -513 5 377 5 -190 5 24 5 44 5 -31 5 108 5 157 5 -127 5 -96 5 225 5 2 5 -294 5 494 5 -328 5 -169 5 86 5 -104 5 217 5 -161 5 340 5 -152 5 -441 5 187 5 243 5 -110 5 -390 5 368 5 -272 5 200 5 -192 5 380 5 -263 5 134 5 84 5 235 5 -455 5 149 5 -134 5 199 5 79 5 89 5 64 5 -71 5 -221 5 314 5 -92 5 -162 5 -34 5 2 5 138 5 129 5 -281 5 -167 5 107 5 127 5 63 5 63 5 -50 5 -75 5 78 5 53 5 -60 5 -214 5 6 5 -156 5 42 5 58 5 325 5 -177 5 107 5 -343 5 458 5 -353 5 95 5 288 5 3 5 -22 5 -203 5 34 5 -233 5 199 5 -166 5 -121 5 3 5 191 5 -103 5 -4 5 101 5 287 5 -408 5 39 5 337 5 -223 5 92 5 203 5 -79 5 16 5 -232 5 221 5 5 5 94 5 -56 5 -272 5 67 5 -315 5 326 5 -37 5 -35 5 270 5 -187 5 -30 5 77 5 -171 5 162 5 -163 5 39 5 -10 5 81 5 -236 5 168 5 -107 5 262 5 -240 5 206 5 -126 5 44 5 -98 5 -56 5 147 5 -152 5 226 5 -73 5 -124 5 270 5 -333 5 -167 5 -10 5 366 5 94 5 -151 5 62 5 204 5 -139 5 -236 5 -80 5 442 5 -216 5 158 5 157 5 -126 5 136 5 -279 5 6 5 -193 5 -64 5 93 5 71 5 80 5 31 5 -50 5 -176 5 183 5 -43 5 160 5 -243 5 87 5 193 5 -118 5 140 5 -242 5 109 5 49 5 41 5 -81 5 93 5 82 5 -152 5 -40 5 -464 5 -351 5 -251 5 -224 5 13 5 -11 5 -506 5 441 5 -1 5 -2 5 38 5 -19 5 40 5 -166 5 72 5 380 5 -134 5 -58 5 65 5 -270 5 237 5 -2 5 115 5 -32 5 -223 5 240 5 -68 5 -29 5 90 5 -74 5 36 5 46 5 156 5 -143 5 301 5 -341 5 311 5 22 5 28 5 -106 5 -110 5 -60 5 -350 5 179 5 52 5 82 5 -56 5 -226 5 160 5 -203 5 -64 5 245 5 -10 5 -190 5 -91 5 226 5 141 5 -231 5 57 5 374 5 -324 5 -27 5 195 5 -487 5 392 5 15 5 -7 5 62 5 -4 5 -117 5 243 5 -477 5 538 5 -213 5 -12 5 410 5 -252 5 -405 5 284 5 91 5 -387 5 341 5 258 5 -109 5 -335 5 209 5 -198 5 1 5 186 5 30 5 177 5 -302 5 28 5 111 5 -73 5 35 5 29 5 72 5 -41 5 261 5 -28 5 -31 5 86 5 -210 5 -75 5 166 5 -518 5 269 5 -29 5 171 5 -26 5 121 5 -247 5 -12 5 643 5 -467 5 160 5 -243 5 100 5 203 5 -327 5 314 5 -129 5 -163 5 17 5 136 5 -28 5 -14 5 222 5 -343 5 -71 5 -127 5 527 5 1 5 -182 5 -227 5 186 5 84 5 -179 5 163 5 -33 5 213 5 -85 5 -373 5 307 5 44 5 -126 5 66 5 -28 5 230 5 -429 5 217 5 -29 5 188 5 -351 5 223 5 -5 5 75 5 48 5 -192 5 196 5 -279 5 240 5 -410 5 163 5 211 5 88 5 -275 5 69 5 -60 5 6 5 179 5 -93 5 -70 5 -88 5 190 5 53 5 127 5 -282 5 -219 5 168 5 35 5 -54 5 -79 5 155 5 -124 5 159 5 141 5 -355 5 267 5 -52 5 80 5 -277 5 334 5 -100 5 6 5 196 5 -136 5 -52 5 -84 5 361 5 -77 5 -251 5 70 5 133 5 -73 5 -239 5 174 5 289 5 61 5 -163 5 52 5 120 5 -9 5 -87 5 237 5 -434 5 284 5 -59 5 -15 5 229 5 -303 5 27 5 141 5 18 5 -156 5 17 5 116 5 -152 5 -22 5 149 5 77 5 -349 5 211 5 -98 5 229 5 -11 5 -220 5 226 5 -85 5 18 5 -46 5 -35 5 164 5 -441 5 42 5 222 5 -31 5 120 5 -179 5 -61 5 354 5 -269 5 203 5 -90 5 -289 5 285 5 -248 5 62 5 89 5 103 5 -14 5 49 5 -40 5 90 5 15 5 -7 5 -120 5 33 5 -317 5 238 5 -58 5 113 5 22 5 123 5 227 5 -371 5 217 5 -151 5 -61 5 -119 5 55 5 -265 5 375 5 24 5 -105 5 16 5 -111 5 139 5 54 5 -123 5 161 5 94 5 38 5 -133 5 109 5 176 5 -96 5 -137 5 -16 5 160 5 -75 5 -52 5 -250 5 148 5 105 5 109 5 152 5 -180 5 62 5 -47 5 -59 5 295 5 -343 5 -5 5 162 5 -193 5 92 5 76 5 163 5 -328 5 52 5 2 5 171 5 35 5 -96 5 -114 5 241 5 -78 5 -111 5 154 5 -450 5 59 5 313 5 -145 5 127 5 90 5 -319 5 107 5 433 5 267 5 -295 5 -284 5 112 5 12 5 -116 5 187 5 -19 5 -250 5 173 5 -7 5 -6 5 -25 5 111 5 -456 5 97 5 350 5 178 5 -235 5 -35 5 -142 5 -46 5 185 5 32 5 -365 5 391 5 -244 5 150 5 -194 5 -124 5 83 5 170 5 -25 5 82 5 11 5 -88 5 -190 5 163 5 -16 5 148 5 -227 5 -63 5 94 5 -27 5 -95 5 213 5 67 5 -149 5 -42 5 119 5 -154 5 -60 5 153 5 -95 5 -381 5 172 5 427 5 -105 5 -237 5 145 5 159 5 -449 5 397 5 -104 5 -77 5 -236 5 339 5 -136 5 -116 5 -69 5 294 5 -277 5 301 5 -159 5 -44 5 212 5 -184 5 -18 5 61 5 101 5 -28 5 -426 5 270 5 56 5 91 5 -147 5 266 5 -130 5 -23 5 13 5 47 5 -87 5 -318 5 167 5 -119 5 138 5 15 5 152 5 -139 5 293 5 -293 5 275 5 -201 5 -93 5 -66 5 -43 5 149 5 53 5 15 5 -357 5 206 5 -129 5 4 5 101 5 -513 5 721 5 68 5 -256 5 -101 5 79 5 -21 5 107 5 -387 5 132 5 55 5 -7 5 150 5 9 5 -95 5 62 5 -41 0 455 -5 -221 -5 -23 -5 -19 -5 170 -5 -134 -5 -41 -5 31 -5 138 -5 -34 -5 161 -5 -57 -5 -122 -5 -40 -5 131 -5 -23 -5 -198 -5 269 -5 -287 -5 104 -5 97 -5 -74 -5 274 -5 -165 -5 164 -5 -287 -5 -130 -5 172 -5 186 -5 305 -5 -300 -5 141 -5 -214 -5 124 -5 -324 -5 60 -5 -146 -5 242 -5 61 -5 -92 -5 57 -5 178 -5 -237 -5 218 -5 247 -5 -449 -5 240 -5 120 -5 -271 -5 -130 -5 136 -5 235 -5 -179 -5 -12 -5 -198 -5 372 -5 -351 -5 288 -5 -104 -5 -202 -5 496 -5 -387 -5 53 -5 153 -5 -132 -5 128 -5 -169 -5 224 -5 151 -5 -381 -5 506 -5 -429 -5 98 -5 114 -5 137 -5 -96 -5 -470 -5 405 -5 -1 -5 -49 -5 -224 -5 543 -5 -525 -5 67 -5 341 -5 36 -5 -321 -5 -118 -5 401 -5 -292 -5 199 -5 59 -5 29 -5 172 -5 -482 -5 221 -5 18 -5 -96 -5 200 -5 -234 -5 -33 -5 -41 -5 226 -5 -138 -5 -106 -5 204 -5 -231 -5 306 -5 33 -5 -99 -5 -187 -5 124 -5 175 -5 129 -5 -175 -5 -298 -5 111 -5 271 -5 106 -5 -19 -5 -161 -5 -12 -5 -50 -5 134 -5 105 -5 -295 -5 93 -5 221 -5 -280 -5 147 -5 299 -5 -168 -5 -303 -5 15 -5 74 -5 5 -5 -229 -5 195 -5 -107 -5 -25 -5 247 -5 -165 -5 15 -5 -46 -5 -162 -5 358 -5 13 -5 -184 -5 -57 -5 327 -5 -277 -5 255 -5 -116 -5 48 -5 18 -5 -82 -5 -242 -5 212 -5 132 -5 -188 -5 97 -5 -102 -5 -19 -5 55 -5 -135 -5 62 -5 104 -5 -358 -5 256 -5 82 -5 -137 -5 89 -5 -196 -5 70 -5 213 -5 91 -5 -427 -5 175 -5 22 -5 -72 -5 -323 -5 137 -5 232 -5 -15 -5 -142 -5 2 -5 31 -5 -77 -5 -191 -5 392 -5 -98 -5 58 -5 -80 -5 60 -5 -142 -5 330 -5 -135 -5 -9 -5 -58 -5 -163 -5 64 -5 -136 -5 134 -5 9 -5 101 -5 -126 -5 159 -5 56 -5 -84 -5 -300 -5 343 -5 173 -5 -600 -5 48 -5 366 -5 -255 -5 184 -5 187 -5 -413 -5 152 -5 -133 -5 38 -5 213 -5 -231 -5 82 -5 -352 -5 77 -5 375 -5 -87 -5 138 -5 -16 -5 68 -5 -110 -5 -9 -5 -64 -5 -62 -5 -96 -5 -19 -5 16 -5 233 -5 -118 -5 134 -5 -129 -5 191 -5 -241 -5 -91 -5 280 -5 -139 -5 5 -5 -88 -5 229 -5 13 -5 -139 -5 232 -5 -386 -5 256 -5 -82 -5 53 -5 -83 -5 159 -5 -212 -5 211 -5 41 -5 -359 -5 23 -5 31 -5 24 -5 -245 -5 108 -5 175 -5 152 -5 -360 -5 5 -5 -12 -5 116 -5 -199 -5 89 -5 600 -5 -649 -5 172 -5 -289 -5 320 -5 -41 -5 -142 -5 -64 -5 -49 -5 -52 -5 -55 -5 216 -5 87 -5 -147 -5 -31 -5 148 -5 207 -5 -216 -5 -94 -5 -72 -5 192 -5 151 -5 -242 -5 8 -5 -89 -5 36 -5 93 -5 258 -5 -80 -5 -145 -5 -156 -5 176 -5 -138 -5 322 -5 -271 -5 251 -5 -32 -5 -230 -5 69 -5 -170 -5 175 -5 -120 -5 32 -5 70 -5 157 -5 53 -5 -212 -5 62 -5 -51 -5 -18 -5 -137 -5 135 -5 281 -5 -353 -5 229 -5 -288 -5 231 -5 -37 -5 -58 -5 42 -5 139 -5 -132 -5 -244 -5 142 -5 37 -5 145 -5 -195 -5 104 -5 -39 -5 -33 -5 -195 -5 80 -5 276 -5 -127 -5 -22 -5 105 -5 -354 -5 416 -5 -26 -5 305 -5 -186 -5 -357 -5 197 -5 -223 -5 367 -5 -257 -5 -232 -5 -133 -5 340 -5 -141 -5 403 -5 -172 -5 -32 -5 37 -5 -5 -5 33 -5 -172 -5 -100 -5 45 -5 20 -5 -59 -5 -181 -5 222 -5 145 -5 15 -5 -163 -5 -264 -5 117 -5 239 -5 -48 -5 -24 -5 115 -5 -210 -5 -23 -5 407 -5 -194 -5 -45 -5 -58 -5 261 -5 -335 -5 -49 -5 61 -5 -323 -5 318 -5 -273 -5 216 -5 135 -5 -164 -5 37 -5 -19 -5 -288 -5 359 -5 -118 -5 -74 -5 264 -5 -178 -5 150 -5 -84 -5 135 -5 -421 -5 29 -5 128 -5 158 -5 -305 -5 237 -5 -120 -5 150 -5 -81 -5 72 -5 -146 -5 -41 -5 405 -5 -79 -5 -90 -5 232 -5 -16 -5 -10 -5 138 -5 -363 -5 348 -5 -238 -5 11 -5 73 -5 312 -5 -579 -5 65 -5 82 -5 158 -5 -213 -5 -314 -5 292 -5 -30 -5 27 -5 -167 -5 -131 -5 176 -5 51 -5 194 -5 -46 -5 -316 -5 10 -5 131 -5 139 -5 -340 -5 82 -5 32 -5 -241 -5 -116 -5 281 -5 -13 -5 75 -5 492 -5 62 -5 329 -5 700 -5 -384 -5 191 -5 -178 -5 55 -5 175 -5 -216 -5 -28 -5 134 -5 -3 -5 -123 -5 280 -5 1 -5 -368 -5 41 -5 54 -5 221 -5 -207 -5 101 -5 19 -5 -285 -5 188 -5 -289 -5 118 -5 132 -5 -6 -5 23 -5 466 -5 -281 -5 32 -5 -138 -5 -194 -5 258 -5 -281 -5 85 -5 89 -5 -47 -5 -137 -5 159 -5 11 -5 75 -5 -138 -5 -64 -5 -151 -5 318 -5 141 -5 -245 -5 -21 -5 -160 -5 400 -5 -313 -5 194 -5 -45 -5 -125 -5 144 -5 -135 -5 358 -5 -503 -5 192 -5 -60 -5 85 -5 75 -5 -147 -5 129 -5 211 -5 -232 -5 40 -5 -107 -5 -1 -5 202 -5 -50 -5 -97 -5 28 -5 171 -5 -290 -5 160 -5 233 -5 59 -5 -132 -5 -89 -5 -383 -5 312 -5 355 -5 -225 -5 -249 -5 226 -5 17 -5 -138 -5 -137 -5 149 -5 -159 -5 293 -5 -248 -5 -172 -5 -117 -5 282 -5 -90 -5 97 -5 -68 -5 120 -5 -2 -5 122 -5 38 -5 -44 -5 -296 -5 0 -5 364 -5 -198 -5 203 -5 -306 -5 365 -5 -272 -5 -280 -5 -127 -5 346 -5 -2 -5 361 -5 -35 -5 -142 -5 -179 -5 262 -5 -48 -5 77 -5 -250 -5 -80 -5 131 -5 106 -5 127 -5 1 -5 -329 -5 110 -5 153 -5 -89 -5 66 -5 -282 -5 305 -5 128 -5 -237 -5 237 -5 -337 -5 -20 -5 5 -5 -39 -5 319 -5 125 -5 -435 -5 -174 -5 263 -5 -137 -5 129 -5 -203 -5 212 -5 -214 -5 135 -5 239 -5 -469 -5 193 -5 164 -5 260 -5 -536 -5 330 -5 -196 -5 178 -5 -108 -5 -102 -5 380 -5 -198 -5 -24 -5 36 -5 -83 -5 3 -5 111 -5 90 -5 -427 -5 151 -5 -109 -5 -93 -5 314 -5 3 -5 52 -5 14 -5 -218 -5 -24 -5 211 -5 -4 -5 -245 -5 420 -5 -230 -5 157 -5 -178 -5 -169 -5 385 -5 -250 -5 69 -5 -164 -5 22 -5 13 -5 -12 -5 91 -5 51 -5 -92 -5 -288 -5 389 -5 87 -5 -318 -5 387 -5 -184 -5 19 -5 63 -5 -11 -5 115 -5 -225 -5 -49 -5 -171 -5 411 -5 -133 -5 484 -5 -412 -5 23 -5 89 -5 -112 -5 243 -5 -516z" fill="#8f8f98" stroke="#8f8f98" stroke-width="4" stroke-opacity="0.5"/>
<path transform="scale(0.1)" d="M4370 7003l5 514 5 -328 5 103 5 -24 5 -64 5 205 5 -230 5 87 5 -487 5 316 5 52 5 -3 5 64 5 45 5 -87 5 -140 5 93 5 -175 5 168 5 -51 5 -245 5 116 5 113 5 -22 5 -123 5 -111 5 218 5 -4 5 -93 5 212 5 -38 5 -138 5 62 5 51 5 -64 5 404 5 -455 5 257 5 71 5 -231 5 -61 5 132 5 76 5 -112 5 18 5 -190 5 86 5 61 5 -116 5 168 5 92 5 -153 5 -4 5 129 5 58 5 -109 5 332 5 -420 5 10 5 208 5 -214 5 93 5 -203 5 337 5 -138 5 -199 5 -63 5 396 5 -227 5 -102 5 111 5 -255 5 350 5 -143 5 151 5 -281 5 216 5 53 5 162 5 -380 5 102 5 -4 5 -10 5 90 5 130 5 45 5 -13 5 -285 5 366 5 -99 5 -33 5 -68 5 -68 5 191 5 67 5 -193 5 -169 5 78 5 103 5 77 5 -49 5 47 5 -137 5 182 5 -109 5 -5 5 -142 5 33 5 -307 5 119 5 9 5 398 5 -191 5 21 5 -100 5 332 5 -372 5 19 5 297 5 -15 5 -12 5 -98 5 -108 5 -176 5 225 5 -112 5 29 5 -185 5 129 5 -75 5 318 5 -81 5 110 5 -235 5 137 5 134 5 -24 5 -94 5 165 5 38 5 -163 5 -223 5 319 5 25 5 109 5 31 5 -258 5 -90 5 59 5 -75 5 2 5 -1 5 168 5 -127 5 -79 5 135 5 -8 5 32 5 -61 5 -138 5 153 5 -55 5 -114 5 6 5 -135 5 450 5 -353 5 131 5 -57 5 -44 5 -23 5 -21 5 106 5 -183 5 253 5 15 5 -136 5 127 5 -322 5 175 5 -131 5 283 5 26 5 -73 5 -44 5 167 5 -119 5 28 5 -174 5 274 5 -170 5 170 5 57 5 -22 5 67 5 -170 5 -110 5 77 5 -78 5 -108 5 134 5 -28 5 60 5 149 5 -264 5 290 5 -253 5 113 5 -142 5 175 5 83 5 -101 5 66 5 -32 5 -30 5 -5 5 -1 5 73 5 -78 5 181 5 -230 5 112 5 -480 5 -402 5 34 5 -517 5 -26 5 79 5 -272 5 92 5 194 5 -115 5 -9 5 -27 5 188 5 -198 5 43 5 252 5 -40 5 -72 5 71 5 -225 5 165 5 166 5 -23 5 -53 5 -259 5 325 5 8 5 -62 5 113 5 -235 5 369 5 -151 5 83 5 -26 5 236 5 -327 5 222 5 -39 5 63 5 -32 5 -168 5 -68 5 -21 5 -106 5 20 5 45 5 -68 5 -12 5 61 5 -104 5 -73 5 135 5 51 5 -131 5 -148 5 272 5 -17 5 -15 5 -135 5 341 5 -240 5 -75 5 244 5 -279 5 115 5 130 5 -106 5 263 5 -102 5 -273 5 316 5 -308 5 278 5 -174 5 130 5 233 5 -219 5 -115 5 147 5 66 5 -221 5 147 5 117 5 -104 5 -140 5 144 5 -175 5 -85 5 177 5 165 5 40 5 -143 5 -128 5 98 5 -26 5 119 5 -66 5 100 5 -7 5 144 5 36 5 -108 5 92 5 -24 5 -178 5 90 5 -366 5 218 5 195 5 -156 5 86 5 138 5 -210 5 219 5 272 5 -441 5 172 5 -274 5 203 5 55 5 -337 5 327 5 -142 5 -159 5 161 5 41 5 14 5 -54 5 227 5 -161 5 -15 5 -212 5 328 5 97 5 -218 5 103 5 -82 5 -2 5 -101 5 213 5 -84 5 254 5 -186 5 -260 5 244 5 30 5 53 5 -174 5 76 5 165 5 -227 5 14 5 -75 5 177 5 -253 5 151 5 41 5 91 5 -13 5 -110 5 164 5 -180 5 27 5 -102 5 42 5 52 5 206 5 -264 5 -70 5 53 5 -25 5 127 5 -10 5 88 5 -274 5 127 5 65 5 111 5 -162 5 -212 5 144 5 143 5 -269 5 6 5 80 5 50 5 -13 5 114 5 -40 5 177 5 -237 5 188 5 -233 5 443 5 -292 5 -50 5 164 5 -85 5 -10 5 30 5 155 5 -26 5 -159 5 -27 5 141 5 1 5 -7 5 -94 5 231 5 38 5 -154 5 187 5 -37 5 -41 5 -52 5 182 5 -211 5 306 5 -267 5 213 5 -21 5 -207 5 118 5 16 5 -58 5 -99 5 61 5 22 5 -117 5 190 5 -16 5 42 5 -205 5 43 5 -24 5 136 5 0 5 -113 5 169 5 -145 5 14 5 133 5 -89 5 24 5 -242 5 -122 5 303 5 -21 5 283 5 -306 5 30 5 105 5 -238 5 284 5 -157 5 -64 5 167 5 -219 5 -20 5 305 5 33 5 -234 5 52 5 178 5 -81 5 -17 5 23 5 -121 5 68 5 -151 5 63 5 80 5 -28 5 -2 5 85 5 251 5 -238 5 78 5 -177 5 148 5 -88 5 13 5 -190 5 155 5 64 5 -54 5 83 5 -44 5 28 5 -37 5 -176 5 299 5 -60 5 41 5 -92 5 249 5 -43 5 -85 5 -62 5 69 5 54 5 54 5 -136 5 -126 5 140 5 22 5 -6 5 149 5 -41 5 -4 5 -75 5 17 5 148 5 -226 5 -84 5 246 5 -83 5 22 5 -49 5 282 5 -378 5 235 5 -228 5 141 5 46 5 -52 5 -127 5 180 5 -57 5 3 5 190 5 -339 5 91 5 76 5 -120 5 265 5 -79 5 -207 5 74 5 403 5 137 5 -269 5 -256 5 201 5 -38 5 -92 5 190 5 -139 5 -56 5 27 5 20 5 125 5 -146 5 84 5 -202 5 -165 5 355 5 196 5 -232 5 -111 5 -65 5 -4 5 195 5 -39 5 -270 5 282 5 -265 5 168 5 -98 5 2 5 8 5 22 5 213 5 -169 5 57 5 -59 5 -150 5 176 5 61 5 3 5 -33 5 -166 5 154 5 -241 5 98 5 70 5 96 5 -204 5 -43 5 313 5 -344 5 -27 5 155 5 -36 5 -236 5 154 5 225 5 -135 5 3 5 -15 5 257 5 -384 5 169 5 -120 5 -12 5 -105 5 139 5 52 5 -152 5 -113 5 193 5 -185 5 171 5 83 5 -264 5 260 5 -244 5 196 5 -128 5 164 5 -70 5 -218 5 114 5 -3 5 84 5 -115 5 211 5 -42 5 -105 5 74 5 -22 5 -57 5 -10 5 5 5 -220 5 106 5 -23 5 173 5 44 5 107 5 -138 5 223 5 -172 5 -178 5 -117 5 67 5 215 5 -162 5 166 5 -209 5 114 5 -101 5 -174 5 172 5 -151 5 253 5 64 5 -210 5 -93 5 207 5 -121 5 123 5 -180 5 -150 5 116 5 103 5 138 5 -164 5 -11 5 84 5 79" fill="none" stroke="#d18f20" stroke-width="12" stroke-linejoin="bevel"/>
</g>
<line x1="436.7" x2="793.0" y1="708.2" y2="708.2" stroke="#5a5a5a" stroke-width="1.4"/>
<line x1="436.7" x2="436.7" y1="497.8" y2="778.6" stroke="#5b5550" stroke-width="1.4"/>
<line x1="436.0" x2="793.0" y1="778.6" y2="778.6" stroke="#5b5550" stroke-width="1.5"/>
<line x1="432.9" x2="436.7" y1="521.2" y2="521.2" stroke="#5b5550" stroke-width="1.3"/>
<text x="427.3" y="527.8" font-size="18.3" text-anchor="end" fill="#222" font-weight="normal" textLength="8.0" lengthAdjust="spacingAndGlyphs" stroke="#222" stroke-width="0.3">4</text>
<line x1="432.9" x2="436.7" y1="568.0" y2="568.0" stroke="#5b5550" stroke-width="1.3"/>
<text x="427.3" y="574.6" font-size="18.3" text-anchor="end" fill="#222" font-weight="normal" textLength="8.0" lengthAdjust="spacingAndGlyphs" stroke="#222" stroke-width="0.3">3</text>
<line x1="432.9" x2="436.7" y1="614.7" y2="614.7" stroke="#5b5550" stroke-width="1.3"/>
<text x="427.3" y="621.3" font-size="18.3" text-anchor="end" fill="#222" font-weight="normal" textLength="8.0" lengthAdjust="spacingAndGlyphs" stroke="#222" stroke-width="0.3">2</text>
<line x1="432.9" x2="436.7" y1="661.5" y2="661.5" stroke="#5b5550" stroke-width="1.3"/>
<text x="427.3" y="668.1" font-size="18.3" text-anchor="end" fill="#222" font-weight="normal" textLength="8.0" lengthAdjust="spacingAndGlyphs" stroke="#222" stroke-width="0.3">1</text>
<line x1="432.9" x2="436.7" y1="708.2" y2="708.2" stroke="#5b5550" stroke-width="1.3"/>
<text x="427.3" y="714.8" font-size="18.3" text-anchor="end" fill="#222" font-weight="normal" textLength="8.0" lengthAdjust="spacingAndGlyphs" stroke="#222" stroke-width="0.3">0</text>
<line x1="432.9" x2="436.7" y1="755.0" y2="755.0" stroke="#5b5550" stroke-width="1.3"/>
<text x="429.3" y="761.6" font-size="18.3" text-anchor="end" fill="#222" font-weight="normal" textLength="14.5" lengthAdjust="spacingAndGlyphs" stroke="#222" stroke-width="0.3">&#8722;1</text>
<line x1="437.9" x2="437.9" y1="778.6" y2="782.4" stroke="#5b5550" stroke-width="1.3"/>
<text x="436.4" y="802.5" font-size="18.3" text-anchor="middle" fill="#222" font-weight="normal" textLength="30.4" lengthAdjust="spacingAndGlyphs" stroke="#222" stroke-width="0.3">-680</text>
<line x1="548.5" x2="548.5" y1="778.6" y2="782.4" stroke="#5b5550" stroke-width="1.3"/>
<text x="546.0" y="802.5" font-size="18.3" text-anchor="middle" fill="#222" font-weight="normal" textLength="7.6" lengthAdjust="spacingAndGlyphs" stroke="#222" stroke-width="0.3">0</text>
<line x1="649.3" x2="649.3" y1="778.6" y2="782.4" stroke="#5b5550" stroke-width="1.3"/>
<text x="650.8" y="802.5" font-size="18.3" text-anchor="middle" fill="#222" font-weight="normal" textLength="24.6" lengthAdjust="spacingAndGlyphs" stroke="#222" stroke-width="0.3">700</text>
<line x1="776.3" x2="776.3" y1="778.6" y2="782.4" stroke="#5b5550" stroke-width="1.3"/>
<text x="775.4" y="802.5" font-size="18.3" text-anchor="middle" fill="#222" font-weight="normal" textLength="33.0" lengthAdjust="spacingAndGlyphs" stroke="#222" stroke-width="0.3">1400</text>
<text x="610.2" y="830.8" font-size="18.3" text-anchor="middle" fill="#222" font-weight="normal" textLength="53.6" lengthAdjust="spacingAndGlyphs" stroke="#222" stroke-width="0.25">Time [s]</text>
<text x="0" y="0" font-size="15.5" text-anchor="middle" fill="#222" stroke="#222" stroke-width="0.25" textLength="97.5" lengthAdjust="spacingAndGlyphs" transform="translate(405.9,623.3) rotate(-90)">&#916; BOLD [%]</text>
<rect x="993.50" y="497.8" width="6.3" height="210.4" fill="#e2e2e4"/>
<rect x="1003.21" y="497.8" width="6.3" height="210.4" fill="#e2e2e4"/>
<rect x="1012.92" y="497.8" width="6.3" height="210.4" fill="#e2e2e4"/>
<rect x="1022.63" y="497.8" width="6.3" height="210.4" fill="#e2e2e4"/>
<rect x="1032.34" y="497.8" width="6.3" height="210.4" fill="#e2e2e4"/>
<rect x="1042.05" y="497.8" width="6.3" height="210.4" fill="#e2e2e4"/>
<rect x="1051.76" y="497.8" width="6.3" height="210.4" fill="#e2e2e4"/>
<rect x="1061.47" y="497.8" width="6.3" height="210.4" fill="#e2e2e4"/>
<rect x="1071.18" y="497.8" width="6.3" height="210.4" fill="#e2e2e4"/>
<rect x="1080.89" y="497.8" width="6.3" height="210.4" fill="#e2e2e4"/>
<line x1="881.2" x2="1237.5" y1="521.2" y2="521.2" stroke="#c9c9c9" stroke-width="1.2"/>
<line x1="881.2" x2="1237.5" y1="568.0" y2="568.0" stroke="#c9c9c9" stroke-width="1.2"/>
<line x1="881.2" x2="1237.5" y1="614.7" y2="614.7" stroke="#c9c9c9" stroke-width="1.2"/>
<line x1="881.2" x2="1237.5" y1="661.5" y2="661.5" stroke="#c9c9c9" stroke-width="1.2"/>
<line x1="881.2" x2="1237.5" y1="755.0" y2="755.0" stroke="#c9c9c9" stroke-width="1.2"/>
<clipPath id="pc11"><rect x="881.2" y="497.8" width="356.3" height="280.8"/></clipPath><g clip-path="url(#pc11)">
<path transform="scale(0.1)" d="M8815 7323l5 -57 5 -119 5 -296 5 671 5 -298 5 177 5 -188 5 161 5 -263 5 6 5 -125 5 -9 5 -19 5 59 5 -261 5 461 5 -503 5 282 5 -86 5 23 5 -120 5 -113 5 181 5 -141 5 275 5 -213 5 196 5 -206 5 194 5 28 5 -240 5 233 5 -215 5 -58 5 63 5 17 5 88 5 85 5 -35 5 -180 5 -27 5 247 5 -130 5 134 5 3 5 15 5 -44 5 -595 5 670 5 -68 5 -252 5 348 5 -32 5 -51 5 -82 5 240 5 -373 5 150 5 33 5 -108 5 -55 5 -158 5 165 5 -23 5 -26 5 201 5 -314 5 329 5 -107 5 -409 5 296 5 264 5 -328 5 201 5 -290 5 374 5 -183 5 295 5 41 5 -195 5 -241 5 -82 5 -200 5 471 5 -263 5 358 5 -142 5 199 5 60 5 -67 5 113 5 -420 5 213 5 -177 5 298 5 -143 5 -164 5 226 5 11 5 17 5 -55 5 -284 5 38 5 187 5 -282 5 431 5 -230 5 200 5 -369 5 358 5 -37 5 -124 5 135 5 36 5 -157 5 97 5 202 5 -348 5 271 5 -277 5 -94 5 338 5 -304 5 -6 5 223 5 -128 5 65 5 -288 5 329 5 -155 5 49 5 83 5 -229 5 173 5 112 5 53 5 303 5 -246 5 -354 5 311 5 -75 5 -238 5 387 5 52 5 -87 5 110 5 -214 5 -22 5 -258 5 195 5 199 5 -194 5 125 5 10 5 -235 5 294 5 -282 5 -118 5 412 5 -210 5 138 5 -100 5 62 5 -186 5 105 5 490 5 -312 5 -260 5 158 5 100 5 -352 5 30 5 176 5 -35 5 89 5 -191 5 208 5 237 5 -229 5 -13 5 -50 5 4 5 49 5 438 5 -716 5 226 5 102 5 -64 5 -5 5 238 5 -323 5 110 5 -15 5 129 5 -431 5 29 5 185 5 67 5 190 5 75 5 -301 5 -96 5 493 5 -412 5 286 5 -107 5 -176 5 229 5 -39 5 -102 5 -108 5 131 5 -117 5 253 5 -589 5 317 5 103 5 -106 5 16 5 -204 5 -4 5 161 5 -240 5 -78 5 -438 5 -560 5 -2 5 -176 5 -275 5 126 5 157 5 -15 5 -267 5 268 5 195 5 -231 5 305 5 -23 5 308 5 -408 5 256 5 -347 5 305 5 199 5 -92 5 -46 5 196 5 129 5 -123 5 -62 5 27 5 8 5 264 5 -107 5 100 5 -9 5 44 5 -225 5 149 5 58 5 -441 5 176 5 148 5 -190 5 -98 5 -517 5 366 5 81 5 252 5 5 5 -45 5 -126 5 -90 5 81 5 -81 5 -349 5 633 5 -296 5 121 5 -58 5 135 5 -239 5 195 5 -106 5 -59 5 273 5 -236 5 176 5 10 5 -232 5 0 5 -140 5 158 5 -6 5 139 5 9 5 22 5 292 5 -541 5 209 5 -66 5 91 5 -169 5 -7 5 34 5 24 5 186 5 -92 5 -56 5 -43 5 327 5 -298 5 -53 5 -38 5 214 5 84 5 -242 5 91 5 109 5 -39 5 -78 5 191 5 -10 5 -118 5 18 5 -47 5 26 5 90 5 -46 5 267 5 -211 5 81 5 -2 5 227 5 -305 5 -103 5 181 5 25 5 239 5 -40 5 -263 5 -20 5 -178 5 72 5 16 5 138 5 -130 5 -174 5 117 5 281 5 -301 5 139 5 -170 5 186 5 -21 5 100 5 186 5 -279 5 114 5 -110 5 -59 5 176 5 104 5 -92 5 69 5 -583 5 475 5 -24 5 -29 5 440 5 -417 5 76 5 119 5 -268 5 331 5 -157 5 -100 5 98 5 230 5 -362 5 206 5 -189 5 100 5 -103 5 94 5 -81 5 25 5 274 5 123 5 -470 5 194 5 -240 5 438 5 -229 5 15 5 21 5 -176 5 80 5 216 5 65 5 -93 5 -305 5 99 5 -120 5 373 5 -122 5 98 5 -226 5 32 5 7 5 -176 5 363 5 -276 5 281 5 -457 5 334 5 -29 5 -68 5 -149 5 72 5 211 5 85 5 -311 5 406 5 -185 5 -60 5 100 5 44 5 -49 5 -459 5 578 5 -524 5 191 5 189 5 -97 5 223 5 -109 5 255 5 -133 5 159 5 -47 5 -150 5 -26 5 -164 5 179 5 122 5 -170 5 -23 5 398 5 -242 5 231 5 -53 5 -53 5 29 5 13 5 -134 5 55 5 -131 5 113 5 -210 5 -66 5 430 5 -369 5 -185 5 367 5 -107 5 85 5 -31 5 -105 5 44 5 10 5 -63 5 -203 5 5 5 167 5 145 5 99 5 -336 5 97 5 401 5 -88 5 -19 5 -346 5 9 5 180 5 -24 5 64 5 195 5 -171 5 148 5 -221 5 95 5 176 5 -55 5 39 5 -259 5 196 5 -125 5 56 5 293 5 -90 5 15 5 -40 5 -150 5 13 5 -36 5 87 5 51 5 -166 5 73 5 -89 5 258 5 -241 5 102 5 -75 5 -204 5 -156 5 244 5 114 5 80 5 -160 5 79 5 157 5 -151 5 -114 5 -268 5 454 5 18 5 -61 5 207 5 75 5 -52 5 -145 5 1 5 -52 5 22 5 115 5 -586 5 656 5 -279 5 162 5 -84 5 23 5 -379 5 748 5 -558 5 233 5 -20 5 -320 5 299 5 37 5 41 5 -2 5 -27 5 -112 5 53 5 201 5 -241 5 142 5 351 5 -151 5 -415 5 52 5 263 5 129 5 -174 5 -171 5 170 5 -84 5 208 5 -301 5 279 5 -90 5 -206 5 -95 5 250 5 -212 5 527 5 -483 5 48 5 183 5 230 5 -200 5 -92 5 -331 5 275 5 -150 5 93 5 -87 5 185 5 145 5 -181 5 -85 5 -108 5 -66 5 257 5 -250 5 333 5 -532 5 424 5 -190 5 -9 5 415 5 -338 5 42 5 341 5 -380 5 -12 5 52 5 265 5 -108 5 -92 5 -192 5 194 5 40 5 89 5 -277 5 449 5 -510 5 126 5 -81 5 -202 5 300 5 -269 5 344 5 -145 5 27 5 -51 5 59 5 136 5 -109 5 321 5 -233 5 -143 5 -164 5 289 5 -98 5 -151 5 238 5 -96 5 -101 5 268 5 -372 5 385 5 -179 5 -89 5 -59 5 187 5 -143 5 -111 5 60 5 75 5 -3 5 168 5 -168 5 -169 5 197 5 -337 5 272 5 68 5 -243 5 277 5 -303 5 -42 5 131 5 -93 5 224 5 -158 5 271 5 -90 5 -244 5 215 5 -97 5 -46 5 -111 5 393 5 -268 5 -95 5 267 5 -269 5 -154 5 143 5 -119 5 -95 5 181 5 56 5 -2 5 18 5 -56 5 51 5 71 5 47 5 81 0 298 -5 -182 -5 63 -5 85 -5 -132 -5 64 -5 -71 -5 -2 -5 -214 -5 112 -5 -41 -5 -104 -5 -69 -5 358 -5 -50 -5 -72 -5 -14 -5 325 -5 -67 -5 -208 -5 32 -5 91 -5 203 -5 -196 -5 257 -5 -126 -5 -92 -5 -128 -5 -14 -5 24 -5 -37 -5 313 -5 -468 -5 421 -5 -164 -5 -238 -5 475 -5 -385 -5 170 -5 249 -5 -121 -5 -114 -5 95 -5 -198 -5 140 -5 -6 -5 307 -5 -290 -5 149 -5 62 -5 -186 -5 225 -5 -234 -5 208 -5 -110 -5 59 -5 146 -5 -225 -5 -67 -5 94 -5 70 -5 174 -5 -378 -5 280 -5 -159 -5 -120 -5 178 -5 39 -5 -9 -5 -296 -5 438 -5 -381 -5 77 -5 193 -5 -212 -5 417 -5 -42 -5 -130 -5 122 -5 -76 -5 -3 -5 -230 -5 196 -5 -44 -5 -68 -5 198 -5 -158 -5 231 -5 -162 -5 -125 -5 282 -5 -226 -5 -160 -5 206 -5 -190 -5 247 -5 -75 -5 329 -5 -37 -5 -161 -5 -118 -5 310 -5 -174 -5 -46 -5 -328 -5 226 -5 -122 -5 -10 -5 -61 -5 194 -5 137 -5 225 -5 -402 -5 -121 -5 84 -5 456 -5 -349 -5 -11 -5 -136 -5 97 -5 6 -5 249 -5 -157 -5 17 -5 -70 -5 -48 -5 -122 -5 196 -5 255 -5 -321 -5 199 -5 -240 -5 190 -5 302 -5 -318 -5 -284 -5 466 -5 -408 -5 -42 -5 339 -5 -231 -5 -87 -5 85 -5 4 -5 -175 -5 57 -5 280 -5 -246 -5 507 -5 -716 -5 239 -5 131 -5 26 -5 -100 -5 159 -5 -235 -5 90 -5 11 -5 5 -5 -98 -5 7 -5 126 -5 41 -5 65 -5 -253 -5 42 -5 119 -5 -166 -5 140 -5 -102 -5 81 -5 90 -5 -176 -5 -144 -5 232 -5 11 -5 -376 -5 -66 -5 172 -5 226 -5 -25 -5 55 -5 -175 -5 144 -5 -215 -5 329 -5 -152 -5 48 -5 -19 -5 -47 -5 99 -5 -92 -5 -6 -5 121 -5 -171 -5 -159 -5 209 -5 98 -5 -210 -5 336 -5 -54 -5 -278 -5 -1 -5 86 -5 0 -5 33 -5 -130 -5 73 -5 -41 -5 -251 -5 19 -5 362 -5 137 -5 -192 -5 -274 -5 -112 -5 328 -5 -204 -5 -28 -5 -118 -5 232 -5 -66 -5 36 -5 170 -5 -158 -5 161 -5 -120 -5 -6 -5 47 -5 -311 -5 114 -5 370 -5 -178 -5 -166 -5 134 -5 15 -5 93 -5 -87 -5 30 -5 278 -5 137 -5 -144 -5 -245 -5 42 -5 131 -5 -379 -5 125 -5 53 -5 -162 -5 229 -5 -132 -5 30 -5 -52 -5 173 -5 -238 -5 137 -5 -127 -5 276 -5 -231 -5 231 -5 -443 -5 0 -5 319 -5 -294 -5 150 -5 115 -5 -69 -5 136 -5 -76 -5 -153 -5 -32 -5 194 -5 -32 -5 -115 -5 -350 -5 213 -5 35 -5 -66 -5 180 -5 5 -5 -217 -5 234 -5 -421 -5 421 -5 -155 -5 35 -5 97 -5 -24 -5 -89 -5 13 -5 -202 -5 -58 -5 250 -5 404 -5 -182 -5 146 -5 -527 -5 292 -5 -192 -5 201 -5 -13 -5 -375 -5 205 -5 -35 -5 302 -5 66 -5 -40 -5 -237 -5 93 -5 -195 -5 -20 -5 121 -5 -102 -5 93 -5 148 -5 239 -5 -524 -5 195 -5 38 -5 -277 -5 483 -5 -360 -5 11 -5 291 -5 -368 -5 165 -5 -63 -5 -446 -5 500 -5 -80 -5 34 -5 163 -5 -482 -5 154 -5 201 -5 -334 -5 294 -5 -147 -5 122 -5 -118 -5 -56 -5 131 -5 -152 -5 144 -5 -81 -5 -281 -5 471 -5 -201 -5 106 -5 -102 -5 38 -5 27 -5 -133 -5 445 -5 15 -5 -287 -5 -7 -5 17 -5 -32 -5 114 -5 70 -5 -220 -5 9 -5 167 -5 -187 -5 -77 -5 192 -5 -277 -5 183 -5 -52 -5 54 -5 -36 -5 -323 -5 171 -5 239 -5 -258 -5 85 -5 8 -5 89 -5 -233 -5 161 -5 -253 -5 599 -5 -413 -5 58 -5 133 -5 -155 -5 -73 -5 94 -5 -354 -5 225 -5 67 -5 1 -5 48 -5 -271 -5 542 -5 -459 -5 231 -5 -101 -5 -19 -5 -262 -5 -9 -5 149 -5 -11 -5 157 -5 49 -5 -112 -5 100 -5 -134 -5 202 -5 45 -5 -380 -5 207 -5 36 -5 25 -5 -96 -5 96 -5 -98 -5 -100 -5 243 -5 -211 -5 187 -5 -51 -5 169 -5 -10 -5 -194 -5 166 -5 -532 -5 508 -5 -75 -5 87 -5 -51 -5 152 -5 33 -5 60 -5 -58 -5 164 -5 -134 -5 245 -5 -155 -5 -106 -5 -310 -5 108 -5 27 -5 85 -5 -52 -5 -89 -5 -128 -5 83 -5 56 -5 -239 -5 8 -5 65 -5 -127 -5 99 -5 -136 -5 -67 -5 -196 -5 102 -5 -102 -5 -196 -5 169 -5 104 -5 -212 -5 44 -5 167 -5 237 -5 169 -5 151 -5 665 -5 133 -5 -21 -5 -91 -5 -52 -5 271 -5 -172 -5 169 -5 159 -5 -363 -5 485 -5 -433 -5 228 -5 -151 -5 104 -5 192 -5 -27 -5 -135 -5 130 -5 101 -5 -294 -5 397 -5 -503 -5 140 -5 322 -5 -189 -5 -132 -5 43 -5 63 -5 179 -5 -102 -5 -70 -5 6 -5 -133 -5 156 -5 -54 -5 17 -5 -31 -5 -73 -5 -170 -5 548 -5 -429 -5 4 -5 154 -5 -120 -5 -111 -5 274 -5 -144 -5 -52 -5 57 -5 -186 -5 135 -5 -64 -5 342 -5 -268 -5 75 -5 -42 -5 160 -5 246 -5 -267 -5 -456 -5 534 -5 -171 -5 -131 -5 277 -5 -152 -5 -61 -5 47 -5 19 -5 -82 -5 22 -5 -11 -5 -50 -5 280 -5 -292 -5 -65 -5 305 -5 -129 -5 187 -5 -146 -5 1 -5 261 -5 -331 -5 113 -5 65 -5 -292 -5 232 -5 196 -5 -113 -5 -36 -5 -258 -5 -19 -5 23 -5 -139 -5 364 -5 -113 -5 -226 -5 46 -5 35 -5 286 -5 -438 -5 -5 -5 207 -5 214 -5 -419 -5 614 -5 -443 -5 317 -5 -244 -5 -144 -5 287 -5 -57 -5 -154 -5 89 -5 -62 -5 -118 -5 386 -5 -254 -5 226 -5 -358 -5 113 -5 -13 -5 12 -5 50 -5 11 -5 -47 -5 -26 -5 114 -5 4 -5 189 -5 -401 -5 198 -5 -129 -5 157 -5 69 -5 -90 -5 104 -5 -152 -5 77 -5 -280 -5 204 -5 -125 -5 -70 -5 143 -5 248 -5 45 -5 -120 -5 -141 -5 -13 -5 -168 -5 394 -5 -396 -5 131 -5 187 -5 -525 -5 428 -5 -51 -5 -340 -5 422 -5 -107 -5 -43 -5 79 -5 -48 -5 -85 -5 176 -5 49 -5 -31 -5 -127 -5 342 -5 -293 -5 38 -5 153 -5 339 -5 -593 -5 202 -5 -22 -5 -210 -5 355 -5 -192 -5 4 -5 73 -5 -92 -5 154 -5 -330 -5 -50 -5 91 -5 343 -5 -14 -5 -413 -5 12 -5 101 -5 -26 -5 238 -5 142 -5 -325 -5 293 -5 -426 -5 197 -5 -35 -5 228 -5 -411 -5 92 -5 -19 -5 158 -5 76 -5 -29 -5 -145 -5 92 -5 198 -5 -311 -5 254 -5 -189 -5 6 -5 27 -5 137 -5 85 -5 213 -5 -212 -5 156 -5 -65 -5 202 -5 -159 -5 -291 -5 289 -5 127z" fill="#8f8f98" stroke="#8f8f98" stroke-width="4" stroke-opacity="0.5"/>
<path transform="scale(0.1)" d="M8815 7479l5 -63 5 -228 5 97 5 293 5 -167 5 52 5 -113 5 192 5 -258 5 -49 5 -197 5 68 5 -50 5 185 5 -447 5 476 5 -385 5 158 5 87 5 -22 5 -33 5 -136 5 6 5 -168 5 431 5 -195 5 101 5 -200 5 355 5 -200 5 -44 5 167 5 -316 5 91 5 -90 5 -10 5 226 5 -19 5 -72 5 -76 5 -7 5 197 5 -10 5 25 5 -15 5 -36 5 -20 5 -302 5 338 5 -21 5 -113 5 196 5 -22 5 -40 5 -76 5 259 5 -353 5 185 5 -66 5 -100 5 -31 5 -60 5 90 5 38 5 -63 5 123 5 -278 5 261 5 36 5 -394 5 280 5 107 5 -308 5 258 5 -148 5 196 5 -78 5 168 5 15 5 -72 5 -127 5 -96 5 -192 5 424 5 -229 5 181 5 -52 5 151 5 38 5 -50 5 71 5 -164 5 92 5 -196 5 163 5 -3 5 -119 5 37 5 72 5 1 5 -2 5 -139 5 -7 5 43 5 -61 5 189 5 -146 5 216 5 -277 5 129 5 11 5 -34 5 66 5 20 5 -161 5 134 5 111 5 -173 5 240 5 -391 5 246 5 -20 5 -249 5 18 5 219 5 -54 5 -36 5 -87 5 192 5 -24 5 -154 5 127 5 -42 5 53 5 199 5 -27 5 206 5 -264 5 -167 5 298 5 -268 5 22 5 126 5 40 5 -35 5 78 5 -97 5 -82 5 -73 5 -15 5 175 5 -237 5 216 5 -60 5 -55 5 92 5 -9 5 -76 5 99 5 9 5 -63 5 -122 5 144 5 -249 5 208 5 390 5 -305 5 -237 5 192 5 36 5 48 5 -252 5 43 5 20 5 65 5 -116 5 101 5 244 5 -247 5 71 5 5 5 -66 5 64 5 362 5 -546 5 60 5 156 5 27 5 -62 5 163 5 -188 5 61 5 28 5 87 5 -16 5 -204 5 21 5 93 5 74 5 110 5 -186 5 -136 5 353 5 -333 5 332 5 -242 5 -76 5 173 5 17 5 -174 5 -73 5 142 5 -187 5 284 5 -341 5 191 5 -28 5 -97 5 14 5 -158 5 -33 5 192 5 -92 5 -260 5 -435 5 -373 5 -73 5 -142 5 -133 5 -158 5 213 5 19 5 -197 5 69 5 207 5 -182 5 315 5 1 5 213 5 -258 5 187 5 -57 5 73 5 135 5 0 5 -126 5 223 5 33 5 -4 5 -51 5 30 5 -93 5 258 5 -116 5 201 5 -128 5 52 5 -202 5 103 5 101 5 -174 5 -12 5 32 5 -61 5 56 5 -455 5 276 5 -70 5 230 5 -11 5 -51 5 22 5 -155 5 197 5 -205 5 -153 5 314 5 -189 5 200 5 -156 5 35 5 -165 5 264 5 -108 5 -128 5 245 5 -133 5 67 5 -38 5 -173 5 25 5 -189 5 129 5 33 5 150 5 52 5 -47 5 284 5 -482 5 275 5 47 5 -78 5 -172 5 -48 5 214 5 -65 5 100 5 89 5 -126 5 -13 5 202 5 -321 5 298 5 -241 5 132 5 -9 5 16 5 -132 5 243 5 -98 5 -199 5 291 5 -63 5 -89 5 160 5 -119 5 173 5 -142 5 99 5 98 5 -246 5 189 5 23 5 99 5 -87 5 -48 5 -9 5 -35 5 260 5 -93 5 -198 5 96 5 -33 5 -136 5 99 5 -63 5 33 5 -237 5 106 5 222 5 -136 5 187 5 -231 5 19 5 118 5 21 5 154 5 -294 5 86 5 25 5 -136 5 220 5 -3 5 27 5 68 5 -430 5 317 5 16 5 -119 5 479 5 -377 5 -2 5 123 5 -192 5 289 5 -218 5 -78 5 340 5 -62 5 -158 5 8 5 59 5 -99 5 -3 5 136 5 -137 5 120 5 102 5 43 5 -401 5 143 5 -210 5 423 5 -135 5 -79 5 58 5 -84 5 93 5 63 5 149 5 -161 5 -286 5 99 5 -77 5 280 5 -70 5 109 5 -107 5 -6 5 -90 5 -143 5 299 5 -256 5 272 5 -310 5 189 5 -9 5 3 5 -151 5 197 5 86 5 52 5 -137 5 137 5 -1 5 -54 5 -74 5 183 5 -168 5 -104 5 376 5 -331 5 -103 5 335 5 -143 5 267 5 -195 5 107 5 -92 5 147 5 -49 5 -46 5 25 5 -50 5 -2 5 85 5 -81 5 -71 5 404 5 -244 5 103 5 56 5 10 5 -56 5 -9 5 -122 5 144 5 -301 5 215 5 -166 5 -29 5 276 5 -279 5 -121 5 327 5 -112 5 84 5 -45 5 -8 5 42 5 -146 5 -51 5 99 5 -180 5 80 5 50 5 185 5 -329 5 80 5 399 5 -114 5 -51 5 -176 5 -26 5 167 5 -35 5 -42 5 271 5 -208 5 124 5 -61 5 21 5 168 5 -9 5 -122 5 3 5 33 5 -173 5 172 5 144 5 -87 5 -9 5 16 5 -168 5 77 5 -73 5 58 5 109 5 -178 5 149 5 -99 5 118 5 -115 5 44 5 -86 5 -180 5 -29 5 152 5 142 5 -74 5 70 5 93 5 -45 5 26 5 25 5 -239 5 250 5 -6 5 -122 5 193 5 44 5 -38 5 -163 5 8 5 -18 5 107 5 47 5 -210 5 275 5 -179 5 129 5 -105 5 -36 5 -180 5 492 5 -504 5 251 5 -106 5 -35 5 185 5 -54 5 -61 5 64 5 67 5 -122 5 -12 5 207 5 -303 5 150 5 334 5 -163 5 -292 5 33 5 154 5 225 5 -174 5 -157 5 96 5 44 5 72 5 -133 5 140 5 -83 5 -50 5 -165 5 157 5 46 5 215 5 -371 5 1 5 131 5 302 5 -203 5 -105 5 -291 5 183 5 -35 5 29 5 -69 5 269 5 -15 5 47 5 -105 5 31 5 -42 5 112 5 -134 5 110 5 -350 5 311 5 -334 5 85 5 349 5 -254 5 23 5 252 5 -263 5 87 5 -50 5 110 5 -127 5 -62 5 77 5 20 5 -38 5 118 5 -175 5 326 5 -459 5 164 5 -89 5 -34 5 237 5 -444 5 383 5 -155 5 1 5 -119 5 177 5 152 5 -220 5 327 5 -260 5 14 5 -236 5 219 5 22 5 38 5 1 5 -57 5 -133 5 211 5 -149 5 150 5 -182 5 -42 5 173 5 -79 5 -96 5 -44 5 -22 5 122 5 108 5 56 5 -289 5 -67 5 111 5 -186 5 247 5 -19 5 -244 5 284 5 -197 5 1 5 35 5 -183 5 288 5 -48 5 198 5 -103 5 -38 5 -14 5 -50 5 -75 5 97 5 138 5 -253 5 -44 5 148 5 -51 5 -326 5 89 5 -10 5 -1 5 77 5 114 5 -118 5 105 5 69 5 -14 5 27 5 -63 5 239" fill="none" stroke="#d18f20" stroke-width="12" stroke-linejoin="bevel"/>
</g>
<line x1="881.2" x2="1237.5" y1="708.2" y2="708.2" stroke="#5a5a5a" stroke-width="1.4"/>
<line x1="881.2" x2="881.2" y1="497.8" y2="778.6" stroke="#5b5550" stroke-width="1.4"/>
<line x1="880.5" x2="1237.5" y1="778.6" y2="778.6" stroke="#5b5550" stroke-width="1.5"/>
<line x1="877.4" x2="881.2" y1="521.2" y2="521.2" stroke="#5b5550" stroke-width="1.3"/>
<text x="871.8" y="527.8" font-size="18.3" text-anchor="end" fill="#222" font-weight="normal" textLength="8.0" lengthAdjust="spacingAndGlyphs" stroke="#222" stroke-width="0.3">4</text>
<line x1="877.4" x2="881.2" y1="568.0" y2="568.0" stroke="#5b5550" stroke-width="1.3"/>
<text x="871.8" y="574.6" font-size="18.3" text-anchor="end" fill="#222" font-weight="normal" textLength="8.0" lengthAdjust="spacingAndGlyphs" stroke="#222" stroke-width="0.3">3</text>
<line x1="877.4" x2="881.2" y1="614.7" y2="614.7" stroke="#5b5550" stroke-width="1.3"/>
<text x="871.8" y="621.3" font-size="18.3" text-anchor="end" fill="#222" font-weight="normal" textLength="8.0" lengthAdjust="spacingAndGlyphs" stroke="#222" stroke-width="0.3">2</text>
<line x1="877.4" x2="881.2" y1="661.5" y2="661.5" stroke="#5b5550" stroke-width="1.3"/>
<text x="871.8" y="668.1" font-size="18.3" text-anchor="end" fill="#222" font-weight="normal" textLength="8.0" lengthAdjust="spacingAndGlyphs" stroke="#222" stroke-width="0.3">1</text>
<line x1="877.4" x2="881.2" y1="708.2" y2="708.2" stroke="#5b5550" stroke-width="1.3"/>
<text x="871.8" y="714.8" font-size="18.3" text-anchor="end" fill="#222" font-weight="normal" textLength="8.0" lengthAdjust="spacingAndGlyphs" stroke="#222" stroke-width="0.3">0</text>
<line x1="877.4" x2="881.2" y1="755.0" y2="755.0" stroke="#5b5550" stroke-width="1.3"/>
<text x="873.8" y="761.6" font-size="18.3" text-anchor="end" fill="#222" font-weight="normal" textLength="14.5" lengthAdjust="spacingAndGlyphs" stroke="#222" stroke-width="0.3">&#8722;1</text>
<line x1="882.4" x2="882.4" y1="778.6" y2="782.4" stroke="#5b5550" stroke-width="1.3"/>
<text x="881.4" y="802.5" font-size="18.3" text-anchor="middle" fill="#222" font-weight="normal" textLength="30.4" lengthAdjust="spacingAndGlyphs" stroke="#222" stroke-width="0.3">-680</text>
<line x1="993.0" x2="993.0" y1="778.6" y2="782.4" stroke="#5b5550" stroke-width="1.3"/>
<text x="991.3" y="802.5" font-size="18.3" text-anchor="middle" fill="#222" font-weight="normal" textLength="7.6" lengthAdjust="spacingAndGlyphs" stroke="#222" stroke-width="0.3">0</text>
<line x1="1093.8" x2="1093.8" y1="778.6" y2="782.4" stroke="#5b5550" stroke-width="1.3"/>
<text x="1096.0" y="802.5" font-size="18.3" text-anchor="middle" fill="#222" font-weight="normal" textLength="24.6" lengthAdjust="spacingAndGlyphs" stroke="#222" stroke-width="0.3">700</text>
<line x1="1220.8" x2="1220.8" y1="778.6" y2="782.4" stroke="#5b5550" stroke-width="1.3"/>
<text x="1220.7" y="802.5" font-size="18.3" text-anchor="middle" fill="#222" font-weight="normal" textLength="33.0" lengthAdjust="spacingAndGlyphs" stroke="#222" stroke-width="0.3">1400</text>
<text x="1051.2" y="830.8" font-size="18.3" text-anchor="middle" fill="#222" font-weight="normal" textLength="53.6" lengthAdjust="spacingAndGlyphs" stroke="#222" stroke-width="0.25">Time [s]</text>
<text x="0" y="0" font-size="15.5" text-anchor="middle" fill="#222" stroke="#222" stroke-width="0.25" textLength="97.5" lengthAdjust="spacingAndGlyphs" transform="translate(850.9,623.3) rotate(-90)">&#916; BOLD [%]</text>
<rect x="549.00" y="898.7" width="6.3" height="210.4" fill="#e2e2e4"/>
<rect x="558.71" y="898.7" width="6.3" height="210.4" fill="#e2e2e4"/>
<rect x="568.42" y="898.7" width="6.3" height="210.4" fill="#e2e2e4"/>
<rect x="578.13" y="898.7" width="6.3" height="210.4" fill="#e2e2e4"/>
<rect x="587.84" y="898.7" width="6.3" height="210.4" fill="#e2e2e4"/>
<rect x="597.55" y="898.7" width="6.3" height="210.4" fill="#e2e2e4"/>
<rect x="607.26" y="898.7" width="6.3" height="210.4" fill="#e2e2e4"/>
<rect x="616.97" y="898.7" width="6.3" height="210.4" fill="#e2e2e4"/>
<rect x="626.68" y="898.7" width="6.3" height="210.4" fill="#e2e2e4"/>
<rect x="636.39" y="898.7" width="6.3" height="210.4" fill="#e2e2e4"/>
<line x1="436.7" x2="793.0" y1="922.1" y2="922.1" stroke="#c9c9c9" stroke-width="1.2"/>
<line x1="436.7" x2="793.0" y1="968.8" y2="968.8" stroke="#c9c9c9" stroke-width="1.2"/>
<line x1="436.7" x2="793.0" y1="1015.6" y2="1015.6" stroke="#c9c9c9" stroke-width="1.2"/>
<line x1="436.7" x2="793.0" y1="1062.3" y2="1062.3" stroke="#c9c9c9" stroke-width="1.2"/>
<line x1="436.7" x2="793.0" y1="1155.8" y2="1155.8" stroke="#c9c9c9" stroke-width="1.2"/>
<clipPath id="pc20"><rect x="436.7" y="898.7" width="356.3" height="280.8"/></clipPath><g clip-path="url(#pc20)">
<path transform="scale(0.1)" d="M4382 10982l5 -265 5 303 5 -64 5 -326 5 227 5 31 5 196 5 -237 5 -259 5 204 5 236 5 -169 5 -222 5 264 5 -70 5 163 5 168 5 -263 5 212 5 34 5 -433 5 318 5 -333 5 184 5 -21 5 186 5 -261 5 101 5 -38 5 287 5 -100 5 -9 5 -177 5 209 5 -405 5 423 5 70 5 -123 5 96 5 -363 5 -11 5 478 5 -193 5 117 5 -204 5 -148 5 390 5 -404 5 58 5 -365 5 628 5 -410 5 302 5 -259 5 -58 5 -225 5 301 5 -101 5 22 5 86 5 -260 5 238 5 189 5 -352 5 26 5 86 5 251 5 -313 5 104 5 193 5 -371 5 205 5 250 5 -201 5 29 5 159 5 -329 5 -191 5 206 5 202 5 78 5 -96 5 178 5 24 5 -219 5 149 5 -140 5 112 5 -47 5 41 5 -311 5 262 5 57 5 53 5 -245 5 -18 5 160 5 -212 5 186 5 4 5 -298 5 91 5 247 5 -31 5 -255 5 198 5 205 5 -252 5 157 5 -97 5 -81 5 209 5 76 5 -102 5 124 5 -71 5 -150 5 119 5 -117 5 -265 5 480 5 -171 5 194 5 -73 5 -140 5 121 5 -30 5 153 5 -277 5 113 5 -408 5 427 5 -304 5 212 5 -361 5 219 5 245 5 -287 5 153 5 76 5 -87 5 -47 5 -110 5 352 5 218 5 -722 5 201 5 490 5 -715 5 394 5 221 5 -40 5 -36 5 -561 5 604 5 -174 5 37 5 -44 5 234 5 -525 5 200 5 24 5 169 5 93 5 -201 5 193 5 -131 5 238 5 -525 5 123 5 257 5 -274 5 3 5 309 5 66 5 -95 5 -383 5 -27 5 240 5 -25 5 -304 5 -178 5 379 5 247 5 -340 5 457 5 -79 5 -135 5 107 5 -135 5 -109 5 323 5 -486 5 118 5 -345 5 367 5 307 5 -175 5 -297 5 378 5 201 5 -222 5 20 5 -496 5 571 5 -300 5 -138 5 442 5 -81 5 -268 5 -45 5 -138 5 302 5 -285 5 457 5 -73 5 181 5 -287 5 186 5 -461 5 33 5 -581 5 -437 5 263 5 -592 5 648 5 -427 5 -302 5 504 5 29 5 -334 5 190 5 35 5 58 5 163 5 -185 5 53 5 -7 5 -47 5 -268 5 -80 5 321 5 -62 5 55 5 49 5 -14 5 -335 5 181 5 59 5 200 5 -224 5 -134 5 301 5 -13 5 -165 5 -212 5 317 5 -7 5 -301 5 376 5 126 5 -403 5 262 5 17 5 -266 5 111 5 260 5 46 5 -207 5 296 5 -454 5 534 5 -457 5 -94 5 304 5 118 5 -69 5 -295 5 283 5 -178 5 -400 5 508 5 38 5 -111 5 46 5 -126 5 61 5 241 5 -182 5 115 5 -81 5 37 5 138 5 -598 5 266 5 -122 5 360 5 -16 5 -174 5 181 5 -237 5 -4 5 287 5 41 5 -249 5 -58 5 -7 5 15 5 -126 5 295 5 169 5 0 5 -48 5 3 5 -186 5 209 5 -381 5 636 5 -376 5 -249 5 -217 5 317 5 -10 5 -443 5 286 5 126 5 -182 5 263 5 -194 5 211 5 -70 5 -22 5 -87 5 -123 5 351 5 2 5 -186 5 -70 5 -46 5 -109 5 242 5 184 5 145 5 -480 5 355 5 254 5 -360 5 220 5 169 5 -328 5 23 5 185 5 36 5 -321 5 -108 5 148 5 -100 5 58 5 -185 5 119 5 219 5 191 5 -38 5 -319 5 -24 5 308 5 305 5 -53 5 -284 5 -179 5 4 5 147 5 37 5 55 5 -16 5 -108 5 9 5 -20 5 78 5 -169 5 88 5 121 5 -50 5 206 5 -45 5 -300 5 212 5 -281 5 117 5 -74 5 -57 5 520 5 -343 5 -293 5 445 5 -85 5 175 5 -167 5 109 5 -293 5 47 5 173 5 -318 5 17 5 -38 5 235 5 67 5 75 5 30 5 -118 5 -59 5 186 5 -55 5 235 5 -695 5 523 5 207 5 76 5 -194 5 -115 5 204 5 98 5 -317 5 305 5 -241 5 409 5 -519 5 219 5 29 5 179 5 -14 5 -369 5 600 5 -301 5 -260 5 377 5 -142 5 -128 5 159 5 -224 5 -73 5 5 5 406 5 -97 5 267 5 -433 5 136 5 87 5 -414 5 362 5 -72 5 189 5 101 5 -155 5 191 5 -1 5 -137 5 -258 5 489 5 -16 5 -232 5 147 5 -383 5 398 5 7 5 -225 5 -76 5 221 5 28 5 120 5 341 5 -96 5 -492 5 27 5 149 5 -83 5 139 5 -97 5 189 5 -117 5 -9 5 -18 5 -101 5 98 5 -94 5 50 5 -245 5 105 5 411 5 -110 5 -115 5 -225 5 -289 5 420 5 -120 5 383 5 -317 5 132 5 -244 5 253 5 -166 5 116 5 272 5 -199 5 -355 5 407 5 -107 5 186 5 -66 5 -52 5 128 5 -113 5 -47 5 -36 5 135 5 -53 5 154 5 -570 5 417 5 65 5 119 5 -84 5 208 5 -335 5 20 5 244 5 -134 5 -103 5 -301 5 234 5 -20 5 0 5 -56 5 43 5 429 5 -62 5 -322 5 144 5 -95 5 323 5 55 5 -423 5 -215 5 286 5 177 5 223 5 -664 5 262 5 -92 5 5 5 192 5 128 5 -342 5 -356 5 627 5 -146 5 -52 5 206 5 136 5 -101 5 -166 5 94 5 126 5 55 5 -401 5 38 5 49 5 -103 5 187 5 19 5 -216 5 123 5 -67 5 -138 5 64 5 397 5 -646 5 186 5 409 5 32 5 -318 5 228 5 -162 5 -111 5 310 5 -162 5 -24 5 -344 5 278 5 242 5 -448 5 267 5 123 5 42 5 -634 5 642 5 -399 5 26 5 197 5 -535 5 536 5 -77 5 -17 5 90 5 76 5 -45 5 -124 5 172 5 -184 5 -135 5 388 5 -265 5 82 5 -21 5 -530 5 449 5 87 5 -4 5 186 5 -271 5 223 5 -226 5 51 5 -83 5 -271 5 291 5 -186 5 237 5 -59 5 -99 5 247 5 -703 5 474 5 254 5 -387 5 -77 5 335 5 -47 5 -456 5 389 5 304 5 -226 5 -271 5 224 5 -58 5 -473 5 272 5 312 5 167 5 -284 5 286 5 -481 5 -213 5 93 5 139 5 88 5 -74 5 29 5 295 5 -246 5 -233 5 24 5 299 5 -148 5 288 5 -283 5 -451 5 413 5 50 5 84 5 -411 5 314 5 79 5 -39 5 -288 5 97 5 275 5 -150 5 -210 5 407 5 -63 5 -59 5 5 5 48 5 48 5 -307 5 288 5 -166 5 285 5 -508 0 475 -5 156 -5 -32 -5 -48 -5 -71 -5 749 -5 -727 -5 213 -5 69 -5 -174 -5 496 -5 -611 -5 145 -5 94 -5 -195 -5 -108 -5 121 -5 208 -5 -257 -5 28 -5 -29 -5 265 -5 84 -5 -490 -5 487 -5 26 -5 -184 -5 135 -5 -26 -5 -449 -5 244 -5 135 -5 -335 -5 492 -5 228 -5 -248 -5 -272 -5 -85 -5 299 -5 5 -5 336 -5 -325 -5 26 -5 -240 -5 -34 -5 144 -5 141 -5 -496 -5 433 -5 466 -5 -599 -5 -468 -5 674 -5 68 -5 -467 -5 80 -5 476 -5 -256 -5 -191 -5 293 -5 -26 -5 -186 -5 243 -5 -200 -5 156 -5 -246 -5 84 -5 383 -5 -38 -5 113 -5 -477 -5 680 -5 -427 -5 368 -5 -125 -5 -438 -5 301 -5 -217 -5 51 -5 234 -5 -195 -5 -173 -5 647 -5 -115 -5 -139 -5 231 -5 -390 -5 -23 -5 -177 -5 284 -5 -488 -5 451 -5 -157 -5 90 -5 342 -5 -431 -5 177 -5 -21 -5 220 -5 -33 -5 -12 -5 -229 -5 163 -5 -240 -5 70 -5 105 -5 -259 -5 258 -5 301 -5 -485 -5 496 -5 293 -5 -629 -5 -44 -5 126 -5 -189 -5 326 -5 -385 -5 338 -5 -93 -5 -66 -5 133 -5 -271 -5 279 -5 -90 -5 -337 -5 726 -5 -337 -5 215 -5 -522 -5 142 -5 652 -5 -265 -5 -474 -5 86 -5 -32 -5 -171 -5 47 -5 263 -5 112 -5 -288 -5 147 -5 -275 -5 145 -5 255 -5 -178 -5 97 -5 -14 -5 -146 -5 470 -5 -174 -5 -261 -5 -10 -5 -33 -5 103 -5 196 -5 -488 -5 441 -5 -456 -5 138 -5 -4 -5 111 -5 308 -5 -214 -5 308 -5 -535 -5 -44 -5 571 -5 -341 -5 369 -5 -317 -5 -111 -5 -84 -5 437 -5 -221 -5 -116 -5 -95 -5 6 -5 267 -5 -232 -5 -7 -5 183 -5 -133 -5 -112 -5 333 -5 175 -5 -369 -5 169 -5 -459 -5 588 -5 -53 -5 1 -5 -453 -5 -20 -5 106 -5 -148 -5 142 -5 -237 -5 55 -5 71 -5 500 -5 25 -5 -226 -5 -122 -5 -51 -5 414 -5 -218 -5 164 -5 -27 -5 -57 -5 -231 -5 114 -5 -144 -5 45 -5 -99 -5 146 -5 -44 -5 76 -5 4 -5 113 -5 -270 -5 133 -5 -207 -5 9 -5 154 -5 277 -5 -503 -5 -131 -5 452 -5 -120 -5 -47 -5 252 -5 -420 -5 196 -5 489 -5 -478 -5 -85 -5 99 -5 119 -5 -283 -5 71 -5 -9 -5 -61 -5 -214 -5 369 -5 22 -5 -493 -5 702 -5 -832 -5 466 -5 -141 -5 -37 -5 277 -5 -345 -5 160 -5 -126 -5 81 -5 404 -5 -482 -5 49 -5 265 -5 -402 -5 119 -5 -141 -5 423 -5 -302 -5 290 -5 -60 -5 157 -5 -497 -5 109 -5 185 -5 -130 -5 119 -5 -248 -5 78 -5 292 -5 131 -5 -249 -5 48 -5 -210 -5 44 -5 66 -5 -166 -5 -68 -5 -163 -5 183 -5 -248 -5 343 -5 -59 -5 -82 -5 283 -5 -173 -5 314 -5 -407 -5 80 -5 -259 -5 263 -5 190 -5 -258 -5 178 -5 -275 -5 99 -5 308 -5 -328 -5 70 -5 -45 -5 27 -5 85 -5 8 -5 -211 -5 176 -5 -167 -5 418 -5 -555 -5 613 -5 -534 -5 -21 -5 -80 -5 198 -5 152 -5 -253 -5 484 -5 27 -5 -466 -5 278 -5 -472 -5 364 -5 -179 -5 -105 -5 -93 -5 -43 -5 209 -5 263 -5 -290 -5 302 -5 -49 -5 -169 -5 27 -5 -183 -5 212 -5 697 -5 -528 -5 -280 -5 240 -5 27 -5 -395 -5 510 -5 -571 -5 -214 -5 274 -5 -99 -5 75 -5 -114 -5 193 -5 6 -5 -111 -5 98 -5 -80 -5 349 -5 -215 -5 187 -5 -290 -5 168 -5 -64 -5 162 -5 -140 -5 -280 -5 53 -5 -101 -5 304 -5 137 -5 118 -5 -270 -5 54 -5 160 -5 -208 -5 233 -5 -61 -5 143 -5 -233 -5 -504 -5 310 -5 70 -5 -152 -5 145 -5 127 -5 138 -5 -244 -5 -27 -5 162 -5 -185 -5 115 -5 -215 -5 205 -5 -137 -5 260 -5 -1 -5 -149 -5 -38 -5 312 -5 -48 -5 -284 -5 304 -5 -451 -5 415 -5 118 -5 -294 -5 24 -5 32 -5 -35 -5 -138 -5 28 -5 74 -5 171 -5 -170 -5 178 -5 -271 -5 299 -5 55 -5 -43 -5 -402 -5 348 -5 45 -5 -9 -5 -77 -5 -48 -5 -83 -5 7 -5 157 -5 -55 -5 -105 -5 -26 -5 -18 -5 6 -5 -321 -5 317 -5 -137 -5 0 -5 -4 -5 30 -5 121 -5 -244 -5 -31 -5 736 -5 -516 -5 -162 -5 -42 -5 393 -5 -285 -5 73 -5 152 -5 108 -5 -375 -5 5 -5 413 -5 -187 -5 -117 -5 -137 -5 -151 -5 228 -5 289 -5 -625 -5 261 -5 266 -5 -341 -5 190 -5 -59 -5 507 -5 679 -5 -360 -5 494 -5 -138 -5 79 -5 -185 -5 122 -5 -32 -5 -197 -5 -73 -5 -47 -5 -152 -5 331 -5 273 -5 -140 -5 -223 -5 396 -5 -362 -5 234 -5 -42 -5 106 -5 185 -5 -548 -5 225 -5 212 -5 -178 -5 -162 -5 278 -5 -304 -5 663 -5 -662 -5 85 -5 88 -5 -39 -5 207 -5 73 -5 -548 -5 594 -5 -272 -5 -354 -5 23 -5 257 -5 232 -5 -38 -5 -163 -5 103 -5 273 -5 -63 -5 -175 -5 -110 -5 147 -5 -321 -5 -115 -5 442 -5 11 -5 -82 -5 381 -5 -225 -5 169 -5 -502 -5 -90 -5 246 -5 65 -5 -166 -5 14 -5 75 -5 304 -5 -701 -5 363 -5 104 -5 122 -5 -126 -5 -346 -5 346 -5 -187 -5 -198 -5 465 -5 -219 -5 -286 -5 308 -5 -47 -5 25 -5 8 -5 -32 -5 78 -5 93 -5 -432 -5 272 -5 209 -5 -245 -5 -9 -5 172 -5 31 -5 -102 -5 -111 -5 133 -5 436 -5 -361 -5 -75 -5 -172 -5 192 -5 -277 -5 96 -5 86 -5 202 -5 -69 -5 16 -5 21 -5 -150 -5 34 -5 -263 -5 458 -5 -315 -5 113 -5 53 -5 66 -5 -457 -5 515 -5 -229 -5 177 -5 -203 -5 178 -5 8 -5 59 -5 -460 -5 484 -5 -236 -5 26 -5 259 -5 -326 -5 -222 -5 81 -5 167 -5 37 -5 -22 -5 99 -5 108 -5 -152 -5 121 -5 -457 -5 169 -5 18 -5 -84 -5 181 -5 6 -5 -95 -5 16 -5 171 -5 -241 -5 78 -5 -66 -5 15 -5 85 -5 -258 -5 317 -5 114 -5 -264 -5 -260 -5 152 -5 235 -5 -284 -5 44 -5 65 -5 -257 -5 224 -5 179 -5 280 -5 -308 -5 230 -5 -276 -5 74 -5 -220 -5 341 -5 82 -5 -16 -5 -131 -5 -126 -5 89 -5 5 -5 318 -5 -273 -5 -202 -5 160 -5 -77 -5 419 -5 -160 -5 -66 -5 180 -5 156 -5 -527 -5 246 -5 144 -5 -310 -5 124 -5 -141 -5 223 -5 -163 -5 -6 -5 78 -5 -99 -5 -52 -5 229 -5 100 -5 -325 -5 138 -5 -171 -5 719 -5 -683 -5 -340 -5 545 -5 -230 -5 -88 -5 74 -5 -168 -5 573 -5 -94 -5 -138 -5 -230 -5 -59 -5 326 -5 98 -5 -230z" fill="#a19c9a" stroke="#a19c9a" stroke-width="4" stroke-opacity="0.5"/>
<path transform="scale(0.1)" d="M4382 11191l5 64 5 -135 5 -94 5 -88 5 119 5 66 5 49 5 -219 5 -131 5 167 5 182 5 -66 5 -319 5 224 5 260 5 -177 5 149 5 -68 5 10 5 66 5 -196 5 55 5 57 5 -95 5 -49 5 322 5 -185 5 65 5 -89 5 186 5 -150 5 -43 5 35 5 80 5 -84 5 126 5 36 5 -251 5 143 5 -260 5 60 5 364 5 -304 5 137 5 -180 5 13 5 267 5 -252 5 -9 5 -164 5 271 5 -236 5 280 5 -110 5 58 5 -283 5 99 5 -245 5 196 5 -40 5 -26 5 201 5 -74 5 -219 5 238 5 -101 5 83 5 -82 5 112 5 -46 5 -59 5 15 5 126 5 -200 5 246 5 -30 5 15 5 -281 5 164 5 87 5 26 5 -172 5 207 5 70 5 -227 5 248 5 -92 5 -31 5 43 5 -87 5 -214 5 231 5 101 5 42 5 -197 5 61 5 -90 5 96 5 28 5 22 5 -39 5 -50 5 61 5 -62 5 -204 5 192 5 289 5 -419 5 152 5 184 5 -245 5 89 5 73 5 26 5 27 5 -126 5 -74 5 173 5 -79 5 -180 5 407 5 -232 5 105 5 104 5 -6 5 -158 5 -64 5 139 5 -48 5 -45 5 36 5 -96 5 24 5 20 5 -171 5 136 5 35 5 -96 5 193 5 -63 5 -129 5 25 5 -126 5 228 5 192 5 -439 5 146 5 285 5 -316 5 113 5 227 5 -173 5 4 5 -269 5 290 5 -63 5 -10 5 35 5 71 5 -158 5 -97 5 93 5 223 5 35 5 -133 5 126 5 -40 5 114 5 -453 5 145 5 236 5 -225 5 -34 5 464 5 -185 5 -17 5 -195 5 63 5 1 5 -48 5 -280 5 -21 5 335 5 34 5 -417 5 492 5 -36 5 -63 5 -68 5 -98 5 65 5 155 5 -185 5 -10 5 -241 5 208 5 193 5 -57 5 -295 5 297 5 189 5 -171 5 -94 5 -140 5 274 5 -194 5 -31 5 154 5 -75 5 -266 5 46 5 118 5 38 5 -83 5 175 5 11 5 117 5 -93 5 0 5 -342 5 201 5 -640 5 -437 5 6 5 -207 5 338 5 -367 5 -168 5 431 5 -149 5 -258 5 227 5 111 5 -23 5 69 5 -143 5 57 5 82 5 10 5 -130 5 -176 5 96 5 -24 5 63 5 162 5 -65 5 -174 5 43 5 107 5 56 5 -241 5 111 5 12 5 31 5 -73 5 45 5 -53 5 43 5 -56 5 68 5 144 5 -49 5 -11 5 102 5 -100 5 -60 5 277 5 125 5 -366 5 166 5 -141 5 251 5 -384 5 134 5 85 5 39 5 -58 5 31 5 17 5 109 5 -346 5 156 5 -19 5 -9 5 308 5 -372 5 135 5 39 5 -45 5 114 5 -232 5 192 5 31 5 -10 5 -145 5 -135 5 187 5 138 5 -337 5 273 5 -298 5 199 5 90 5 4 5 -128 5 -67 5 142 5 -157 5 -171 5 271 5 120 5 -2 5 62 5 -75 5 8 5 80 5 -235 5 398 5 -170 5 -451 5 86 5 12 5 31 5 -185 5 167 5 50 5 153 5 -142 5 96 5 37 5 -25 5 -73 5 38 5 -161 5 304 5 -111 5 -250 5 218 5 -123 5 -7 5 -9 5 94 5 285 5 -157 5 -7 5 168 5 -138 5 132 5 42 5 -215 5 34 5 66 5 29 5 -54 5 -40 5 22 5 -45 5 20 5 -90 5 35 5 61 5 132 5 13 5 -160 5 90 5 -18 5 326 5 13 5 -381 5 -3 5 -114 5 81 5 84 5 8 5 173 5 -294 5 193 5 -124 5 -5 5 18 5 -61 5 223 5 -22 5 80 5 -73 5 -269 5 306 5 -200 5 49 5 17 5 18 5 191 5 -198 5 -146 5 285 5 -63 5 72 5 -146 5 156 5 -334 5 261 5 137 5 -429 5 42 5 74 5 43 5 156 5 21 5 -70 5 5 5 29 5 144 5 72 5 -29 5 -163 5 -27 5 246 5 31 5 -237 5 73 5 7 5 254 5 -125 5 28 5 -119 5 238 5 -387 5 133 5 5 5 236 5 -125 5 -152 5 406 5 -219 5 -24 5 208 5 -182 5 125 5 -181 5 59 5 53 5 -219 5 168 5 -77 5 340 5 -15 5 -214 5 11 5 111 5 -115 5 241 5 -137 5 176 5 -177 5 134 5 36 5 -71 5 -235 5 371 5 -52 5 -189 5 161 5 -298 5 211 5 16 5 10 5 -159 5 152 5 28 5 60 5 290 5 -117 5 -308 5 82 5 40 5 -22 5 122 5 -126 5 136 5 -142 5 179 5 -48 5 -73 5 97 5 -117 5 -4 5 11 5 -122 5 330 5 -17 5 -325 5 -55 5 -135 5 193 5 -30 5 209 5 -217 5 27 5 225 5 -29 5 -129 5 -58 5 457 5 -363 5 -14 5 39 5 14 5 5 5 187 5 -197 5 67 5 57 5 -145 5 -152 5 314 5 -2 5 26 5 -438 5 298 5 7 5 72 5 -14 5 157 5 -276 5 -4 5 278 5 -150 5 -61 5 -66 5 26 5 -82 5 -2 5 41 5 -30 5 351 5 -65 5 -215 5 81 5 15 5 264 5 -14 5 -344 5 48 5 99 5 37 5 175 5 -280 5 -116 5 -81 5 195 5 31 5 101 5 -308 5 -69 5 287 5 -99 5 26 5 128 5 237 5 -276 5 -133 5 279 5 -51 5 318 5 -605 5 58 5 58 5 28 5 44 5 -81 5 36 5 -29 5 -31 5 -29 5 -175 5 388 5 -210 5 108 5 45 5 160 5 -371 5 217 5 -33 5 -165 5 189 5 -133 5 9 5 -109 5 -8 5 274 5 -241 5 139 5 -2 5 62 5 -114 5 255 5 -216 5 -158 5 171 5 -336 5 345 5 -149 5 59 5 42 5 88 5 -63 5 -62 5 113 5 -212 5 -65 5 409 5 -316 5 55 5 -7 5 -297 5 181 5 75 5 -7 5 276 5 -375 5 189 5 -111 5 54 5 -136 5 -149 5 107 5 -30 5 160 5 -91 5 -67 5 262 5 -462 5 370 5 62 5 -374 5 -72 5 357 5 -16 5 -515 5 403 5 262 5 -161 5 -358 5 217 5 -33 5 -79 5 114 5 127 5 126 5 -249 5 210 5 -177 5 -235 5 148 5 26 5 -12 5 -95 5 -59 5 274 5 -227 5 -174 5 131 5 196 5 0 5 191 5 -154 5 -347 5 228 5 74 5 -58 5 -81 5 23 5 35 5 44 5 -131 5 -108 5 282 5 3 5 -194 5 328 5 -115 5 -33 5 -115 5 52 5 70 5 -177 5 153 5 27 5 50 5 -293" fill="none" stroke="#982816" stroke-width="12" stroke-linejoin="bevel"/>
<line x1="730.0" x2="730.0" y1="1015.6" y2="1131.5" stroke="#999" stroke-width="0.8"/>
</g>
<line x1="436.7" x2="793.0" y1="1109.1" y2="1109.1" stroke="#5a5a5a" stroke-width="1.4"/>
<line x1="436.7" x2="436.7" y1="898.7" y2="1179.5" stroke="#5b5550" stroke-width="1.4"/>
<line x1="436.0" x2="793.0" y1="1179.5" y2="1179.5" stroke="#5b5550" stroke-width="1.5"/>
<line x1="432.9" x2="436.7" y1="922.1" y2="922.1" stroke="#5b5550" stroke-width="1.3"/>
<text x="427.3" y="928.7" font-size="18.3" text-anchor="end" fill="#222" font-weight="normal" textLength="8.0" lengthAdjust="spacingAndGlyphs" stroke="#222" stroke-width="0.3">4</text>
<line x1="432.9" x2="436.7" y1="968.8" y2="968.8" stroke="#5b5550" stroke-width="1.3"/>
<text x="427.3" y="975.4" font-size="18.3" text-anchor="end" fill="#222" font-weight="normal" textLength="8.0" lengthAdjust="spacingAndGlyphs" stroke="#222" stroke-width="0.3">3</text>
<line x1="432.9" x2="436.7" y1="1015.6" y2="1015.6" stroke="#5b5550" stroke-width="1.3"/>
<text x="427.3" y="1022.2" font-size="18.3" text-anchor="end" fill="#222" font-weight="normal" textLength="8.0" lengthAdjust="spacingAndGlyphs" stroke="#222" stroke-width="0.3">2</text>
<line x1="432.9" x2="436.7" y1="1062.3" y2="1062.3" stroke="#5b5550" stroke-width="1.3"/>
<text x="427.3" y="1068.9" font-size="18.3" text-anchor="end" fill="#222" font-weight="normal" textLength="8.0" lengthAdjust="spacingAndGlyphs" stroke="#222" stroke-width="0.3">1</text>
<line x1="432.9" x2="436.7" y1="1109.1" y2="1109.1" stroke="#5b5550" stroke-width="1.3"/>
<text x="427.3" y="1115.7" font-size="18.3" text-anchor="end" fill="#222" font-weight="normal" textLength="8.0" lengthAdjust="spacingAndGlyphs" stroke="#222" stroke-width="0.3">0</text>
<line x1="432.9" x2="436.7" y1="1155.8" y2="1155.8" stroke="#5b5550" stroke-width="1.3"/>
<text x="429.3" y="1162.4" font-size="18.3" text-anchor="end" fill="#222" font-weight="normal" textLength="14.5" lengthAdjust="spacingAndGlyphs" stroke="#222" stroke-width="0.3">&#8722;1</text>
<line x1="437.9" x2="437.9" y1="1179.5" y2="1183.3" stroke="#5b5550" stroke-width="1.3"/>
<text x="436.8" y="1202.9" font-size="18.3" text-anchor="middle" fill="#222" font-weight="normal" textLength="30.4" lengthAdjust="spacingAndGlyphs" stroke="#222" stroke-width="0.3">-680</text>
<line x1="548.5" x2="548.5" y1="1179.5" y2="1183.3" stroke="#5b5550" stroke-width="1.3"/>
<text x="546.3" y="1202.9" font-size="18.3" text-anchor="middle" fill="#222" font-weight="normal" textLength="7.6" lengthAdjust="spacingAndGlyphs" stroke="#222" stroke-width="0.3">0</text>
<line x1="649.3" x2="649.3" y1="1179.5" y2="1183.3" stroke="#5b5550" stroke-width="1.3"/>
<text x="651.2" y="1202.9" font-size="18.3" text-anchor="middle" fill="#222" font-weight="normal" textLength="24.6" lengthAdjust="spacingAndGlyphs" stroke="#222" stroke-width="0.3">700</text>
<line x1="776.3" x2="776.3" y1="1179.5" y2="1183.3" stroke="#5b5550" stroke-width="1.3"/>
<text x="776.2" y="1202.9" font-size="18.3" text-anchor="middle" fill="#222" font-weight="normal" textLength="33.0" lengthAdjust="spacingAndGlyphs" stroke="#222" stroke-width="0.3">1400</text>
<text x="613.8" y="1232.1" font-size="18.3" text-anchor="middle" fill="#222" font-weight="normal" textLength="53.6" lengthAdjust="spacingAndGlyphs" stroke="#222" stroke-width="0.25">Time [s]</text>
<text x="0" y="0" font-size="15.5" text-anchor="middle" fill="#222" stroke="#222" stroke-width="0.25" textLength="97.5" lengthAdjust="spacingAndGlyphs" transform="translate(405.9,1024.2) rotate(-90)">&#916; BOLD [%]</text>
<rect x="993.50" y="898.7" width="6.3" height="210.4" fill="#e2e2e4"/>
<rect x="1003.21" y="898.7" width="6.3" height="210.4" fill="#e2e2e4"/>
<rect x="1012.92" y="898.7" width="6.3" height="210.4" fill="#e2e2e4"/>
<rect x="1022.63" y="898.7" width="6.3" height="210.4" fill="#e2e2e4"/>
<rect x="1032.34" y="898.7" width="6.3" height="210.4" fill="#e2e2e4"/>
<rect x="1042.05" y="898.7" width="6.3" height="210.4" fill="#e2e2e4"/>
<rect x="1051.76" y="898.7" width="6.3" height="210.4" fill="#e2e2e4"/>
<rect x="1061.47" y="898.7" width="6.3" height="210.4" fill="#e2e2e4"/>
<rect x="1071.18" y="898.7" width="6.3" height="210.4" fill="#e2e2e4"/>
<rect x="1080.89" y="898.7" width="6.3" height="210.4" fill="#e2e2e4"/>
<line x1="881.2" x2="1237.5" y1="922.1" y2="922.1" stroke="#c9c9c9" stroke-width="1.2"/>
<line x1="881.2" x2="1237.5" y1="968.8" y2="968.8" stroke="#c9c9c9" stroke-width="1.2"/>
<line x1="881.2" x2="1237.5" y1="1015.6" y2="1015.6" stroke="#c9c9c9" stroke-width="1.2"/>
<line x1="881.2" x2="1237.5" y1="1062.3" y2="1062.3" stroke="#c9c9c9" stroke-width="1.2"/>
<line x1="881.2" x2="1237.5" y1="1155.8" y2="1155.8" stroke="#c9c9c9" stroke-width="1.2"/>
<clipPath id="pc21"><rect x="881.2" y="898.7" width="356.3" height="280.8"/></clipPath><g clip-path="url(#pc21)">
<path transform="scale(0.1)" d="M8815 11068l5 -235 5 496 5 -275 5 -164 5 -176 5 67 5 162 5 134 5 -54 5 114 5 -140 5 -28 5 46 5 129 5 -208 5 -128 5 -34 5 308 5 -199 5 110 5 183 5 -169 5 53 5 84 5 114 5 -277 5 244 5 -327 5 -12 5 146 5 -60 5 -211 5 102 5 -21 5 202 5 -9 5 8 5 -191 5 78 5 104 5 -269 5 23 5 204 5 -200 5 -73 5 246 5 -122 5 45 5 2 5 -260 5 36 5 226 5 -223 5 314 5 121 5 -210 5 -256 5 352 5 -115 5 -153 5 145 5 -179 5 -223 5 469 5 -189 5 253 5 -334 5 121 5 -171 5 174 5 -125 5 95 5 16 5 87 5 -236 5 217 5 -85 5 -51 5 -283 5 392 5 9 5 -138 5 193 5 -166 5 92 5 40 5 -40 5 131 5 -71 5 -41 5 -125 5 161 5 -403 5 357 5 276 5 -28 5 -186 5 15 5 -15 5 81 5 -340 5 378 5 -523 5 586 5 53 5 -67 5 25 5 -133 5 -184 5 199 5 177 5 -303 5 -9 5 -42 5 211 5 -72 5 -57 5 146 5 28 5 -105 5 111 5 -97 5 -47 5 -12 5 362 5 -50 5 -105 5 -86 5 -37 5 170 5 14 5 -230 5 196 5 0 5 -68 5 -202 5 229 5 -279 5 309 5 -281 5 281 5 -16 5 -249 5 163 5 126 5 -102 5 -31 5 46 5 -441 5 419 5 -36 5 -263 5 146 5 21 5 -217 5 148 5 190 5 15 5 -29 5 -32 5 107 5 -121 5 122 5 -157 5 156 5 -217 5 193 5 -144 5 -19 5 -430 5 439 5 162 5 -153 5 105 5 -37 5 23 5 71 5 7 5 -21 5 -193 5 173 5 -271 5 117 5 -15 5 -91 5 344 5 -260 5 -190 5 261 5 112 5 -126 5 -77 5 -19 5 277 5 -333 5 136 5 248 5 -131 5 -134 5 408 5 -292 5 -61 5 -59 5 269 5 -9 5 -18 5 -177 5 10 5 -182 5 -42 5 209 5 11 5 59 5 -117 5 238 5 -173 5 -24 5 -315 5 303 5 -22 5 6 5 -48 5 227 5 -591 5 -539 5 -328 5 -117 5 -332 5 13 5 -192 5 151 5 78 5 7 5 -43 5 130 5 63 5 -214 5 61 5 106 5 -112 5 84 5 -431 5 222 5 145 5 22 5 -302 5 238 5 47 5 -214 5 460 5 -21 5 -114 5 13 5 -282 5 34 5 251 5 -177 5 217 5 -133 5 -24 5 105 5 -90 5 -27 5 317 5 -240 5 -98 5 -113 5 327 5 -134 5 -24 5 107 5 64 5 -12 5 -255 5 117 5 -59 5 343 5 -91 5 -123 5 -49 5 -162 5 251 5 -81 5 17 5 -156 5 187 5 -212 5 202 5 50 5 -26 5 -46 5 -78 5 134 5 -80 5 -170 5 49 5 -266 5 107 5 400 5 -237 5 -174 5 19 5 57 5 -70 5 196 5 3 5 17 5 -176 5 267 5 -18 5 16 5 -228 5 243 5 -221 5 73 5 -23 5 -140 5 -7 5 320 5 -311 5 426 5 -286 5 235 5 -156 5 290 5 -1 5 -60 5 -269 5 -32 5 153 5 -267 5 123 5 -6 5 347 5 -141 5 -340 5 168 5 189 5 63 5 -243 5 162 5 -136 5 -55 5 15 5 57 5 179 5 28 5 -21 5 -78 5 -102 5 -11 5 103 5 122 5 -25 5 -136 5 151 5 -191 5 -150 5 112 5 203 5 -25 5 46 5 -102 5 123 5 -335 5 108 5 124 5 15 5 56 5 62 5 279 5 -456 5 93 5 283 5 7 5 -233 5 133 5 -221 5 19 5 265 5 -270 5 216 5 199 5 54 5 -453 5 -252 5 125 5 381 5 -11 5 -402 5 441 5 -11 5 -390 5 261 5 141 5 -158 5 -62 5 82 5 -473 5 583 5 95 5 -316 5 44 5 -12 5 224 5 -45 5 200 5 -439 5 215 5 114 5 168 5 -99 5 68 5 48 5 -300 5 176 5 -140 5 -33 5 60 5 161 5 -157 5 36 5 211 5 -141 5 16 5 87 5 94 5 -55 5 -92 5 192 5 57 5 7 5 -163 5 53 5 69 5 25 5 -88 5 273 5 -82 5 -227 5 400 5 -34 5 52 5 -89 5 -7 5 -204 5 116 5 -226 5 406 5 -172 5 163 5 -212 5 12 5 306 5 -499 5 -7 5 456 5 55 5 -372 5 78 5 206 5 -177 5 99 5 -6 5 136 5 -21 5 -143 5 101 5 -12 5 27 5 -258 5 152 5 102 5 -14 5 60 5 -86 5 250 5 -51 5 -172 5 279 5 -115 5 -121 5 -79 5 187 5 -282 5 -45 5 117 5 -76 5 218 5 -428 5 639 5 -189 5 -13 5 -95 5 180 5 -133 5 -182 5 352 5 -33 5 98 5 -96 5 -60 5 -33 5 220 5 -108 5 -9 5 0 5 -95 5 -293 5 440 5 -172 5 208 5 -163 5 28 5 31 5 -60 5 -102 5 58 5 -98 5 -128 5 29 5 166 5 31 5 152 5 -265 5 188 5 174 5 10 5 -200 5 93 5 36 5 38 5 -107 5 10 5 208 5 -403 5 498 5 -236 5 -108 5 103 5 -69 5 -25 5 123 5 35 5 -170 5 -28 5 171 5 -187 5 -65 5 144 5 -12 5 -192 5 120 5 -142 5 254 5 -195 5 67 5 90 5 -47 5 -236 5 212 5 -149 5 256 5 180 5 -258 5 -151 5 69 5 15 5 38 5 -94 5 40 5 115 5 236 5 -287 5 49 5 34 5 140 5 -288 5 284 5 -72 5 -183 5 128 5 -82 5 -40 5 266 5 -126 5 -8 5 38 5 -219 5 41 5 269 5 25 5 -138 5 -107 5 103 5 -66 5 -179 5 299 5 1 5 -86 5 -18 5 -4 5 75 5 -134 5 136 5 13 5 -160 5 240 5 -223 5 64 5 -34 5 -113 5 -40 5 185 5 31 5 -247 5 166 5 -42 5 68 5 108 5 12 5 -150 5 17 5 -170 5 452 5 -469 5 3 5 136 5 -247 5 220 5 -194 5 61 5 194 5 8 5 -513 5 154 5 71 5 -37 5 141 5 -177 5 50 5 -33 5 347 5 -234 5 -75 5 270 5 -280 5 -112 5 73 5 -198 5 175 5 244 5 -201 5 -158 5 43 5 -141 5 211 5 -193 5 194 5 -8 5 -143 5 13 5 -134 5 182 5 -421 5 394 5 188 5 -271 5 -78 5 79 5 211 5 -195 5 185 5 173 5 -206 5 -132 5 38 5 -260 5 175 5 -117 5 222 5 -105 5 -307 5 378 5 16 5 -249 5 101 5 -134 5 2 5 10 5 -60 5 217 5 76 0 99 -5 255 -5 -440 -5 235 -5 -295 -5 31 -5 281 -5 -86 -5 238 -5 -1 -5 -208 -5 101 -5 41 -5 -47 -5 -14 -5 50 -5 77 -5 -83 -5 51 -5 221 -5 -230 -5 -57 -5 109 -5 -242 -5 87 -5 52 -5 114 -5 -81 -5 -153 -5 35 -5 61 -5 94 -5 -139 -5 120 -5 60 -5 -75 -5 122 -5 -309 -5 237 -5 67 -5 40 -5 136 -5 -19 -5 20 -5 -223 -5 174 -5 35 -5 114 -5 -156 -5 -28 -5 307 -5 -253 -5 143 -5 -86 -5 127 -5 -214 -5 75 -5 -91 -5 160 -5 153 -5 -120 -5 -218 -5 104 -5 -18 -5 230 -5 -90 -5 -78 -5 318 -5 203 -5 -569 -5 168 -5 -3 -5 138 -5 137 -5 -244 -5 37 -5 -40 -5 -125 -5 309 -5 -101 -5 -50 -5 -102 -5 39 -5 70 -5 108 -5 30 -5 -134 -5 78 -5 -93 -5 -157 -5 486 -5 -298 -5 234 -5 -336 -5 176 -5 -46 -5 -88 -5 12 -5 160 -5 -55 -5 -36 -5 352 -5 -311 -5 82 -5 -155 -5 225 -5 -43 -5 -164 -5 253 -5 -178 -5 -65 -5 112 -5 -217 -5 208 -5 -81 -5 64 -5 -23 -5 -132 -5 -68 -5 185 -5 436 -5 -489 -5 -84 -5 -121 -5 278 -5 -2 -5 -4 -5 -264 -5 196 -5 75 -5 15 -5 -31 -5 27 -5 -239 -5 79 -5 27 -5 -8 -5 -11 -5 73 -5 -64 -5 -33 -5 -139 -5 193 -5 -16 -5 -52 -5 179 -5 40 -5 -40 -5 -17 -5 82 -5 -61 -5 -30 -5 43 -5 -170 -5 117 -5 197 -5 -15 -5 -386 -5 328 -5 -203 -5 234 -5 -217 -5 52 -5 42 -5 -98 -5 84 -5 -68 -5 39 -5 -267 -5 204 -5 -140 -5 -78 -5 262 -5 -205 -5 22 -5 193 -5 126 -5 -205 -5 3 -5 205 -5 -78 -5 -103 -5 198 -5 -86 -5 -160 -5 4 -5 -42 -5 74 -5 52 -5 138 -5 -338 -5 167 -5 -53 -5 12 -5 192 -5 -139 -5 -174 -5 63 -5 202 -5 -250 -5 27 -5 155 -5 207 -5 -237 -5 -217 -5 -247 -5 412 -5 -405 -5 187 -5 212 -5 -108 -5 48 -5 109 -5 -49 -5 -114 -5 58 -5 105 -5 -219 -5 121 -5 -9 -5 1 -5 -34 -5 -128 -5 93 -5 32 -5 154 -5 -384 -5 187 -5 276 -5 -403 -5 65 -5 -166 -5 415 -5 -72 -5 -238 -5 304 -5 -154 -5 -344 -5 183 -5 182 -5 -289 -5 29 -5 154 -5 213 -5 -115 -5 -305 -5 159 -5 12 -5 41 -5 209 -5 -288 -5 119 -5 -66 -5 -49 -5 -97 -5 39 -5 -52 -5 -110 -5 57 -5 -119 -5 210 -5 -6 -5 1 -5 -84 -5 -235 -5 268 -5 -166 -5 98 -5 -32 -5 -19 -5 98 -5 -147 -5 1 -5 -86 -5 218 -5 -173 -5 441 -5 -291 -5 -186 -5 192 -5 -90 -5 47 -5 58 -5 65 -5 -313 -5 -213 -5 466 -5 -123 -5 -220 -5 -75 -5 -209 -5 189 -5 217 -5 -108 -5 -135 -5 24 -5 62 -5 18 -5 -9 -5 -7 -5 -43 -5 105 -5 141 -5 -298 -5 52 -5 528 -5 -428 -5 -105 -5 -11 -5 278 -5 14 -5 -229 -5 85 -5 -72 -5 82 -5 -161 -5 28 -5 19 -5 219 -5 -169 -5 -84 -5 29 -5 63 -5 -7 -5 30 -5 -343 -5 174 -5 95 -5 -317 -5 166 -5 102 -5 -136 -5 -40 -5 208 -5 -224 -5 39 -5 90 -5 131 -5 -114 -5 -198 -5 255 -5 -272 -5 -38 -5 191 -5 -101 -5 257 -5 14 -5 -177 -5 -103 -5 77 -5 -165 -5 334 -5 -287 -5 99 -5 107 -5 -205 -5 -88 -5 14 -5 138 -5 211 -5 -493 -5 104 -5 -9 -5 384 -5 -255 -5 -33 -5 199 -5 138 -5 56 -5 -345 -5 63 -5 -147 -5 121 -5 198 -5 -320 -5 -260 -5 135 -5 248 -5 -126 -5 -74 -5 81 -5 164 -5 107 -5 110 -5 -372 -5 105 -5 -12 -5 -223 -5 143 -5 -325 -5 188 -5 350 -5 -380 -5 211 -5 324 -5 -443 -5 148 -5 -146 -5 210 -5 -119 -5 285 -5 -286 -5 293 -5 -88 -5 41 -5 -266 -5 60 -5 6 -5 -236 -5 365 -5 -228 -5 140 -5 -178 -5 158 -5 -80 -5 98 -5 162 -5 -249 -5 66 -5 139 -5 -85 -5 125 -5 -176 -5 -37 -5 -103 -5 376 -5 -363 -5 299 -5 -25 -5 165 -5 -329 -5 39 -5 -62 -5 97 -5 124 -5 -17 -5 -327 -5 271 -5 13 -5 -157 -5 97 -5 -188 -5 170 -5 52 -5 -179 -5 -125 -5 -47 -5 -30 -5 264 -5 -31 -5 -255 -5 229 -5 27 -5 196 -5 -235 -5 -109 -5 -76 -5 400 -5 -66 -5 -298 -5 72 -5 55 -5 5 -5 -118 -5 155 -5 -42 -5 346 -5 133 -5 216 -5 408 -5 685 -5 -214 -5 -48 -5 358 -5 -214 -5 -232 -5 331 -5 92 -5 -215 -5 -121 -5 253 -5 -261 -5 -19 -5 33 -5 -111 -5 69 -5 -39 -5 454 -5 -159 -5 273 -5 -294 -5 110 -5 -204 -5 211 -5 -211 -5 105 -5 26 -5 46 -5 -89 -5 -149 -5 -37 -5 -45 -5 -13 -5 166 -5 145 -5 -146 -5 -220 -5 415 -5 -281 -5 101 -5 -115 -5 -96 -5 219 -5 -83 -5 102 -5 31 -5 -96 -5 -13 -5 -102 -5 159 -5 54 -5 -99 -5 166 -5 -388 -5 191 -5 176 -5 -51 -5 69 -5 -212 -5 -77 -5 133 -5 3 -5 200 -5 -305 -5 168 -5 206 -5 -140 -5 -128 -5 -166 -5 58 -5 156 -5 -397 -5 276 -5 32 -5 -253 -5 338 -5 -12 -5 -33 -5 63 -5 -23 -5 133 -5 -84 -5 -64 -5 -105 -5 91 -5 70 -5 38 -5 -195 -5 296 -5 -54 -5 -143 -5 40 -5 262 -5 -97 -5 -90 -5 -30 -5 10 -5 309 -5 -188 -5 -208 -5 -157 -5 -39 -5 115 -5 -73 -5 190 -5 82 -5 -159 -5 -89 -5 56 -5 -211 -5 24 -5 5 -5 392 -5 -265 -5 134 -5 84 -5 72 -5 -185 -5 162 -5 189 -5 -685 -5 392 -5 -25 -5 -107 -5 36 -5 321 -5 -421 -5 193 -5 14 -5 -105 -5 -306 -5 242 -5 -137 -5 -39 -5 391 -5 -131 -5 -233 -5 263 -5 10 -5 -135 -5 -106 -5 -46 -5 295 -5 -150 -5 -162 -5 102 -5 -104 -5 107 -5 39 -5 52 -5 -125 -5 3 -5 -84 -5 131 -5 30 -5 -121 -5 -57 -5 357 -5 -324 -5 184 -5 -331 -5 236 -5 -45 -5 97 -5 -1 -5 121 -5 -72 -5 210 -5 -158 -5 189 -5 -297 -5 142 -5 -218 -5 -97 -5 399 -5 -304 -5 45 -5 -12 -5 -124 -5 178 -5 -23 -5 58 -5 -39 -5 140 -5 -151 -5 73 -5 197 -5 -192 -5 78 -5 -168 -5 174 -5 -152 -5 308 -5 -109 -5 -8 -5 -22 -5 93 -5 -166 -5 315 -5 -1 -5 -349 -5 309 -5 -75 -5 -36 -5 -102 -5 24 -5 -207 -5 43 -5 50 -5 67 -5 -40 -5 278 -5 -54 -5 -162 -5 -28 -5 217 -5 -346 -5 290 -5 -338 -5 123 -5 188 -5 316 -5 -328 -5 -167z" fill="#a19c9a" stroke="#a19c9a" stroke-width="4" stroke-opacity="0.5"/>
<path transform="scale(0.1)" d="M8815 11098l5 -75 5 433 5 -258 5 -134 5 -68 5 91 5 -93 5 150 5 -50 5 71 5 117 5 -29 5 -127 5 60 5 -154 5 -34 5 -39 5 161 5 -146 5 245 5 4 5 -53 5 -57 5 225 5 -5 5 -200 5 127 5 -200 5 74 5 4 5 6 5 -107 5 130 5 -155 5 158 5 -82 5 56 5 -160 5 54 5 112 5 -319 5 244 5 -53 5 -37 5 -188 5 198 5 -111 5 70 5 170 5 -248 5 3 5 140 5 -10 5 140 5 11 5 -139 5 -123 5 123 5 -104 5 -107 5 109 5 -54 5 -100 5 276 5 -213 5 251 5 -261 5 13 5 61 5 49 5 -80 5 25 5 -58 5 108 5 -120 5 165 5 -101 5 21 5 -182 5 294 5 -97 5 -138 5 188 5 45 5 -118 5 78 5 -129 5 186 5 -104 5 -47 5 -50 5 263 5 -291 5 266 5 78 5 -48 5 -121 5 62 5 -64 5 25 5 48 5 38 5 -229 5 434 5 -56 5 -121 5 92 5 100 5 -223 5 2 5 205 5 -327 5 -50 5 -25 5 193 5 -55 5 148 5 -141 5 99 5 -113 5 100 5 -104 5 39 5 -21 5 313 5 39 5 -236 5 128 5 -58 5 21 5 3 5 -111 5 51 5 8 5 159 5 -277 5 128 5 -116 5 82 5 -70 5 81 5 3 5 -30 5 67 5 -23 5 -78 5 -16 5 64 5 -348 5 324 5 -85 5 -286 5 308 5 -130 5 32 5 89 5 136 5 24 5 -152 5 -44 5 315 5 -231 5 61 5 -159 5 85 5 113 5 -26 5 -80 5 -150 5 -176 5 293 5 25 5 -61 5 45 5 -71 5 56 5 64 5 62 5 -90 5 -72 5 84 5 -148 5 51 5 89 5 -228 5 321 5 -245 5 -55 5 225 5 -11 5 -103 5 -39 5 121 5 32 5 -56 5 66 5 156 5 -97 5 -14 5 147 5 -196 5 111 5 -175 5 216 5 -48 5 71 5 -299 5 3 5 -42 5 -2 5 77 5 10 5 257 5 -232 5 89 5 -14 5 82 5 -269 5 102 5 169 5 -196 5 69 5 82 5 -560 5 -419 5 -245 5 -150 5 -282 5 -84 5 -67 5 123 5 -31 5 -52 5 -25 5 180 5 8 5 -228 5 78 5 54 5 19 5 -5 5 -252 5 75 5 163 5 102 5 -265 5 30 5 41 5 41 5 301 5 -51 5 -180 5 91 5 -90 5 67 5 3 5 -110 5 113 5 -40 5 -4 5 13 5 -52 5 -36 5 295 5 -136 5 51 5 -149 5 167 5 -183 5 -17 5 38 5 169 5 -104 5 92 5 -167 5 -62 5 242 5 -41 5 -109 5 33 5 -163 5 138 5 -42 5 150 5 -282 5 142 5 -26 5 67 5 196 5 -26 5 -63 5 -197 5 120 5 -120 5 -10 5 -22 5 -79 5 37 5 204 5 -114 5 -234 5 266 5 -257 5 -43 5 258 5 -66 5 193 5 -218 5 135 5 67 5 -86 5 25 5 -19 5 -94 5 43 5 93 5 -162 5 -144 5 253 5 74 5 90 5 -148 5 103 5 -62 5 224 5 -70 5 -26 5 -195 5 86 5 202 5 -327 5 -56 5 -24 5 440 5 -267 5 -78 5 42 5 75 5 157 5 -145 5 -8 5 -111 5 -20 5 108 5 -92 5 232 5 -15 5 -71 5 -76 5 112 5 -167 5 89 5 129 5 -85 5 73 5 29 5 68 5 -285 5 77 5 276 5 -269 5 9 5 160 5 -90 5 -157 5 212 5 -33 5 -78 5 256 5 41 5 48 5 -145 5 -110 5 205 5 71 5 -173 5 43 5 -58 5 94 5 32 5 -11 5 -19 5 128 5 28 5 -285 5 -189 5 190 5 265 5 -147 5 -138 5 290 5 -150 5 -37 5 60 5 -20 5 -163 5 149 5 -19 5 -216 5 310 5 127 5 -295 5 -108 5 204 5 21 5 169 5 1 5 -242 5 54 5 109 5 133 5 57 5 -30 5 18 5 -180 5 151 5 -31 5 -104 5 -3 5 55 5 -18 5 49 5 204 5 -181 5 80 5 -10 5 -39 5 123 5 -202 5 191 5 -32 5 0 5 44 5 -77 5 -11 5 11 5 158 5 39 5 -17 5 -59 5 212 5 -98 5 56 5 -13 5 45 5 -187 5 32 5 -19 5 206 5 -12 5 -55 5 -212 5 20 5 270 5 -104 5 -169 5 349 5 -59 5 -171 5 71 5 175 5 -276 5 60 5 27 5 192 5 -116 5 -112 5 80 5 -39 5 141 5 -202 5 192 5 -93 5 48 5 126 5 -245 5 315 5 -81 5 -77 5 156 5 21 5 -171 5 15 5 -2 5 -96 5 -182 5 281 5 -284 5 240 5 48 5 326 5 -124 5 -195 5 -17 5 145 5 -132 5 -52 5 145 5 119 5 -84 5 -50 5 -80 5 -18 5 198 5 -104 5 42 5 -33 5 -78 5 -32 5 220 5 -16 5 -25 5 -4 5 -10 5 -69 5 4 5 84 5 -6 5 -140 5 -201 5 174 5 -29 5 61 5 76 5 -254 5 274 5 88 5 -14 5 -142 5 164 5 -37 5 -5 5 54 5 -162 5 207 5 -411 5 556 5 -143 5 -101 5 -39 5 85 5 -62 5 10 5 23 5 -90 5 38 5 9 5 20 5 -129 5 93 5 -61 5 -114 5 152 5 -92 5 168 5 -84 5 14 5 39 5 -59 5 -107 5 179 5 28 5 -105 5 189 5 -153 5 -143 5 150 5 -66 5 5 5 -102 5 79 5 28 5 366 5 -280 5 -124 5 92 5 89 5 -185 5 176 5 -40 5 -131 5 117 5 -73 5 38 5 116 5 -36 5 -4 5 16 5 -159 5 125 5 46 5 86 5 -109 5 -163 5 172 5 -106 5 27 5 87 5 40 5 -163 5 233 5 -261 5 176 5 -229 5 143 5 -30 5 -99 5 208 5 -128 5 35 5 -103 5 -23 5 18 5 20 5 49 5 -104 5 89 5 -38 5 36 5 146 5 -35 5 -132 5 14 5 -156 5 372 5 -295 5 -128 5 116 5 -94 5 40 5 -16 5 -93 5 222 5 91 5 -304 5 40 5 -11 5 -23 5 -16 5 104 5 -69 5 -1 5 152 5 -141 5 -32 5 121 5 -208 5 111 5 -146 5 -70 5 271 5 -50 5 -204 5 28 5 -104 5 -133 5 198 5 -158 5 133 5 45 5 -131 5 22 5 -82 5 58 5 -69 5 30 5 219 5 -150 5 -8 5 -116 5 234 5 -106 5 96 5 157 5 -183 5 -76 5 111 5 -151 5 34 5 12 5 45 5 -44 5 -79 5 14 5 92 5 -143 5 -83 5 -132 5 6 5 184 5 -156 5 278 5 -75" fill="none" stroke="#982816" stroke-width="12" stroke-linejoin="bevel"/>
</g>
<line x1="881.2" x2="1237.5" y1="1109.1" y2="1109.1" stroke="#5a5a5a" stroke-width="1.4"/>
<line x1="881.2" x2="881.2" y1="898.7" y2="1179.5" stroke="#5b5550" stroke-width="1.4"/>
<line x1="880.5" x2="1237.5" y1="1179.5" y2="1179.5" stroke="#5b5550" stroke-width="1.5"/>
<line x1="877.4" x2="881.2" y1="922.1" y2="922.1" stroke="#5b5550" stroke-width="1.3"/>
<text x="871.8" y="928.7" font-size="18.3" text-anchor="end" fill="#222" font-weight="normal" textLength="8.0" lengthAdjust="spacingAndGlyphs" stroke="#222" stroke-width="0.3">4</text>
<line x1="877.4" x2="881.2" y1="968.8" y2="968.8" stroke="#5b5550" stroke-width="1.3"/>
<text x="871.8" y="975.4" font-size="18.3" text-anchor="end" fill="#222" font-weight="normal" textLength="8.0" lengthAdjust="spacingAndGlyphs" stroke="#222" stroke-width="0.3">3</text>
<line x1="877.4" x2="881.2" y1="1015.6" y2="1015.6" stroke="#5b5550" stroke-width="1.3"/>
<text x="871.8" y="1022.2" font-size="18.3" text-anchor="end" fill="#222" font-weight="normal" textLength="8.0" lengthAdjust="spacingAndGlyphs" stroke="#222" stroke-width="0.3">2</text>
<line x1="877.4" x2="881.2" y1="1062.3" y2="1062.3" stroke="#5b5550" stroke-width="1.3"/>
<text x="871.8" y="1068.9" font-size="18.3" text-anchor="end" fill="#222" font-weight="normal" textLength="8.0" lengthAdjust="spacingAndGlyphs" stroke="#222" stroke-width="0.3">1</text>
<line x1="877.4" x2="881.2" y1="1109.1" y2="1109.1" stroke="#5b5550" stroke-width="1.3"/>
<text x="871.8" y="1115.7" font-size="18.3" text-anchor="end" fill="#222" font-weight="normal" textLength="8.0" lengthAdjust="spacingAndGlyphs" stroke="#222" stroke-width="0.3">0</text>
<line x1="877.4" x2="881.2" y1="1155.8" y2="1155.8" stroke="#5b5550" stroke-width="1.3"/>
<text x="873.8" y="1162.4" font-size="18.3" text-anchor="end" fill="#222" font-weight="normal" textLength="14.5" lengthAdjust="spacingAndGlyphs" stroke="#222" stroke-width="0.3">&#8722;1</text>
<line x1="882.4" x2="882.4" y1="1179.5" y2="1183.3" stroke="#5b5550" stroke-width="1.3"/>
<text x="881.4" y="1202.9" font-size="18.3" text-anchor="middle" fill="#222" font-weight="normal" textLength="30.4" lengthAdjust="spacingAndGlyphs" stroke="#222" stroke-width="0.3">-680</text>
<line x1="993.0" x2="993.0" y1="1179.5" y2="1183.3" stroke="#5b5550" stroke-width="1.3"/>
<text x="991.0" y="1202.9" font-size="18.3" text-anchor="middle" fill="#222" font-weight="normal" textLength="7.6" lengthAdjust="spacingAndGlyphs" stroke="#222" stroke-width="0.3">0</text>
<line x1="1093.8" x2="1093.8" y1="1179.5" y2="1183.3" stroke="#5b5550" stroke-width="1.3"/>
<text x="1095.8" y="1202.9" font-size="18.3" text-anchor="middle" fill="#222" font-weight="normal" textLength="24.6" lengthAdjust="spacingAndGlyphs" stroke="#222" stroke-width="0.3">700</text>
<line x1="1220.8" x2="1220.8" y1="1179.5" y2="1183.3" stroke="#5b5550" stroke-width="1.3"/>
<text x="1220.7" y="1202.9" font-size="18.3" text-anchor="middle" fill="#222" font-weight="normal" textLength="33.0" lengthAdjust="spacingAndGlyphs" stroke="#222" stroke-width="0.3">1400</text>
<text x="0" y="0" font-size="15.5" text-anchor="middle" fill="#222" stroke="#222" stroke-width="0.25" textLength="97.5" lengthAdjust="spacingAndGlyphs" transform="translate(850.9,1024.2) rotate(-90)">&#916; BOLD [%]</text>
<line x1="1413.0" x2="1883.0" y1="299.7" y2="299.7" stroke="#dcdcdc" stroke-width="1.5"/>
<line x1="1507.0" x2="1507.0" y1="80.6" y2="354.5" stroke="#dcdcdc" stroke-width="1.5"/>
<line x1="1413.0" x2="1883.0" y1="244.9" y2="244.9" stroke="#dcdcdc" stroke-width="1.5"/>
<line x1="1601.0" x2="1601.0" y1="80.6" y2="354.5" stroke="#dcdcdc" stroke-width="1.5"/>
<line x1="1413.0" x2="1883.0" y1="190.2" y2="190.2" stroke="#dcdcdc" stroke-width="1.5"/>
<line x1="1695.0" x2="1695.0" y1="80.6" y2="354.5" stroke="#dcdcdc" stroke-width="1.5"/>
<line x1="1413.0" x2="1883.0" y1="135.4" y2="135.4" stroke="#dcdcdc" stroke-width="1.5"/>
<line x1="1789.0" x2="1789.0" y1="80.6" y2="354.5" stroke="#dcdcdc" stroke-width="1.5"/>
<line x1="1413.0" x2="1883.0" y1="80.6" y2="80.6" stroke="#dcdcdc" stroke-width="1.5"/>
<line x1="1883.0" x2="1883.0" y1="80.6" y2="354.5" stroke="#dcdcdc" stroke-width="1.5"/>
<circle cx="1727.2" cy="93.8" r="5.2" fill="#231f1c"/>
<circle cx="1733.2" cy="135.8" r="5.2" fill="#231f1c"/>
<circle cx="1621.2" cy="218.2" r="5.2" fill="#231f1c"/>
<circle cx="1579.3" cy="249.5" r="5.2" fill="#231f1c"/>
<circle cx="1493.3" cy="257" r="5.2" fill="#231f1c"/>
<circle cx="1656.8" cy="167" r="5.2" fill="#e3231b"/>
<circle cx="1547" cy="217.5" r="5.2" fill="#e3231b"/>
<circle cx="1604.5" cy="217.5" r="5.2" fill="#e3231b"/>
<circle cx="1606" cy="226" r="5.2" fill="#e3231b"/>
<circle cx="1571.5" cy="240" r="5.2" fill="#e3231b"/>
<circle cx="1598.8" cy="249.5" r="5.2" fill="#e3231b"/>
<circle cx="1604.2" cy="177.7" r="5.2" fill="#fbbb16"/>
<circle cx="1638.3" cy="232.8" r="5.2" fill="#fbbb16"/>
<circle cx="1529.9" cy="248.8" r="5.2" fill="#fbbb16"/>
<circle cx="1541.3" cy="279" r="5.2" fill="#fbbb16"/>
<circle cx="1479.4" cy="330.6" r="5.2" fill="#fbbb16"/>
<circle cx="1467" cy="337" r="5.2" fill="#fbbb16"/>
<line x1="1467.3" y1="316.4" x2="1734" y2="121.9" stroke="#bab7b2" stroke-width="2"/>
<line x1="1413.0" x2="1413.0" y1="79.6" y2="355.7" stroke="#231f1c" stroke-width="2.3"/>
<line x1="1411.8" x2="1884.0" y1="354.5" y2="354.5" stroke="#231f1c" stroke-width="2.3"/>
<line x1="1407.0" x2="1413.0" y1="353.0" y2="353.0" stroke="#231f1c" stroke-width="3"/>
<text x="1381.0" y="362.2" font-size="22" text-anchor="middle" fill="#231f1c" font-weight="normal" >2</text>
<text x="1413.0" y="394.3" font-size="22" text-anchor="middle" fill="#231f1c" font-weight="normal" >2</text>
<line x1="1407.0" x2="1413.0" y1="298.2" y2="298.2" stroke="#231f1c" stroke-width="3"/>
<line x1="1508.5" x2="1508.5" y1="354.5" y2="360.7" stroke="#231f1c" stroke-width="3"/>
<text x="1381.0" y="307.4" font-size="22" text-anchor="middle" fill="#231f1c" font-weight="normal" >3</text>
<text x="1507.0" y="394.3" font-size="22" text-anchor="middle" fill="#231f1c" font-weight="normal" >3</text>
<line x1="1407.0" x2="1413.0" y1="243.4" y2="243.4" stroke="#231f1c" stroke-width="3"/>
<line x1="1602.5" x2="1602.5" y1="354.5" y2="360.7" stroke="#231f1c" stroke-width="3"/>
<text x="1381.0" y="252.6" font-size="22" text-anchor="middle" fill="#231f1c" font-weight="normal" >4</text>
<text x="1601.0" y="394.3" font-size="22" text-anchor="middle" fill="#231f1c" font-weight="normal" >4</text>
<line x1="1407.0" x2="1413.0" y1="188.7" y2="188.7" stroke="#231f1c" stroke-width="3"/>
<line x1="1696.5" x2="1696.5" y1="354.5" y2="360.7" stroke="#231f1c" stroke-width="3"/>
<text x="1381.0" y="197.9" font-size="22" text-anchor="middle" fill="#231f1c" font-weight="normal" >5</text>
<text x="1695.0" y="394.3" font-size="22" text-anchor="middle" fill="#231f1c" font-weight="normal" >5</text>
<line x1="1407.0" x2="1413.0" y1="133.9" y2="133.9" stroke="#231f1c" stroke-width="3"/>
<line x1="1790.5" x2="1790.5" y1="354.5" y2="360.7" stroke="#231f1c" stroke-width="3"/>
<text x="1381.0" y="143.1" font-size="22" text-anchor="middle" fill="#231f1c" font-weight="normal" >6</text>
<text x="1789.0" y="394.3" font-size="22" text-anchor="middle" fill="#231f1c" font-weight="normal" >6</text>
<line x1="1407.0" x2="1413.0" y1="79.1" y2="79.1" stroke="#231f1c" stroke-width="3"/>
<line x1="1884.5" x2="1884.5" y1="354.5" y2="360.7" stroke="#231f1c" stroke-width="3"/>
<text x="1381.0" y="88.3" font-size="22" text-anchor="middle" fill="#231f1c" font-weight="normal" >7</text>
<text x="1883.0" y="394.3" font-size="22" text-anchor="middle" fill="#231f1c" font-weight="normal" >7</text>
<text x="1617.8" y="72.7" font-size="23.2" text-anchor="middle" fill="#231f1c" font-weight="normal" textLength="185.5" lengthAdjust="spacingAndGlyphs" >max. &#916;BOLD [%]</text>
<text x="1637.0" y="424.5" font-size="20" text-anchor="middle" fill="#231f1c" font-weight="normal" textLength="113.0" lengthAdjust="spacingAndGlyphs" >contralateral</text>
<text x="0" y="0" font-size="21" text-anchor="middle" fill="#231f1c" textLength="84" lengthAdjust="spacingAndGlyphs" transform="translate(1357.4,247.6) rotate(-90)">ipsilateral</text>
<text x="1770.5" y="289.5" font-size="17" text-anchor="middle" fill="#231f1c" font-weight="normal" textLength="163.5" lengthAdjust="spacingAndGlyphs" >y = 1.2522x - 0.5374</text>
<text x="1770.8" y="310.8" font-size="17" text-anchor="middle" fill="#231f1c" font-weight="normal" textLength="91.7" lengthAdjust="spacingAndGlyphs" >R&#178; = 0.8199</text>
<line x1="1416.6" x2="1871.0" y1="697.0" y2="697.0" stroke="#dcdcdc" stroke-width="1.5"/>
<line x1="1530.2" x2="1530.2" y1="492.4" y2="765.2" stroke="#dcdcdc" stroke-width="1.5"/>
<line x1="1416.6" x2="1871.0" y1="628.8" y2="628.8" stroke="#dcdcdc" stroke-width="1.5"/>
<line x1="1643.8" x2="1643.8" y1="492.4" y2="765.2" stroke="#dcdcdc" stroke-width="1.5"/>
<line x1="1416.6" x2="1871.0" y1="560.6" y2="560.6" stroke="#dcdcdc" stroke-width="1.5"/>
<line x1="1757.4" x2="1757.4" y1="492.4" y2="765.2" stroke="#dcdcdc" stroke-width="1.5"/>
<line x1="1416.6" x2="1871.0" y1="492.4" y2="492.4" stroke="#dcdcdc" stroke-width="1.5"/>
<line x1="1871.0" x2="1871.0" y1="492.4" y2="765.2" stroke="#dcdcdc" stroke-width="1.5"/>
<circle cx="1786.5" cy="506.5" r="5.2" fill="#e3231b"/>
<circle cx="1642.6" cy="572.2" r="5.2" fill="#e3231b"/>
<circle cx="1694.1" cy="574.4" r="5.2" fill="#e3231b"/>
<circle cx="1577.5" cy="596.4" r="5.2" fill="#e3231b"/>
<circle cx="1688.8" cy="594.3" r="5.2" fill="#e3231b"/>
<circle cx="1650.7" cy="616.7" r="5.2" fill="#e3231b"/>
<circle cx="1622.3" cy="627.7" r="5.2" fill="#231f1c"/>
<circle cx="1621.2" cy="639.8" r="5.2" fill="#231f1c"/>
<circle cx="1573.2" cy="659.3" r="5.2" fill="#231f1c"/>
<circle cx="1506.4" cy="688.1" r="5.2" fill="#231f1c"/>
<circle cx="1451.7" cy="748.5" r="5.2" fill="#231f1c"/>
<circle cx="1705.8" cy="582.5" r="5.2" fill="#fbbb16"/>
<circle cx="1611.6" cy="638" r="5.2" fill="#fbbb16"/>
<circle cx="1549" cy="648.7" r="5.2" fill="#fbbb16"/>
<circle cx="1570.4" cy="681" r="5.2" fill="#fbbb16"/>
<circle cx="1543.7" cy="700.5" r="5.2" fill="#fbbb16"/>
<circle cx="1506.4" cy="708.7" r="5.2" fill="#fbbb16"/>
<line x1="1451.7" y1="737.2" x2="1787.2" y2="513.9" stroke="#bab7b2" stroke-width="2"/>
<line x1="1416.6" x2="1416.6" y1="491.4" y2="766.4" stroke="#231f1c" stroke-width="2.3"/>
<line x1="1415.4" x2="1872.0" y1="765.2" y2="765.2" stroke="#231f1c" stroke-width="2.3"/>
<line x1="1410.6" x2="1416.6" y1="764.0" y2="764.0" stroke="#231f1c" stroke-width="3"/>
<line x1="1418.1" x2="1418.1" y1="765.2" y2="771.4" stroke="#231f1c" stroke-width="3"/>
<text x="1392.0" y="772.7" font-size="22" text-anchor="end" fill="#231f1c" font-weight="normal" >0</text>
<text x="1416.6" y="807.9" font-size="22" text-anchor="middle" fill="#231f1c" font-weight="normal" >0</text>
<line x1="1410.6" x2="1416.6" y1="695.8" y2="695.8" stroke="#231f1c" stroke-width="3"/>
<line x1="1531.7" x2="1531.7" y1="765.2" y2="771.4" stroke="#231f1c" stroke-width="3"/>
<text x="1392.0" y="704.5" font-size="22" text-anchor="end" fill="#231f1c" font-weight="normal" textLength="38.5" lengthAdjust="spacingAndGlyphs" >500</text>
<text x="1530.7" y="807.9" font-size="22" text-anchor="middle" fill="#231f1c" font-weight="normal" textLength="38.5" lengthAdjust="spacingAndGlyphs" >500</text>
<line x1="1410.6" x2="1416.6" y1="627.6" y2="627.6" stroke="#231f1c" stroke-width="3"/>
<line x1="1645.3" x2="1645.3" y1="765.2" y2="771.4" stroke="#231f1c" stroke-width="3"/>
<text x="1392.0" y="636.3" font-size="22" text-anchor="end" fill="#231f1c" font-weight="normal" textLength="51.0" lengthAdjust="spacingAndGlyphs" >1000</text>
<text x="1644.3" y="807.9" font-size="22" text-anchor="middle" fill="#231f1c" font-weight="normal" textLength="51.0" lengthAdjust="spacingAndGlyphs" >1000</text>
<line x1="1410.6" x2="1416.6" y1="559.4" y2="559.4" stroke="#231f1c" stroke-width="3"/>
<line x1="1758.9" x2="1758.9" y1="765.2" y2="771.4" stroke="#231f1c" stroke-width="3"/>
<text x="1392.0" y="568.1" font-size="22" text-anchor="end" fill="#231f1c" font-weight="normal" textLength="51.0" lengthAdjust="spacingAndGlyphs" >1500</text>
<text x="1757.9" y="807.9" font-size="22" text-anchor="middle" fill="#231f1c" font-weight="normal" textLength="51.0" lengthAdjust="spacingAndGlyphs" >1500</text>
<line x1="1410.6" x2="1416.6" y1="491.2" y2="491.2" stroke="#231f1c" stroke-width="3"/>
<line x1="1872.5" x2="1872.5" y1="765.2" y2="771.4" stroke="#231f1c" stroke-width="3"/>
<text x="1392.0" y="499.9" font-size="22" text-anchor="end" fill="#231f1c" font-weight="normal" textLength="51.0" lengthAdjust="spacingAndGlyphs" >2000</text>
<text x="1871.5" y="805.0" font-size="22" text-anchor="middle" fill="#231f1c" font-weight="normal" textLength="51.0" lengthAdjust="spacingAndGlyphs" >2000</text>
<text x="1640.8" y="479.9" font-size="23.2" text-anchor="middle" fill="#231f1c" font-weight="normal" textLength="189.3" lengthAdjust="spacingAndGlyphs" >Int. &#916;BOLD [%*s]</text>
<text x="1654.0" y="856.0" font-size="20" text-anchor="middle" fill="#231f1c" font-weight="normal" textLength="112.0" lengthAdjust="spacingAndGlyphs" >contralateral</text>
<text x="0" y="0" font-size="21" text-anchor="middle" fill="#231f1c" textLength="84" lengthAdjust="spacingAndGlyphs" transform="translate(1328.2,624.7) rotate(-90)">ipsilateral</text>
<text x="1739.0" y="702.5" font-size="17" text-anchor="middle" fill="#231f1c" font-weight="normal" textLength="152.0" lengthAdjust="spacingAndGlyphs" >y = 1.101x + 38.718</text>
<text x="1739.5" y="725.8" font-size="17" text-anchor="middle" fill="#231f1c" font-weight="normal" textLength="89.0" lengthAdjust="spacingAndGlyphs" >R&#178; = 0.8689</text>
<rect x="1388" y="995.5" width="44.4" height="7.5" fill="#231f1c"/>
<text x="1449.9" y="1010.5" font-size="28" text-anchor="start" fill="#231f1c" font-weight="normal" textLength="59.0" lengthAdjust="spacingAndGlyphs" >1 mA</text>
<rect x="1558.6" y="995.5" width="48.6" height="7.5" fill="#fbb731"/>
<text x="1619.0" y="1010.5" font-size="28" text-anchor="start" fill="#231f1c" font-weight="normal" textLength="59.0" lengthAdjust="spacingAndGlyphs" >2 mA</text>
<rect x="1736.8" y="995.5" width="44.6" height="7.5" fill="#e3231b"/>
<text x="1801.4" y="1010.5" font-size="28" text-anchor="start" fill="#231f1c" font-weight="normal" textLength="59.0" lengthAdjust="spacingAndGlyphs" >3 mA</text>
</svg></body></html>
